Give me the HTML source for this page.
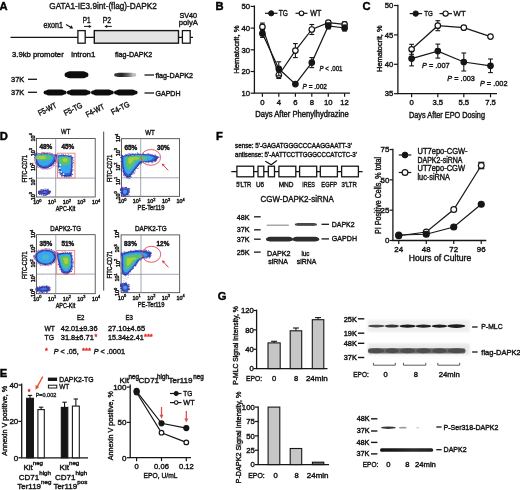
<!DOCTYPE html>
<html><head><meta charset="utf-8"><title>Figure</title>
<style>
html,body{margin:0;padding:0;background:#fff;}
body{width:520px;height:490px;overflow:hidden;}
svg{display:block;}
svg text{font-family:"Liberation Sans", Arial, sans-serif;}
</style></head><body>
<svg width="520" height="490" viewBox="0 0 520 490">
<defs>
<filter id="bl1" x="-20%" y="-50%" width="140%" height="200%"><feGaussianBlur stdDeviation="0.9"/></filter>
<filter id="bl05" x="-20%" y="-80%" width="140%" height="260%"><feGaussianBlur stdDeviation="0.5"/></filter>
<filter id="bl06" x="-30%" y="-30%" width="160%" height="160%"><feGaussianBlur stdDeviation="0.55"/></filter>
<filter id="bl03" x="-30%" y="-30%" width="160%" height="160%"><feGaussianBlur stdDeviation="0.3"/></filter>
<filter id="bl08" x="-30%" y="-30%" width="160%" height="160%"><feGaussianBlur stdDeviation="0.7"/></filter>
<linearGradient id="gA" x1="0" x2="1" y1="0" y2="0"><stop offset="0" stop-color="#383838"/><stop offset="0.3" stop-color="#262626"/><stop offset="0.65" stop-color="#686868"/><stop offset="1" stop-color="#d0d0d0"/></linearGradient>
<linearGradient id="gD" x1="0" x2="1" y1="0" y2="0"><stop offset="0" stop-color="#141414"/><stop offset="0.3" stop-color="#1c1c1c"/><stop offset="0.6" stop-color="#2c2c2c"/><stop offset="1" stop-color="#222"/></linearGradient>
</defs>
<rect width="520" height="490" fill="#fff"/>
<g fill="#161616">
<text x="-0.40" y="9.80" font-size="11.2" font-weight="bold" fill="#000" stroke="#000" stroke-width="0.42">A</text>
<text x="49.30" y="9.40" font-size="9.8" textLength="107.50" lengthAdjust="spacingAndGlyphs" stroke="#161616" stroke-width="0.42">GATA1-IE3.9int-(flag)-DAPK2</text>
<text x="43.50" y="27.60" font-size="8.2" textLength="19.40" lengthAdjust="spacingAndGlyphs" stroke="#161616" stroke-width="0.42">exon1</text>
<line x1="66.00" y1="24.40" x2="71.20" y2="27.40" stroke="#161616" stroke-width="1.2"/>
<path d="M73.2,28.6 L69.4,28.4 L71.4,25.2 Z" fill="#161616" stroke="none" stroke-width="1"/>
<text x="82.80" y="22.50" font-size="8.2" textLength="7.80" lengthAdjust="spacingAndGlyphs" stroke="#161616" stroke-width="0.42">P1</text>
<text x="102.70" y="22.50" font-size="8.2" textLength="8.30" lengthAdjust="spacingAndGlyphs" stroke="#161616" stroke-width="0.42">P2</text>
<line x1="84.00" y1="26.40" x2="89.50" y2="26.40" stroke="#161616" stroke-width="1"/>
<path d="M91.6,26.4 L88.8,24.8 L88.8,28.0 Z" fill="#161616" stroke="none" stroke-width="1"/>
<line x1="106.50" y1="26.40" x2="111.80" y2="26.40" stroke="#161616" stroke-width="1"/>
<path d="M104.4,26.4 L107.2,24.8 L107.2,28.0 Z" fill="#161616" stroke="none" stroke-width="1"/>
<line x1="10.50" y1="37.30" x2="193.00" y2="37.30" stroke="#161616" stroke-width="1.3"/>
<rect x="77.90" y="30.60" width="7.30" height="12.60" fill="#fff" stroke="#161616" stroke-width="1.3"/>
<rect x="94.30" y="30.60" width="84.20" height="12.60" fill="#e4e4e4" stroke="#161616" stroke-width="1.4"/>
<rect x="182.40" y="30.60" width="7.80" height="12.60" fill="#fff" stroke="#161616" stroke-width="1.3"/>
<text x="179.40" y="17.90" font-size="7.8" textLength="17.60" lengthAdjust="spacingAndGlyphs" stroke="#161616" stroke-width="0.42">SV40</text>
<text x="178.80" y="24.70" font-size="7.8" textLength="19.20" lengthAdjust="spacingAndGlyphs" stroke="#161616" stroke-width="0.42">polyA</text>
<text x="12.00" y="57.20" font-size="8.0" textLength="51.70" lengthAdjust="spacingAndGlyphs" stroke="#161616" stroke-width="0.42">3.9kb promoter</text>
<text x="71.20" y="57.20" font-size="8.0" textLength="24.20" lengthAdjust="spacingAndGlyphs" stroke="#161616" stroke-width="0.42">intron1</text>
<text x="115.00" y="57.30" font-size="7.8" textLength="37.30" lengthAdjust="spacingAndGlyphs" stroke="#161616" stroke-width="0.42">flag-DAPK2</text>
<text x="11.00" y="82.40" font-size="8" textLength="13.20" lengthAdjust="spacingAndGlyphs" stroke="#161616" stroke-width="0.42">37K</text>
<text x="11.00" y="95.40" font-size="8" textLength="13.20" lengthAdjust="spacingAndGlyphs" stroke="#161616" stroke-width="0.42">37K</text>
<line x1="28.00" y1="79.30" x2="37.00" y2="79.30" stroke="#161616" stroke-width="1.3"/>
<line x1="28.00" y1="92.30" x2="37.00" y2="92.30" stroke="#161616" stroke-width="1.3"/>
<line x1="144.50" y1="75.00" x2="154.00" y2="75.00" stroke="#161616" stroke-width="1.3"/>
<line x1="144.50" y1="93.00" x2="154.00" y2="93.00" stroke="#161616" stroke-width="1.3"/>
<text x="155.50" y="78.30" font-size="7.5" textLength="37.50" lengthAdjust="spacingAndGlyphs" stroke="#161616" stroke-width="0.42">flag-DAPK2</text>
<text x="155.50" y="96.30" font-size="7.5" textLength="25.00" lengthAdjust="spacingAndGlyphs" stroke="#161616" stroke-width="0.42">GAPDH</text>
<g filter="url(#bl08)" fill="#0e0e0e"><rect x="64.60" y="72.28" width="23.80" height="5.04" rx="2.52"/><rect x="66.38" y="71.30" width="20.23" height="7.00" rx="3.50"/></g>
<g filter="url(#bl06)" fill="url(#gA)"><rect x="114.20" y="73.32" width="22.20" height="3.17" rx="1.58"/><rect x="116.42" y="72.70" width="17.76" height="4.40" rx="2.20"/></g>
<g filter="url(#bl08)" fill="#111"><rect x="43.60" y="90.41" width="23.00" height="4.18" rx="2.09"/><rect x="45.90" y="89.60" width="18.40" height="5.80" rx="2.90"/></g>
<g filter="url(#bl08)" fill="#111"><rect x="66.80" y="90.41" width="23.80" height="4.18" rx="2.09"/><rect x="69.18" y="89.60" width="19.04" height="5.80" rx="2.90"/></g>
<g filter="url(#bl08)" fill="#111"><rect x="91.00" y="90.41" width="22.80" height="4.18" rx="2.09"/><rect x="93.28" y="89.60" width="18.24" height="5.80" rx="2.90"/></g>
<g filter="url(#bl08)" fill="#111"><rect x="114.00" y="90.41" width="23.60" height="4.18" rx="2.09"/><rect x="116.36" y="89.60" width="18.88" height="5.80" rx="2.90"/></g>
<text x="39.80" y="116.00" font-size="8" textLength="19.60" lengthAdjust="spacingAndGlyphs" stroke="#161616" stroke-width="0.42" transform="rotate(-27 39.80 116.00)">F5-WT</text>
<text x="65.60" y="115.90" font-size="8" textLength="19.60" lengthAdjust="spacingAndGlyphs" stroke="#161616" stroke-width="0.42" transform="rotate(-27 65.60 115.90)">F5-TG</text>
<text x="87.50" y="117.40" font-size="8" textLength="19.60" lengthAdjust="spacingAndGlyphs" stroke="#161616" stroke-width="0.42" transform="rotate(-27 87.50 117.40)">F4-WT</text>
<text x="112.80" y="114.90" font-size="8" textLength="19.60" lengthAdjust="spacingAndGlyphs" stroke="#161616" stroke-width="0.42" transform="rotate(-27 112.80 114.90)">F4-TG</text>
<text x="215.50" y="10.30" font-size="11.2" font-weight="bold" fill="#000" stroke="#000" stroke-width="0.42">B</text>
<line x1="254.40" y1="5.50" x2="254.40" y2="93.20" stroke="#161616" stroke-width="1.3"/>
<line x1="253.80" y1="93.20" x2="350.00" y2="93.20" stroke="#161616" stroke-width="1.3"/>
<line x1="250.60" y1="93.20" x2="254.40" y2="93.20" stroke="#161616" stroke-width="1.2"/>
<text x="250.00" y="95.90" font-size="7.7" text-anchor="end" stroke="#161616" stroke-width="0.42">10</text>
<line x1="250.60" y1="71.50" x2="254.40" y2="71.50" stroke="#161616" stroke-width="1.2"/>
<text x="250.00" y="74.20" font-size="7.7" text-anchor="end" stroke="#161616" stroke-width="0.42">20</text>
<line x1="250.60" y1="49.80" x2="254.40" y2="49.80" stroke="#161616" stroke-width="1.2"/>
<text x="250.00" y="52.50" font-size="7.7" text-anchor="end" stroke="#161616" stroke-width="0.42">30</text>
<line x1="250.60" y1="28.10" x2="254.40" y2="28.10" stroke="#161616" stroke-width="1.2"/>
<text x="250.00" y="30.80" font-size="7.7" text-anchor="end" stroke="#161616" stroke-width="0.42">40</text>
<line x1="250.60" y1="6.40" x2="254.40" y2="6.40" stroke="#161616" stroke-width="1.2"/>
<text x="250.00" y="9.10" font-size="7.7" text-anchor="end" stroke="#161616" stroke-width="0.42">50</text>
<line x1="262.40" y1="93.20" x2="262.40" y2="96.80" stroke="#161616" stroke-width="1.2"/>
<text x="262.40" y="105.00" font-size="7.7" text-anchor="middle" stroke="#161616" stroke-width="0.42">0</text>
<line x1="278.80" y1="93.20" x2="278.80" y2="96.80" stroke="#161616" stroke-width="1.2"/>
<text x="278.80" y="105.00" font-size="7.7" text-anchor="middle" stroke="#161616" stroke-width="0.42">4</text>
<line x1="295.40" y1="93.20" x2="295.40" y2="96.80" stroke="#161616" stroke-width="1.2"/>
<text x="295.40" y="105.00" font-size="7.7" text-anchor="middle" stroke="#161616" stroke-width="0.42">6</text>
<line x1="311.80" y1="93.20" x2="311.80" y2="96.80" stroke="#161616" stroke-width="1.2"/>
<text x="311.80" y="105.00" font-size="7.7" text-anchor="middle" stroke="#161616" stroke-width="0.42">8</text>
<line x1="328.30" y1="93.20" x2="328.30" y2="96.80" stroke="#161616" stroke-width="1.2"/>
<text x="328.30" y="105.00" font-size="7.7" text-anchor="middle" stroke="#161616" stroke-width="0.42">10</text>
<line x1="344.60" y1="93.20" x2="344.60" y2="96.80" stroke="#161616" stroke-width="1.2"/>
<text x="344.60" y="105.00" font-size="7.7" text-anchor="middle" stroke="#161616" stroke-width="0.42">12</text>
<text x="302.00" y="117.30" font-size="8.2" text-anchor="middle" textLength="93.50" lengthAdjust="spacingAndGlyphs" stroke="#161616" stroke-width="0.42">Days After Phenylhydrazine</text>
<text x="239.20" y="49.60" font-size="8.0" text-anchor="middle" textLength="48.50" lengthAdjust="spacingAndGlyphs" stroke="#161616" stroke-width="0.42" transform="rotate(-90 239.20 49.60)">Hematocrit, %</text>
<path d="M262.40,26.90 L278.80,75.00 L295.40,50.60 L311.80,29.50 L328.30,22.70 L344.60,24.40" fill="none" stroke="#161616" stroke-width="1.2"/>
<line x1="262.40" y1="23.10" x2="262.40" y2="30.70" stroke="#161616" stroke-width="1.1"/>
<line x1="260.00" y1="23.10" x2="264.80" y2="23.10" stroke="#161616" stroke-width="1.1"/>
<line x1="260.00" y1="30.70" x2="264.80" y2="30.70" stroke="#161616" stroke-width="1.1"/>
<line x1="278.80" y1="71.50" x2="278.80" y2="78.50" stroke="#161616" stroke-width="1.1"/>
<line x1="276.40" y1="71.50" x2="281.20" y2="71.50" stroke="#161616" stroke-width="1.1"/>
<line x1="276.40" y1="78.50" x2="281.20" y2="78.50" stroke="#161616" stroke-width="1.1"/>
<line x1="295.40" y1="43.60" x2="295.40" y2="57.60" stroke="#161616" stroke-width="1.1"/>
<line x1="293.00" y1="43.60" x2="297.80" y2="43.60" stroke="#161616" stroke-width="1.1"/>
<line x1="293.00" y1="57.60" x2="297.80" y2="57.60" stroke="#161616" stroke-width="1.1"/>
<line x1="311.80" y1="24.50" x2="311.80" y2="34.50" stroke="#161616" stroke-width="1.1"/>
<line x1="309.40" y1="24.50" x2="314.20" y2="24.50" stroke="#161616" stroke-width="1.1"/>
<line x1="309.40" y1="34.50" x2="314.20" y2="34.50" stroke="#161616" stroke-width="1.1"/>
<line x1="328.30" y1="20.70" x2="328.30" y2="24.70" stroke="#161616" stroke-width="1.1"/>
<line x1="325.90" y1="20.70" x2="330.70" y2="20.70" stroke="#161616" stroke-width="1.1"/>
<line x1="325.90" y1="24.70" x2="330.70" y2="24.70" stroke="#161616" stroke-width="1.1"/>
<line x1="344.60" y1="21.90" x2="344.60" y2="26.90" stroke="#161616" stroke-width="1.1"/>
<line x1="342.20" y1="21.90" x2="347.00" y2="21.90" stroke="#161616" stroke-width="1.1"/>
<line x1="342.20" y1="26.90" x2="347.00" y2="26.90" stroke="#161616" stroke-width="1.1"/>
<circle cx="262.40" cy="26.90" r="2.75" fill="#fff" stroke="#161616" stroke-width="1.2"/>
<circle cx="278.80" cy="75.00" r="2.75" fill="#fff" stroke="#161616" stroke-width="1.2"/>
<circle cx="295.40" cy="50.60" r="2.75" fill="#fff" stroke="#161616" stroke-width="1.2"/>
<circle cx="311.80" cy="29.50" r="2.75" fill="#fff" stroke="#161616" stroke-width="1.2"/>
<circle cx="328.30" cy="22.70" r="2.75" fill="#fff" stroke="#161616" stroke-width="1.2"/>
<circle cx="344.60" cy="24.40" r="2.75" fill="#fff" stroke="#161616" stroke-width="1.2"/>
<path d="M262.40,33.40 L278.80,68.80 L295.40,84.10 L311.80,62.60 L328.30,25.90 L344.60,28.00" fill="none" stroke="#161616" stroke-width="1.2"/>
<line x1="262.40" y1="29.40" x2="262.40" y2="37.40" stroke="#161616" stroke-width="1.1"/>
<line x1="260.00" y1="29.40" x2="264.80" y2="29.40" stroke="#161616" stroke-width="1.1"/>
<line x1="260.00" y1="37.40" x2="264.80" y2="37.40" stroke="#161616" stroke-width="1.1"/>
<line x1="278.80" y1="61.80" x2="278.80" y2="75.80" stroke="#161616" stroke-width="1.1"/>
<line x1="276.40" y1="61.80" x2="281.20" y2="61.80" stroke="#161616" stroke-width="1.1"/>
<line x1="276.40" y1="75.80" x2="281.20" y2="75.80" stroke="#161616" stroke-width="1.1"/>
<line x1="311.80" y1="57.60" x2="311.80" y2="67.60" stroke="#161616" stroke-width="1.1"/>
<line x1="309.40" y1="57.60" x2="314.20" y2="57.60" stroke="#161616" stroke-width="1.1"/>
<line x1="309.40" y1="67.60" x2="314.20" y2="67.60" stroke="#161616" stroke-width="1.1"/>
<line x1="328.30" y1="22.90" x2="328.30" y2="28.90" stroke="#161616" stroke-width="1.1"/>
<line x1="325.90" y1="22.90" x2="330.70" y2="22.90" stroke="#161616" stroke-width="1.1"/>
<line x1="325.90" y1="28.90" x2="330.70" y2="28.90" stroke="#161616" stroke-width="1.1"/>
<line x1="344.60" y1="25.00" x2="344.60" y2="31.00" stroke="#161616" stroke-width="1.1"/>
<line x1="342.20" y1="25.00" x2="347.00" y2="25.00" stroke="#161616" stroke-width="1.1"/>
<line x1="342.20" y1="31.00" x2="347.00" y2="31.00" stroke="#161616" stroke-width="1.1"/>
<circle cx="262.40" cy="33.40" r="2.75" fill="#161616" stroke="#161616" stroke-width="1.2"/>
<circle cx="278.80" cy="68.80" r="2.75" fill="#161616" stroke="#161616" stroke-width="1.2"/>
<circle cx="295.40" cy="84.10" r="2.75" fill="#161616" stroke="#161616" stroke-width="1.2"/>
<circle cx="311.80" cy="62.60" r="2.75" fill="#161616" stroke="#161616" stroke-width="1.2"/>
<circle cx="328.30" cy="25.90" r="2.75" fill="#161616" stroke="#161616" stroke-width="1.2"/>
<circle cx="344.60" cy="28.00" r="2.75" fill="#161616" stroke="#161616" stroke-width="1.2"/>
<text x="319.50" y="70.80" font-size="7.6" stroke="#161616" stroke-width="0.42" textLength="23" lengthAdjust="spacingAndGlyphs"><tspan font-style="italic">P</tspan> &lt; .001</text>
<text x="302.50" y="88.80" font-size="7.6" stroke="#161616" stroke-width="0.42" textLength="24.5" lengthAdjust="spacingAndGlyphs"><tspan font-style="italic">P</tspan> = .002</text>
<line x1="265.00" y1="13.30" x2="277.50" y2="13.30" stroke="#161616" stroke-width="1.2"/>
<circle cx="271.20" cy="13.30" r="2.6" fill="#161616" stroke="#161616" stroke-width="1"/>
<text x="278.80" y="16.10" font-size="8.2" textLength="9.20" lengthAdjust="spacingAndGlyphs" stroke="#161616" stroke-width="0.42">TG</text>
<line x1="295.50" y1="13.30" x2="307.50" y2="13.30" stroke="#161616" stroke-width="1.2"/>
<circle cx="301.50" cy="13.30" r="2.3" fill="#fff" stroke="#161616" stroke-width="1.2"/>
<text x="310.30" y="16.10" font-size="8.2" textLength="11.00" lengthAdjust="spacingAndGlyphs" stroke="#161616" stroke-width="0.42">WT</text>
<text x="362.50" y="10.30" font-size="11.2" font-weight="bold" fill="#000" stroke="#000" stroke-width="0.42">C</text>
<line x1="397.90" y1="4.80" x2="397.90" y2="93.70" stroke="#161616" stroke-width="1.3"/>
<line x1="397.30" y1="93.70" x2="497.00" y2="93.70" stroke="#161616" stroke-width="1.3"/>
<line x1="394.00" y1="93.70" x2="397.90" y2="93.70" stroke="#161616" stroke-width="1.2"/>
<text x="393.30" y="96.40" font-size="7.7" text-anchor="end" stroke="#161616" stroke-width="0.42">35</text>
<line x1="394.00" y1="64.30" x2="397.90" y2="64.30" stroke="#161616" stroke-width="1.2"/>
<text x="393.30" y="67.00" font-size="7.7" text-anchor="end" stroke="#161616" stroke-width="0.42">40</text>
<line x1="394.00" y1="34.90" x2="397.90" y2="34.90" stroke="#161616" stroke-width="1.2"/>
<text x="393.30" y="37.60" font-size="7.7" text-anchor="end" stroke="#161616" stroke-width="0.42">45</text>
<line x1="394.00" y1="5.50" x2="397.90" y2="5.50" stroke="#161616" stroke-width="1.2"/>
<text x="393.30" y="8.20" font-size="7.7" text-anchor="end" stroke="#161616" stroke-width="0.42">50</text>
<line x1="411.60" y1="93.70" x2="411.60" y2="97.30" stroke="#161616" stroke-width="1.2"/>
<text x="411.60" y="105.20" font-size="7.7" text-anchor="middle" stroke="#161616" stroke-width="0.42">0</text>
<line x1="437.80" y1="93.70" x2="437.80" y2="97.30" stroke="#161616" stroke-width="1.2"/>
<text x="437.80" y="105.20" font-size="7.7" text-anchor="middle" stroke="#161616" stroke-width="0.42">3.5</text>
<line x1="463.80" y1="93.70" x2="463.80" y2="97.30" stroke="#161616" stroke-width="1.2"/>
<text x="463.80" y="105.20" font-size="7.7" text-anchor="middle" stroke="#161616" stroke-width="0.42">5.5</text>
<line x1="490.50" y1="93.70" x2="490.50" y2="97.30" stroke="#161616" stroke-width="1.2"/>
<text x="490.50" y="105.20" font-size="7.7" text-anchor="middle" stroke="#161616" stroke-width="0.42">7.5</text>
<text x="447.00" y="118.20" font-size="8.6" text-anchor="middle" textLength="76.00" lengthAdjust="spacingAndGlyphs" stroke="#161616" stroke-width="0.42">Days After EPO Dosing</text>
<text x="382.00" y="48.70" font-size="8.0" text-anchor="middle" textLength="46.50" lengthAdjust="spacingAndGlyphs" stroke="#161616" stroke-width="0.42" transform="rotate(-90 382.00 48.70)">Hematocrit, %</text>
<path d="M411.60,49.30 L437.80,25.70 L463.80,27.70 L490.50,36.60" fill="none" stroke="#161616" stroke-width="1.2"/>
<line x1="411.60" y1="44.30" x2="411.60" y2="54.30" stroke="#161616" stroke-width="1.1"/>
<line x1="409.20" y1="44.30" x2="414.00" y2="44.30" stroke="#161616" stroke-width="1.1"/>
<line x1="409.20" y1="54.30" x2="414.00" y2="54.30" stroke="#161616" stroke-width="1.1"/>
<line x1="437.80" y1="20.70" x2="437.80" y2="30.70" stroke="#161616" stroke-width="1.1"/>
<line x1="435.40" y1="20.70" x2="440.20" y2="20.70" stroke="#161616" stroke-width="1.1"/>
<line x1="435.40" y1="30.70" x2="440.20" y2="30.70" stroke="#161616" stroke-width="1.1"/>
<line x1="463.80" y1="26.70" x2="463.80" y2="28.70" stroke="#161616" stroke-width="1.1"/>
<line x1="461.40" y1="26.70" x2="466.20" y2="26.70" stroke="#161616" stroke-width="1.1"/>
<line x1="461.40" y1="28.70" x2="466.20" y2="28.70" stroke="#161616" stroke-width="1.1"/>
<line x1="490.50" y1="35.60" x2="490.50" y2="37.60" stroke="#161616" stroke-width="1.1"/>
<line x1="488.10" y1="35.60" x2="492.90" y2="35.60" stroke="#161616" stroke-width="1.1"/>
<line x1="488.10" y1="37.60" x2="492.90" y2="37.60" stroke="#161616" stroke-width="1.1"/>
<circle cx="411.60" cy="49.30" r="2.75" fill="#fff" stroke="#161616" stroke-width="1.2"/>
<circle cx="437.80" cy="25.70" r="2.75" fill="#fff" stroke="#161616" stroke-width="1.2"/>
<circle cx="463.80" cy="27.70" r="2.75" fill="#fff" stroke="#161616" stroke-width="1.2"/>
<circle cx="490.50" cy="36.60" r="2.75" fill="#fff" stroke="#161616" stroke-width="1.2"/>
<path d="M411.60,58.60 L437.80,51.10 L463.80,62.00 L490.50,65.80" fill="none" stroke="#161616" stroke-width="1.2"/>
<line x1="411.60" y1="51.30" x2="411.60" y2="65.90" stroke="#161616" stroke-width="1.1"/>
<line x1="409.20" y1="51.30" x2="414.00" y2="51.30" stroke="#161616" stroke-width="1.1"/>
<line x1="409.20" y1="65.90" x2="414.00" y2="65.90" stroke="#161616" stroke-width="1.1"/>
<line x1="437.80" y1="44.10" x2="437.80" y2="58.10" stroke="#161616" stroke-width="1.1"/>
<line x1="435.40" y1="44.10" x2="440.20" y2="44.10" stroke="#161616" stroke-width="1.1"/>
<line x1="435.40" y1="58.10" x2="440.20" y2="58.10" stroke="#161616" stroke-width="1.1"/>
<line x1="463.80" y1="53.00" x2="463.80" y2="71.00" stroke="#161616" stroke-width="1.1"/>
<line x1="461.40" y1="53.00" x2="466.20" y2="53.00" stroke="#161616" stroke-width="1.1"/>
<line x1="461.40" y1="71.00" x2="466.20" y2="71.00" stroke="#161616" stroke-width="1.1"/>
<line x1="490.50" y1="59.00" x2="490.50" y2="72.60" stroke="#161616" stroke-width="1.1"/>
<line x1="488.10" y1="59.00" x2="492.90" y2="59.00" stroke="#161616" stroke-width="1.1"/>
<line x1="488.10" y1="72.60" x2="492.90" y2="72.60" stroke="#161616" stroke-width="1.1"/>
<circle cx="411.60" cy="58.60" r="2.75" fill="#161616" stroke="#161616" stroke-width="1.2"/>
<circle cx="437.80" cy="51.10" r="2.75" fill="#161616" stroke="#161616" stroke-width="1.2"/>
<circle cx="463.80" cy="62.00" r="2.75" fill="#161616" stroke="#161616" stroke-width="1.2"/>
<circle cx="490.50" cy="65.80" r="2.75" fill="#161616" stroke="#161616" stroke-width="1.2"/>
<text x="422.00" y="68.20" font-size="8.0" stroke="#161616" stroke-width="0.42" textLength="27.6" lengthAdjust="spacingAndGlyphs"><tspan font-style="italic">P</tspan> = .007</text>
<text x="447.30" y="81.30" font-size="8.0" stroke="#161616" stroke-width="0.42" textLength="27.6" lengthAdjust="spacingAndGlyphs"><tspan font-style="italic">P</tspan> = .003</text>
<text x="479.90" y="85.90" font-size="8.0" stroke="#161616" stroke-width="0.42" textLength="27.6" lengthAdjust="spacingAndGlyphs"><tspan font-style="italic">P</tspan> = .002</text>
<line x1="409.70" y1="13.60" x2="422.10" y2="13.60" stroke="#161616" stroke-width="1.2"/>
<circle cx="415.70" cy="13.60" r="2.7" fill="#161616" stroke="#161616" stroke-width="1"/>
<text x="424.30" y="16.30" font-size="8.0" textLength="8.60" lengthAdjust="spacingAndGlyphs" stroke="#161616" stroke-width="0.42">TG</text>
<line x1="439.50" y1="13.60" x2="452.00" y2="13.60" stroke="#161616" stroke-width="1.2"/>
<circle cx="445.60" cy="13.60" r="2.6" fill="#fff" stroke="#161616" stroke-width="1.2"/>
<text x="453.60" y="16.30" font-size="8.0" textLength="12.00" lengthAdjust="spacingAndGlyphs" stroke="#161616" stroke-width="0.42">WT</text>
<text x="-0.30" y="139.50" font-size="11.2" font-weight="bold" fill="#000" stroke="#000" stroke-width="0.42">D</text>
<line x1="103.70" y1="131.60" x2="103.70" y2="290.60" stroke="#333" stroke-width="0.9"/>
<rect x="36.50" y="138.40" width="58.70" height="58.60" fill="#fff" stroke="#3a3a3a" stroke-width="0.8"/>
<line x1="55.70" y1="138.40" x2="55.70" y2="197.00" stroke="#7c8294" stroke-width="0.7"/>
<line x1="36.50" y1="178.10" x2="95.20" y2="178.10" stroke="#7c8294" stroke-width="0.7"/>
<text x="65.70" y="134.40" font-size="7.4" text-anchor="middle" textLength="9.30" lengthAdjust="spacingAndGlyphs" stroke="#161616" stroke-width="0.42">WT</text>
<text x="39.40" y="149.20" font-size="6.6" textLength="12.90" lengthAdjust="spacingAndGlyphs" font-weight="bold" fill="#111" stroke="#111" stroke-width="0.42">48%</text>
<text x="61.50" y="149.20" font-size="6.6" textLength="12.70" lengthAdjust="spacingAndGlyphs" font-weight="bold" fill="#111" stroke="#111" stroke-width="0.42">45%</text>
<text stroke="#161616" stroke-width="0.42" x="33.30" y="203.90" font-size="5.4">10<tspan dy="-2.4" font-size="3.89">0</tspan></text>
<text stroke="#161616" stroke-width="0.42" x="47.97" y="203.90" font-size="5.4">10<tspan dy="-2.4" font-size="3.89">1</tspan></text>
<text stroke="#161616" stroke-width="0.42" x="62.65" y="203.90" font-size="5.4">10<tspan dy="-2.4" font-size="3.89">2</tspan></text>
<text stroke="#161616" stroke-width="0.42" x="77.33" y="203.90" font-size="5.4">10<tspan dy="-2.4" font-size="3.89">3</tspan></text>
<text stroke="#161616" stroke-width="0.42" x="92.00" y="203.90" font-size="5.4">10<tspan dy="-2.4" font-size="3.89">4</tspan></text>
<text stroke="#161616" stroke-width="0.42" x="34.90" y="200.20" font-size="5.4" transform="rotate(-90 34.90 200.20)">10<tspan dy="-2.4" font-size="3.89">0</tspan></text>
<text stroke="#161616" stroke-width="0.42" x="34.90" y="185.55" font-size="5.4" transform="rotate(-90 34.90 185.55)">10<tspan dy="-2.4" font-size="3.89">1</tspan></text>
<text stroke="#161616" stroke-width="0.42" x="34.90" y="170.90" font-size="5.4" transform="rotate(-90 34.90 170.90)">10<tspan dy="-2.4" font-size="3.89">2</tspan></text>
<text stroke="#161616" stroke-width="0.42" x="34.90" y="156.25" font-size="5.4" transform="rotate(-90 34.90 156.25)">10<tspan dy="-2.4" font-size="3.89">3</tspan></text>
<text stroke="#161616" stroke-width="0.42" x="34.90" y="141.60" font-size="5.4" transform="rotate(-90 34.90 141.60)">10<tspan dy="-2.4" font-size="3.89">4</tspan></text>
<text x="65.50" y="211.00" font-size="7.0" text-anchor="middle" textLength="19.60" lengthAdjust="spacingAndGlyphs" stroke="#161616" stroke-width="0.42">APC-Kit</text>
<text x="27.10" y="168.70" font-size="6.6" text-anchor="middle" textLength="27.50" lengthAdjust="spacingAndGlyphs" stroke="#161616" stroke-width="0.42" transform="rotate(-90 27.10 168.70)">FITC-CD71</text>
<g filter="url(#bl06)"><path d="M35.6,154.2 C40,152.8 50,152.8 55.4,155 C57,156 57,158.5 56,160 C53.5,165 49,168.6 44.5,168.4 C39.5,168 35.8,164.5 35.6,160 Z" fill="#2a2f8e"/><path d="M35.6,154.2 C40,152.8 50,152.8 55.4,155 C57,156 57,158.5 56,160 C53.5,165 49,168.6 44.5,168.4 C39.5,168 35.8,164.5 35.6,160 Z" fill="#2f63d6" transform="translate(42 156.0) scale(0.92) translate(-42 -156.0)"/><path d="M35.6,154.2 C40,152.8 50,152.8 55.4,155 C57,156 57,158.5 56,160 C53.5,165 49,168.6 44.5,168.4 C39.5,168 35.8,164.5 35.6,160 Z" fill="#39a6ec" transform="translate(42 156.0) scale(0.8) translate(-42 -156.0)"/></g>
<g><circle cx="35.18" cy="153.36" r="0.51" fill="#2a2a90"/><circle cx="36.37" cy="153.23" r="0.50" fill="#4a3aa8"/><circle cx="35.27" cy="153.82" r="0.37" fill="#2a2a90"/><circle cx="36.51" cy="152.92" r="0.49" fill="#4a3aa8"/><circle cx="37.57" cy="153.99" r="0.37" fill="#6a4ab0"/><circle cx="36.18" cy="153.12" r="0.49" fill="#4a3aa8"/><circle cx="37.71" cy="152.77" r="0.38" fill="#2f55c8"/><circle cx="38.36" cy="154.06" r="0.38" fill="#4a3aa8"/><circle cx="38.94" cy="153.60" r="0.37" fill="#2a2a90"/><circle cx="39.54" cy="153.47" r="0.48" fill="#2f55c8"/><circle cx="40.26" cy="154.39" r="0.44" fill="#4a3aa8"/><circle cx="41.05" cy="153.85" r="0.41" fill="#2f55c8"/><circle cx="41.55" cy="154.20" r="0.53" fill="#2f55c8"/><circle cx="41.75" cy="152.27" r="0.48" fill="#4a3aa8"/><circle cx="43.29" cy="152.41" r="0.47" fill="#2a2a90"/><circle cx="43.78" cy="152.24" r="0.49" fill="#2f55c8"/><circle cx="43.51" cy="152.87" r="0.47" fill="#6a4ab0"/><circle cx="42.85" cy="152.26" r="0.42" fill="#2a2a90"/><circle cx="44.07" cy="153.73" r="0.51" fill="#6a4ab0"/><circle cx="44.61" cy="152.98" r="0.52" fill="#2a2a90"/><circle cx="47.43" cy="152.95" r="0.50" fill="#6a4ab0"/><circle cx="45.31" cy="153.94" r="0.38" fill="#4a3aa8"/><circle cx="47.37" cy="154.38" r="0.47" fill="#4a3aa8"/><circle cx="47.49" cy="153.50" r="0.57" fill="#6a4ab0"/><circle cx="49.72" cy="152.97" r="0.45" fill="#2f55c8"/><circle cx="49.28" cy="153.22" r="0.41" fill="#2a2a90"/><circle cx="49.28" cy="153.02" r="0.41" fill="#6a4ab0"/><circle cx="50.85" cy="152.90" r="0.42" fill="#4a3aa8"/><circle cx="51.04" cy="153.54" r="0.49" fill="#4a3aa8"/><circle cx="51.69" cy="153.89" r="0.50" fill="#2a2a90"/><circle cx="52.26" cy="154.97" r="0.59" fill="#6a4ab0"/><circle cx="52.12" cy="153.83" r="0.47" fill="#6a4ab0"/><circle cx="52.39" cy="153.31" r="0.40" fill="#4a3aa8"/><circle cx="52.51" cy="154.59" r="0.38" fill="#4a3aa8"/><circle cx="54.55" cy="155.73" r="0.50" fill="#2a2a90"/><circle cx="55.36" cy="154.93" r="0.39" fill="#2f55c8"/><circle cx="56.49" cy="155.25" r="0.47" fill="#2a2a90"/><circle cx="56.24" cy="156.18" r="0.47" fill="#6a4ab0"/><circle cx="55.20" cy="154.33" r="0.54" fill="#2f55c8"/><circle cx="55.60" cy="155.64" r="0.48" fill="#4a3aa8"/><circle cx="56.96" cy="155.45" r="0.39" fill="#2a2a90"/><circle cx="56.49" cy="154.90" r="0.51" fill="#2a2a90"/><circle cx="56.54" cy="155.04" r="0.44" fill="#4a3aa8"/><circle cx="55.72" cy="154.95" r="0.49" fill="#2f55c8"/><circle cx="56.56" cy="156.13" r="0.55" fill="#4a3aa8"/><circle cx="56.97" cy="156.63" r="0.53" fill="#4a3aa8"/><circle cx="55.66" cy="156.11" r="0.53" fill="#2a2a90"/><circle cx="57.07" cy="156.06" r="0.40" fill="#2f55c8"/><circle cx="56.36" cy="157.46" r="0.60" fill="#2f55c8"/><circle cx="55.48" cy="155.45" r="0.47" fill="#2f55c8"/><circle cx="55.87" cy="157.00" r="0.58" fill="#2a2a90"/><circle cx="56.53" cy="157.07" r="0.55" fill="#2a2a90"/><circle cx="57.44" cy="156.09" r="0.45" fill="#4a3aa8"/><circle cx="56.59" cy="156.23" r="0.55" fill="#2f55c8"/><circle cx="55.68" cy="158.38" r="0.53" fill="#6a4ab0"/><circle cx="56.44" cy="158.38" r="0.53" fill="#4a3aa8"/><circle cx="57.87" cy="156.49" r="0.50" fill="#6a4ab0"/><circle cx="57.42" cy="156.78" r="0.56" fill="#6a4ab0"/><circle cx="57.06" cy="157.58" r="0.49" fill="#4a3aa8"/><circle cx="55.53" cy="158.66" r="0.53" fill="#2a2a90"/><circle cx="56.71" cy="159.30" r="0.46" fill="#4a3aa8"/><circle cx="57.43" cy="157.57" r="0.41" fill="#2f55c8"/><circle cx="56.59" cy="159.20" r="0.43" fill="#6a4ab0"/><circle cx="57.39" cy="157.52" r="0.53" fill="#6a4ab0"/><circle cx="56.90" cy="159.64" r="0.48" fill="#4a3aa8"/><circle cx="56.59" cy="158.94" r="0.35" fill="#6a4ab0"/><circle cx="57.08" cy="159.44" r="0.54" fill="#4a3aa8"/><circle cx="55.63" cy="159.11" r="0.53" fill="#2a2a90"/><circle cx="55.88" cy="159.51" r="0.49" fill="#2a2a90"/><circle cx="57.22" cy="158.40" r="0.40" fill="#2a2a90"/><circle cx="56.81" cy="159.76" r="0.49" fill="#2a2a90"/><circle cx="56.02" cy="160.01" r="0.48" fill="#4a3aa8"/><circle cx="56.46" cy="159.89" r="0.48" fill="#6a4ab0"/><circle cx="56.02" cy="159.39" r="0.48" fill="#2f55c8"/><circle cx="56.58" cy="161.76" r="0.40" fill="#6a4ab0"/><circle cx="54.69" cy="159.91" r="0.46" fill="#2a2a90"/><circle cx="55.51" cy="161.44" r="0.40" fill="#2f55c8"/><circle cx="55.78" cy="162.56" r="0.39" fill="#2f55c8"/><circle cx="53.74" cy="163.29" r="0.59" fill="#4a3aa8"/><circle cx="55.18" cy="161.40" r="0.57" fill="#4a3aa8"/><circle cx="55.23" cy="163.90" r="0.39" fill="#6a4ab0"/><circle cx="55.24" cy="162.87" r="0.46" fill="#2f55c8"/><circle cx="53.06" cy="164.32" r="0.35" fill="#6a4ab0"/><circle cx="53.35" cy="162.63" r="0.43" fill="#2f55c8"/><circle cx="52.94" cy="163.40" r="0.60" fill="#4a3aa8"/><circle cx="54.04" cy="163.50" r="0.42" fill="#2a2a90"/><circle cx="53.27" cy="164.29" r="0.54" fill="#6a4ab0"/><circle cx="53.13" cy="165.48" r="0.59" fill="#6a4ab0"/><circle cx="50.82" cy="166.63" r="0.49" fill="#2f55c8"/><circle cx="50.67" cy="164.56" r="0.52" fill="#6a4ab0"/><circle cx="51.95" cy="165.60" r="0.35" fill="#2a2a90"/><circle cx="51.72" cy="165.15" r="0.56" fill="#2a2a90"/><circle cx="49.76" cy="165.72" r="0.35" fill="#6a4ab0"/><circle cx="51.35" cy="166.07" r="0.38" fill="#4a3aa8"/><circle cx="50.68" cy="168.18" r="0.42" fill="#4a3aa8"/><circle cx="48.92" cy="166.60" r="0.43" fill="#4a3aa8"/><circle cx="48.42" cy="167.42" r="0.39" fill="#2f55c8"/><circle cx="49.65" cy="168.61" r="0.36" fill="#2a2a90"/><circle cx="48.77" cy="167.86" r="0.40" fill="#6a4ab0"/><circle cx="47.60" cy="167.61" r="0.51" fill="#6a4ab0"/><circle cx="47.85" cy="168.11" r="0.57" fill="#2f55c8"/><circle cx="47.93" cy="169.15" r="0.44" fill="#4a3aa8"/><circle cx="46.51" cy="167.83" r="0.36" fill="#4a3aa8"/><circle cx="45.57" cy="168.50" r="0.57" fill="#6a4ab0"/><circle cx="45.19" cy="167.33" r="0.56" fill="#2f55c8"/><circle cx="46.23" cy="168.79" r="0.36" fill="#4a3aa8"/><circle cx="44.43" cy="168.27" r="0.42" fill="#2f55c8"/><circle cx="46.38" cy="168.51" r="0.41" fill="#2f55c8"/><circle cx="43.82" cy="167.64" r="0.43" fill="#2a2a90"/><circle cx="44.44" cy="168.41" r="0.40" fill="#2a2a90"/><circle cx="42.70" cy="169.07" r="0.39" fill="#2a2a90"/><circle cx="43.42" cy="167.82" r="0.51" fill="#2a2a90"/><circle cx="43.09" cy="168.22" r="0.54" fill="#6a4ab0"/><circle cx="43.52" cy="168.68" r="0.47" fill="#2f55c8"/><circle cx="42.66" cy="168.30" r="0.36" fill="#6a4ab0"/><circle cx="42.68" cy="168.70" r="0.38" fill="#2a2a90"/><circle cx="42.17" cy="167.90" r="0.57" fill="#4a3aa8"/><circle cx="40.39" cy="166.60" r="0.51" fill="#2a2a90"/><circle cx="40.39" cy="167.28" r="0.36" fill="#2a2a90"/><circle cx="40.98" cy="167.83" r="0.47" fill="#2a2a90"/><circle cx="39.91" cy="166.01" r="0.58" fill="#2a2a90"/><circle cx="40.40" cy="166.00" r="0.53" fill="#2f55c8"/><circle cx="40.13" cy="167.48" r="0.41" fill="#4a3aa8"/><circle cx="38.74" cy="167.01" r="0.47" fill="#6a4ab0"/><circle cx="37.78" cy="167.20" r="0.42" fill="#2a2a90"/><circle cx="39.08" cy="166.56" r="0.37" fill="#4a3aa8"/><circle cx="37.85" cy="166.10" r="0.52" fill="#4a3aa8"/><circle cx="37.08" cy="164.68" r="0.42" fill="#2a2a90"/><circle cx="38.21" cy="165.64" r="0.42" fill="#2f55c8"/><circle cx="37.66" cy="165.14" r="0.38" fill="#4a3aa8"/><circle cx="36.84" cy="163.68" r="0.47" fill="#2f55c8"/><circle cx="37.19" cy="165.44" r="0.59" fill="#6a4ab0"/><circle cx="38.07" cy="163.82" r="0.58" fill="#4a3aa8"/><circle cx="35.86" cy="163.11" r="0.54" fill="#2f55c8"/><circle cx="37.62" cy="162.59" r="0.56" fill="#2f55c8"/><circle cx="37.46" cy="163.96" r="0.41" fill="#6a4ab0"/><circle cx="35.97" cy="162.01" r="0.59" fill="#6a4ab0"/><circle cx="36.00" cy="163.37" r="0.45" fill="#6a4ab0"/><circle cx="35.54" cy="162.97" r="0.35" fill="#2f55c8"/><circle cx="36.80" cy="161.25" r="0.58" fill="#2a2a90"/><circle cx="36.76" cy="160.96" r="0.44" fill="#6a4ab0"/><circle cx="35.53" cy="162.35" r="0.37" fill="#6a4ab0"/><circle cx="36.28" cy="161.59" r="0.42" fill="#2a2a90"/><circle cx="36.47" cy="160.23" r="0.58" fill="#4a3aa8"/><circle cx="36.73" cy="159.85" r="0.43" fill="#2f55c8"/><circle cx="36.28" cy="159.83" r="0.36" fill="#6a4ab0"/><circle cx="36.59" cy="160.74" r="0.49" fill="#2a2a90"/><circle cx="34.52" cy="160.24" r="0.46" fill="#4a3aa8"/><circle cx="35.95" cy="158.84" r="0.36" fill="#4a3aa8"/><circle cx="34.81" cy="159.15" r="0.42" fill="#2f55c8"/><circle cx="36.17" cy="160.18" r="0.42" fill="#4a3aa8"/><circle cx="35.12" cy="159.17" r="0.45" fill="#4a3aa8"/><circle cx="35.94" cy="157.69" r="0.48" fill="#6a4ab0"/><circle cx="35.72" cy="158.60" r="0.43" fill="#6a4ab0"/><circle cx="35.43" cy="158.50" r="0.41" fill="#4a3aa8"/><circle cx="35.22" cy="157.41" r="0.41" fill="#2f55c8"/><circle cx="36.34" cy="157.35" r="0.36" fill="#6a4ab0"/><circle cx="35.32" cy="158.66" r="0.40" fill="#2f55c8"/><circle cx="35.21" cy="156.69" r="0.42" fill="#2f55c8"/><circle cx="34.70" cy="157.75" r="0.51" fill="#4a3aa8"/><circle cx="34.62" cy="158.37" r="0.45" fill="#6a4ab0"/><circle cx="35.44" cy="156.97" r="0.55" fill="#2a2a90"/><circle cx="34.71" cy="156.92" r="0.54" fill="#6a4ab0"/><circle cx="36.72" cy="157.08" r="0.37" fill="#6a4ab0"/><circle cx="36.73" cy="156.17" r="0.38" fill="#4a3aa8"/><circle cx="34.76" cy="157.91" r="0.38" fill="#6a4ab0"/><circle cx="34.60" cy="157.12" r="0.35" fill="#4a3aa8"/><circle cx="34.96" cy="157.46" r="0.51" fill="#2f55c8"/><circle cx="36.71" cy="156.44" r="0.48" fill="#6a4ab0"/><circle cx="36.08" cy="155.20" r="0.37" fill="#4a3aa8"/><circle cx="35.33" cy="155.15" r="0.50" fill="#2a2a90"/><circle cx="35.69" cy="157.00" r="0.42" fill="#2f55c8"/><circle cx="35.95" cy="156.41" r="0.47" fill="#4a3aa8"/><circle cx="35.71" cy="154.36" r="0.45" fill="#2f55c8"/><circle cx="34.53" cy="154.43" r="0.57" fill="#6a4ab0"/><circle cx="34.59" cy="154.51" r="0.46" fill="#2f55c8"/><circle cx="34.94" cy="153.73" r="0.43" fill="#6a4ab0"/><circle cx="35.27" cy="154.60" r="0.35" fill="#2f55c8"/><circle cx="36.17" cy="154.53" r="0.40" fill="#4a3aa8"/><circle cx="35.15" cy="155.29" r="0.41" fill="#4a3aa8"/></g>
<g filter="url(#bl06)"><ellipse cx="43.5" cy="157.6" rx="8.6" ry="2.9" fill="#58c070"/><ellipse cx="41.5" cy="157.4" rx="4.6" ry="1.6" fill="#a8d03c"/></g>
<g filter="url(#bl06)"><ellipse cx="56.4" cy="157.8" rx="2.6" ry="2.6" fill="#2f63d6"/><ellipse cx="56.4" cy="157.6" rx="1.6" ry="1.6" fill="#39a6ec"/></g>
<g filter="url(#bl06)"><path d="M56,156 C60,154.8 67,155 72.3,156.6 C72.8,162 72.6,170 71.6,174.2 C70.6,176.6 67,176.8 64.5,176.2 C61.5,175.6 59.6,172 58.6,168.5 C57.6,165 57.3,160 56,156 Z" fill="#2a2f8e"/><path d="M56,156 C60,154.8 67,155 72.3,156.6 C72.8,162 72.6,170 71.6,174.2 C70.6,176.6 67,176.8 64.5,176.2 C61.5,175.6 59.6,172 58.6,168.5 C57.6,165 57.3,160 56,156 Z" fill="#2f63d6" transform="translate(65.0 159.0) scale(0.93) translate(-65.0 -159.0)"/><path d="M56,156 C60,154.8 67,155 72.3,156.6 C72.8,162 72.6,170 71.6,174.2 C70.6,176.6 67,176.8 64.5,176.2 C61.5,175.6 59.6,172 58.6,168.5 C57.6,165 57.3,160 56,156 Z" fill="#39a6ec" transform="translate(65.0 159.0) scale(0.82) translate(-65.0 -159.0)"/></g>
<g><circle cx="55.44" cy="156.93" r="0.38" fill="#6a4ab0"/><circle cx="56.26" cy="156.95" r="0.47" fill="#2a2a90"/><circle cx="57.92" cy="154.93" r="0.45" fill="#4a3aa8"/><circle cx="55.70" cy="156.01" r="0.45" fill="#2a2a90"/><circle cx="56.99" cy="155.47" r="0.53" fill="#2f55c8"/><circle cx="58.31" cy="156.79" r="0.58" fill="#2f55c8"/><circle cx="57.98" cy="155.81" r="0.48" fill="#6a4ab0"/><circle cx="57.60" cy="155.84" r="0.44" fill="#2f55c8"/><circle cx="60.91" cy="155.20" r="0.38" fill="#2a2a90"/><circle cx="59.22" cy="154.98" r="0.59" fill="#2a2a90"/><circle cx="60.97" cy="155.89" r="0.45" fill="#2f55c8"/><circle cx="61.60" cy="155.10" r="0.36" fill="#6a4ab0"/><circle cx="61.21" cy="155.33" r="0.46" fill="#2f55c8"/><circle cx="61.61" cy="156.18" r="0.36" fill="#6a4ab0"/><circle cx="62.48" cy="155.54" r="0.45" fill="#6a4ab0"/><circle cx="61.97" cy="154.18" r="0.58" fill="#2f55c8"/><circle cx="63.51" cy="154.23" r="0.50" fill="#2f55c8"/><circle cx="63.70" cy="156.37" r="0.50" fill="#2f55c8"/><circle cx="66.02" cy="155.81" r="0.58" fill="#2f55c8"/><circle cx="64.23" cy="155.97" r="0.58" fill="#2a2a90"/><circle cx="65.47" cy="154.83" r="0.47" fill="#6a4ab0"/><circle cx="67.70" cy="155.19" r="0.41" fill="#6a4ab0"/><circle cx="68.54" cy="154.74" r="0.47" fill="#2a2a90"/><circle cx="68.51" cy="156.19" r="0.56" fill="#4a3aa8"/><circle cx="69.21" cy="155.39" r="0.43" fill="#2f55c8"/><circle cx="69.63" cy="156.04" r="0.48" fill="#6a4ab0"/><circle cx="70.71" cy="155.43" r="0.37" fill="#2a2a90"/><circle cx="70.06" cy="156.14" r="0.39" fill="#6a4ab0"/><circle cx="72.14" cy="157.47" r="0.42" fill="#2a2a90"/><circle cx="70.52" cy="156.11" r="0.60" fill="#6a4ab0"/><circle cx="71.52" cy="155.72" r="0.47" fill="#4a3aa8"/><circle cx="72.90" cy="157.43" r="0.52" fill="#2a2a90"/><circle cx="73.06" cy="157.22" r="0.42" fill="#2f55c8"/><circle cx="72.09" cy="158.28" r="0.40" fill="#4a3aa8"/><circle cx="71.71" cy="158.25" r="0.42" fill="#4a3aa8"/><circle cx="72.05" cy="158.63" r="0.60" fill="#4a3aa8"/><circle cx="72.87" cy="159.14" r="0.47" fill="#2a2a90"/><circle cx="71.56" cy="160.04" r="0.55" fill="#6a4ab0"/><circle cx="73.54" cy="160.25" r="0.42" fill="#2a2a90"/><circle cx="71.47" cy="161.59" r="0.56" fill="#4a3aa8"/><circle cx="73.60" cy="162.32" r="0.57" fill="#6a4ab0"/><circle cx="72.81" cy="163.29" r="0.52" fill="#2a2a90"/><circle cx="71.61" cy="164.15" r="0.50" fill="#4a3aa8"/><circle cx="71.45" cy="163.53" r="0.36" fill="#2f55c8"/><circle cx="71.42" cy="165.77" r="0.58" fill="#2a2a90"/><circle cx="73.30" cy="164.99" r="0.44" fill="#2f55c8"/><circle cx="71.47" cy="165.36" r="0.47" fill="#6a4ab0"/><circle cx="71.44" cy="165.53" r="0.45" fill="#4a3aa8"/><circle cx="72.76" cy="166.76" r="0.39" fill="#2f55c8"/><circle cx="72.21" cy="167.23" r="0.43" fill="#2a2a90"/><circle cx="71.89" cy="169.13" r="0.44" fill="#6a4ab0"/><circle cx="71.18" cy="169.61" r="0.55" fill="#4a3aa8"/><circle cx="71.97" cy="169.92" r="0.59" fill="#6a4ab0"/><circle cx="73.20" cy="169.97" r="0.56" fill="#6a4ab0"/><circle cx="72.29" cy="170.95" r="0.54" fill="#4a3aa8"/><circle cx="70.94" cy="171.40" r="0.51" fill="#6a4ab0"/><circle cx="70.97" cy="172.63" r="0.44" fill="#4a3aa8"/><circle cx="71.11" cy="171.81" r="0.48" fill="#2a2a90"/><circle cx="70.85" cy="173.29" r="0.55" fill="#4a3aa8"/><circle cx="71.31" cy="174.12" r="0.36" fill="#6a4ab0"/><circle cx="71.15" cy="174.46" r="0.51" fill="#2a2a90"/><circle cx="72.57" cy="174.49" r="0.56" fill="#4a3aa8"/><circle cx="71.70" cy="175.51" r="0.51" fill="#4a3aa8"/><circle cx="72.16" cy="173.89" r="0.40" fill="#6a4ab0"/><circle cx="72.12" cy="174.22" r="0.44" fill="#4a3aa8"/><circle cx="70.46" cy="175.59" r="0.57" fill="#2a2a90"/><circle cx="71.64" cy="176.21" r="0.52" fill="#2f55c8"/><circle cx="69.80" cy="175.63" r="0.49" fill="#2f55c8"/><circle cx="70.67" cy="175.22" r="0.41" fill="#6a4ab0"/><circle cx="70.70" cy="175.55" r="0.46" fill="#2a2a90"/><circle cx="68.68" cy="177.09" r="0.47" fill="#6a4ab0"/><circle cx="70.50" cy="176.59" r="0.46" fill="#4a3aa8"/><circle cx="70.13" cy="175.87" r="0.37" fill="#2f55c8"/><circle cx="69.22" cy="175.13" r="0.46" fill="#2a2a90"/><circle cx="67.77" cy="175.38" r="0.58" fill="#2f55c8"/><circle cx="69.54" cy="176.29" r="0.36" fill="#6a4ab0"/><circle cx="68.71" cy="177.06" r="0.36" fill="#2a2a90"/><circle cx="69.53" cy="176.93" r="0.55" fill="#4a3aa8"/><circle cx="66.91" cy="177.37" r="0.42" fill="#4a3aa8"/><circle cx="68.24" cy="176.98" r="0.41" fill="#2f55c8"/><circle cx="67.49" cy="175.89" r="0.43" fill="#2f55c8"/><circle cx="68.20" cy="176.38" r="0.41" fill="#6a4ab0"/><circle cx="65.96" cy="175.91" r="0.48" fill="#2f55c8"/><circle cx="66.36" cy="175.76" r="0.45" fill="#2f55c8"/><circle cx="66.53" cy="177.40" r="0.39" fill="#2f55c8"/><circle cx="65.18" cy="176.53" r="0.51" fill="#2f55c8"/><circle cx="66.67" cy="176.28" r="0.48" fill="#2a2a90"/><circle cx="64.95" cy="176.48" r="0.56" fill="#2f55c8"/><circle cx="64.45" cy="177.49" r="0.49" fill="#2f55c8"/><circle cx="64.61" cy="175.30" r="0.41" fill="#2a2a90"/><circle cx="64.01" cy="176.24" r="0.43" fill="#2f55c8"/><circle cx="65.06" cy="176.79" r="0.41" fill="#2f55c8"/><circle cx="64.19" cy="175.88" r="0.48" fill="#2a2a90"/><circle cx="63.03" cy="175.39" r="0.51" fill="#2a2a90"/><circle cx="62.29" cy="175.97" r="0.43" fill="#2f55c8"/><circle cx="63.44" cy="175.60" r="0.43" fill="#4a3aa8"/><circle cx="62.12" cy="175.80" r="0.47" fill="#4a3aa8"/><circle cx="61.66" cy="176.23" r="0.53" fill="#6a4ab0"/><circle cx="61.36" cy="175.47" r="0.57" fill="#2f55c8"/><circle cx="62.10" cy="174.57" r="0.35" fill="#2f55c8"/><circle cx="62.09" cy="174.90" r="0.50" fill="#6a4ab0"/><circle cx="61.26" cy="175.68" r="0.36" fill="#2a2a90"/><circle cx="61.19" cy="173.61" r="0.36" fill="#2a2a90"/><circle cx="60.24" cy="174.36" r="0.59" fill="#4a3aa8"/><circle cx="60.79" cy="173.76" r="0.51" fill="#6a4ab0"/><circle cx="61.75" cy="172.93" r="0.43" fill="#2f55c8"/><circle cx="60.91" cy="174.34" r="0.53" fill="#6a4ab0"/><circle cx="61.13" cy="171.97" r="0.56" fill="#6a4ab0"/><circle cx="59.24" cy="172.92" r="0.39" fill="#2a2a90"/><circle cx="59.67" cy="172.90" r="0.38" fill="#2f55c8"/><circle cx="60.42" cy="171.36" r="0.49" fill="#6a4ab0"/><circle cx="60.35" cy="172.92" r="0.59" fill="#2f55c8"/><circle cx="59.94" cy="172.38" r="0.40" fill="#2a2a90"/><circle cx="58.80" cy="172.23" r="0.56" fill="#4a3aa8"/><circle cx="60.38" cy="171.18" r="0.43" fill="#6a4ab0"/><circle cx="58.90" cy="169.96" r="0.58" fill="#6a4ab0"/><circle cx="58.98" cy="169.97" r="0.35" fill="#2a2a90"/><circle cx="58.90" cy="170.44" r="0.49" fill="#2f55c8"/><circle cx="59.51" cy="168.94" r="0.50" fill="#4a3aa8"/><circle cx="57.96" cy="168.06" r="0.38" fill="#4a3aa8"/><circle cx="58.23" cy="167.64" r="0.36" fill="#2a2a90"/><circle cx="57.73" cy="168.84" r="0.36" fill="#2a2a90"/><circle cx="58.98" cy="166.74" r="0.50" fill="#2f55c8"/><circle cx="57.69" cy="168.87" r="0.48" fill="#2a2a90"/><circle cx="59.14" cy="167.64" r="0.53" fill="#6a4ab0"/><circle cx="57.29" cy="166.32" r="0.38" fill="#2a2a90"/><circle cx="59.15" cy="167.23" r="0.54" fill="#2a2a90"/><circle cx="58.85" cy="166.56" r="0.42" fill="#2a2a90"/><circle cx="57.04" cy="166.13" r="0.51" fill="#2f55c8"/><circle cx="57.48" cy="165.24" r="0.36" fill="#2f55c8"/><circle cx="58.80" cy="163.51" r="0.54" fill="#2f55c8"/><circle cx="58.42" cy="164.84" r="0.47" fill="#2f55c8"/><circle cx="57.91" cy="162.61" r="0.45" fill="#6a4ab0"/><circle cx="57.67" cy="162.78" r="0.47" fill="#2a2a90"/><circle cx="57.58" cy="162.19" r="0.57" fill="#2a2a90"/><circle cx="57.66" cy="162.36" r="0.46" fill="#4a3aa8"/><circle cx="56.83" cy="162.60" r="0.36" fill="#2f55c8"/><circle cx="57.32" cy="161.98" r="0.55" fill="#4a3aa8"/><circle cx="58.31" cy="161.34" r="0.59" fill="#2f55c8"/><circle cx="57.38" cy="160.30" r="0.55" fill="#4a3aa8"/><circle cx="57.03" cy="159.30" r="0.51" fill="#2a2a90"/><circle cx="57.01" cy="161.42" r="0.49" fill="#2a2a90"/><circle cx="57.17" cy="159.02" r="0.45" fill="#6a4ab0"/><circle cx="57.80" cy="159.95" r="0.46" fill="#2a2a90"/><circle cx="56.37" cy="158.03" r="0.46" fill="#4a3aa8"/><circle cx="56.38" cy="159.42" r="0.41" fill="#6a4ab0"/><circle cx="55.58" cy="157.87" r="0.52" fill="#2a2a90"/><circle cx="56.11" cy="157.23" r="0.39" fill="#6a4ab0"/><circle cx="56.64" cy="157.39" r="0.39" fill="#6a4ab0"/><circle cx="56.70" cy="156.23" r="0.41" fill="#2f55c8"/><circle cx="55.91" cy="156.92" r="0.41" fill="#4a3aa8"/><circle cx="55.44" cy="156.61" r="0.56" fill="#4a3aa8"/><circle cx="56.54" cy="157.14" r="0.53" fill="#2f55c8"/><circle cx="55.19" cy="155.59" r="0.40" fill="#2a2a90"/><circle cx="55.20" cy="156.38" r="0.40" fill="#4a3aa8"/><circle cx="57.16" cy="156.71" r="0.53" fill="#6a4ab0"/><circle cx="55.46" cy="155.06" r="0.58" fill="#2f55c8"/><circle cx="55.30" cy="155.73" r="0.36" fill="#6a4ab0"/><circle cx="56.85" cy="155.85" r="0.41" fill="#2f55c8"/><circle cx="55.91" cy="155.14" r="0.50" fill="#6a4ab0"/><circle cx="54.81" cy="155.38" r="0.56" fill="#6a4ab0"/><circle cx="56.83" cy="156.40" r="0.51" fill="#4a3aa8"/><circle cx="56.43" cy="156.34" r="0.46" fill="#2f55c8"/><circle cx="55.42" cy="156.48" r="0.57" fill="#4a3aa8"/><circle cx="56.68" cy="156.51" r="0.51" fill="#2f55c8"/><circle cx="56.84" cy="155.96" r="0.35" fill="#6a4ab0"/><circle cx="56.04" cy="156.39" r="0.57" fill="#2f55c8"/><circle cx="56.67" cy="155.73" r="0.47" fill="#2a2a90"/><circle cx="54.89" cy="156.10" r="0.39" fill="#4a3aa8"/><circle cx="56.05" cy="155.04" r="0.49" fill="#4a3aa8"/><circle cx="56.52" cy="156.03" r="0.51" fill="#2f55c8"/><circle cx="56.05" cy="155.78" r="0.59" fill="#4a3aa8"/><circle cx="57.18" cy="155.24" r="0.48" fill="#2a2a90"/><circle cx="56.55" cy="156.27" r="0.51" fill="#2f55c8"/><circle cx="55.46" cy="155.76" r="0.35" fill="#6a4ab0"/><circle cx="57.00" cy="156.31" r="0.52" fill="#2f55c8"/><circle cx="55.06" cy="155.53" r="0.45" fill="#4a3aa8"/><circle cx="57.19" cy="157.11" r="0.47" fill="#4a3aa8"/><circle cx="55.11" cy="156.66" r="0.55" fill="#4a3aa8"/><circle cx="55.93" cy="156.15" r="0.41" fill="#4a3aa8"/></g>
<g filter="url(#bl06)"><ellipse cx="64.5" cy="161.0" rx="6.0" ry="4.6" fill="#58c070"/><ellipse cx="65.0" cy="160.0" rx="2.6" ry="2.0" fill="#a8d03c"/></g>
<circle cx="59.6" cy="168.2" r="0.9" fill="#fff" filter="url(#bl05)"/>
<circle cx="61.2" cy="171.8" r="0.9" fill="#fff" filter="url(#bl05)"/>
<circle cx="63.6" cy="174.2" r="0.9" fill="#fff" filter="url(#bl05)"/>
<circle cx="60.2" cy="164.8" r="0.9" fill="#fff" filter="url(#bl05)"/>
<g filter="url(#bl05)"><path d="M39.8,192.2 C41,189.5 48,189.3 49.8,191.5 C50,193.5 47,194.4 44.5,194.3 C41.5,194.3 39.6,193.6 39.8,192.2 Z" fill="#2f45b8"/><path d="M39.8,192.2 C41,189.5 48,189.3 49.8,191.5 C50,193.5 47,194.4 44.5,194.3 C41.5,194.3 39.6,193.6 39.8,192.2 Z" fill="#3a7ad8" transform="translate(44.8 192) scale(0.55) translate(-44.8 -192)"/></g>
<g><circle cx="39.45" cy="192.53" r="0.55" fill="#6a4ab0"/><circle cx="39.72" cy="191.71" r="0.49" fill="#4a3aa8"/><circle cx="40.67" cy="191.77" r="0.55" fill="#4a3aa8"/><circle cx="39.44" cy="191.55" r="0.41" fill="#6a4ab0"/><circle cx="40.69" cy="191.48" r="0.55" fill="#2f55c8"/><circle cx="39.92" cy="191.90" r="0.43" fill="#6a4ab0"/><circle cx="40.41" cy="191.56" r="0.51" fill="#2f55c8"/><circle cx="39.75" cy="190.76" r="0.45" fill="#2a2a90"/><circle cx="41.75" cy="191.95" r="0.55" fill="#4a3aa8"/><circle cx="41.04" cy="190.60" r="0.50" fill="#2a2a90"/><circle cx="40.69" cy="189.72" r="0.42" fill="#2a2a90"/><circle cx="41.58" cy="191.60" r="0.40" fill="#6a4ab0"/><circle cx="41.48" cy="189.71" r="0.58" fill="#4a3aa8"/><circle cx="42.12" cy="191.00" r="0.59" fill="#2a2a90"/><circle cx="42.76" cy="191.32" r="0.55" fill="#2f55c8"/><circle cx="41.63" cy="190.84" r="0.48" fill="#6a4ab0"/><circle cx="43.29" cy="189.32" r="0.38" fill="#6a4ab0"/><circle cx="42.24" cy="189.38" r="0.47" fill="#2a2a90"/><circle cx="43.39" cy="191.11" r="0.53" fill="#4a3aa8"/><circle cx="43.43" cy="190.23" r="0.57" fill="#2a2a90"/><circle cx="43.18" cy="189.63" r="0.52" fill="#6a4ab0"/><circle cx="44.40" cy="190.88" r="0.44" fill="#6a4ab0"/><circle cx="45.77" cy="190.43" r="0.40" fill="#2f55c8"/><circle cx="44.90" cy="188.88" r="0.50" fill="#2f55c8"/><circle cx="45.90" cy="189.02" r="0.47" fill="#4a3aa8"/><circle cx="44.04" cy="190.52" r="0.51" fill="#2f55c8"/><circle cx="44.76" cy="190.39" r="0.44" fill="#4a3aa8"/><circle cx="45.22" cy="189.63" r="0.41" fill="#2a2a90"/><circle cx="47.09" cy="189.56" r="0.56" fill="#6a4ab0"/><circle cx="45.90" cy="191.22" r="0.57" fill="#2f55c8"/><circle cx="48.00" cy="190.50" r="0.55" fill="#2f55c8"/><circle cx="46.12" cy="190.64" r="0.38" fill="#2a2a90"/><circle cx="48.07" cy="189.13" r="0.53" fill="#6a4ab0"/><circle cx="47.50" cy="189.16" r="0.43" fill="#2a2a90"/><circle cx="46.81" cy="191.15" r="0.47" fill="#2a2a90"/><circle cx="48.59" cy="191.36" r="0.50" fill="#4a3aa8"/><circle cx="48.67" cy="191.01" r="0.50" fill="#2a2a90"/><circle cx="47.68" cy="190.94" r="0.46" fill="#4a3aa8"/><circle cx="47.84" cy="189.97" r="0.36" fill="#2a2a90"/><circle cx="49.80" cy="191.11" r="0.44" fill="#4a3aa8"/><circle cx="49.88" cy="191.11" r="0.41" fill="#2f55c8"/><circle cx="48.43" cy="189.84" r="0.36" fill="#2a2a90"/><circle cx="49.52" cy="191.27" r="0.56" fill="#6a4ab0"/><circle cx="49.70" cy="192.22" r="0.46" fill="#2a2a90"/><circle cx="50.23" cy="191.73" r="0.60" fill="#4a3aa8"/><circle cx="49.74" cy="191.29" r="0.38" fill="#6a4ab0"/><circle cx="49.12" cy="190.93" r="0.35" fill="#2a2a90"/><circle cx="48.63" cy="192.17" r="0.60" fill="#2a2a90"/><circle cx="49.10" cy="191.11" r="0.47" fill="#2f55c8"/><circle cx="50.30" cy="191.40" r="0.53" fill="#4a3aa8"/><circle cx="50.73" cy="191.94" r="0.54" fill="#4a3aa8"/><circle cx="50.26" cy="191.26" r="0.51" fill="#6a4ab0"/><circle cx="49.52" cy="193.52" r="0.41" fill="#2a2a90"/><circle cx="50.14" cy="191.31" r="0.35" fill="#2a2a90"/><circle cx="49.22" cy="192.24" r="0.50" fill="#6a4ab0"/><circle cx="49.75" cy="192.25" r="0.59" fill="#6a4ab0"/><circle cx="49.25" cy="192.09" r="0.59" fill="#2a2a90"/><circle cx="49.00" cy="193.24" r="0.51" fill="#6a4ab0"/><circle cx="49.08" cy="193.75" r="0.46" fill="#2f55c8"/><circle cx="49.82" cy="193.24" r="0.42" fill="#2a2a90"/><circle cx="49.22" cy="193.61" r="0.55" fill="#2f55c8"/><circle cx="49.81" cy="193.79" r="0.35" fill="#4a3aa8"/><circle cx="48.93" cy="192.95" r="0.46" fill="#4a3aa8"/><circle cx="48.40" cy="193.85" r="0.50" fill="#4a3aa8"/><circle cx="49.17" cy="193.03" r="0.35" fill="#2f55c8"/><circle cx="47.88" cy="192.73" r="0.58" fill="#2a2a90"/><circle cx="47.65" cy="192.83" r="0.57" fill="#4a3aa8"/><circle cx="47.62" cy="194.53" r="0.55" fill="#6a4ab0"/><circle cx="47.50" cy="192.81" r="0.49" fill="#6a4ab0"/><circle cx="47.15" cy="194.41" r="0.58" fill="#4a3aa8"/><circle cx="47.11" cy="192.85" r="0.45" fill="#4a3aa8"/><circle cx="48.59" cy="194.12" r="0.35" fill="#6a4ab0"/><circle cx="47.15" cy="193.02" r="0.55" fill="#2a2a90"/><circle cx="46.61" cy="194.20" r="0.57" fill="#2f55c8"/><circle cx="46.86" cy="194.30" r="0.40" fill="#4a3aa8"/><circle cx="45.94" cy="194.82" r="0.42" fill="#2f55c8"/><circle cx="46.35" cy="194.20" r="0.39" fill="#2a2a90"/><circle cx="47.60" cy="194.14" r="0.57" fill="#2f55c8"/><circle cx="46.56" cy="194.90" r="0.39" fill="#2a2a90"/><circle cx="45.87" cy="194.26" r="0.36" fill="#2a2a90"/><circle cx="45.18" cy="195.14" r="0.49" fill="#4a3aa8"/><circle cx="45.32" cy="194.92" r="0.46" fill="#6a4ab0"/><circle cx="46.18" cy="195.05" r="0.59" fill="#2f55c8"/><circle cx="46.37" cy="193.90" r="0.60" fill="#6a4ab0"/><circle cx="44.19" cy="193.22" r="0.49" fill="#6a4ab0"/><circle cx="45.16" cy="195.13" r="0.57" fill="#6a4ab0"/><circle cx="45.86" cy="194.80" r="0.37" fill="#2f55c8"/><circle cx="45.00" cy="194.64" r="0.59" fill="#6a4ab0"/><circle cx="43.74" cy="195.14" r="0.44" fill="#4a3aa8"/><circle cx="45.68" cy="193.63" r="0.36" fill="#2f55c8"/><circle cx="45.16" cy="193.24" r="0.49" fill="#2a2a90"/><circle cx="44.91" cy="193.21" r="0.55" fill="#6a4ab0"/><circle cx="42.64" cy="193.43" r="0.54" fill="#4a3aa8"/><circle cx="44.13" cy="193.80" r="0.50" fill="#2a2a90"/><circle cx="43.27" cy="193.95" r="0.45" fill="#2f55c8"/><circle cx="43.29" cy="193.47" r="0.41" fill="#4a3aa8"/><circle cx="43.97" cy="195.17" r="0.47" fill="#4a3aa8"/><circle cx="43.70" cy="193.41" r="0.56" fill="#2a2a90"/><circle cx="43.68" cy="195.07" r="0.57" fill="#4a3aa8"/><circle cx="43.30" cy="195.29" r="0.58" fill="#6a4ab0"/><circle cx="43.13" cy="194.45" r="0.46" fill="#2f55c8"/><circle cx="41.89" cy="193.51" r="0.38" fill="#2f55c8"/><circle cx="41.15" cy="193.42" r="0.36" fill="#6a4ab0"/><circle cx="42.13" cy="193.23" r="0.57" fill="#2f55c8"/><circle cx="41.52" cy="193.41" r="0.36" fill="#2f55c8"/><circle cx="41.31" cy="193.23" r="0.47" fill="#2f55c8"/><circle cx="41.33" cy="193.91" r="0.39" fill="#2a2a90"/><circle cx="41.75" cy="194.64" r="0.58" fill="#6a4ab0"/><circle cx="41.99" cy="192.95" r="0.54" fill="#2f55c8"/><circle cx="41.02" cy="193.29" r="0.41" fill="#4a3aa8"/><circle cx="39.98" cy="193.27" r="0.57" fill="#2a2a90"/><circle cx="41.75" cy="194.92" r="0.39" fill="#2a2a90"/><circle cx="40.60" cy="193.69" r="0.48" fill="#6a4ab0"/><circle cx="39.54" cy="194.47" r="0.48" fill="#4a3aa8"/><circle cx="40.20" cy="192.46" r="0.45" fill="#2f55c8"/><circle cx="40.71" cy="192.70" r="0.40" fill="#4a3aa8"/><circle cx="40.87" cy="192.72" r="0.37" fill="#2a2a90"/><circle cx="41.30" cy="194.00" r="0.54" fill="#4a3aa8"/><circle cx="39.51" cy="193.59" r="0.53" fill="#4a3aa8"/><circle cx="40.41" cy="192.61" r="0.37" fill="#6a4ab0"/><circle cx="40.90" cy="194.19" r="0.48" fill="#2f55c8"/><circle cx="39.69" cy="194.01" r="0.57" fill="#6a4ab0"/><circle cx="38.99" cy="192.83" r="0.54" fill="#4a3aa8"/><circle cx="40.87" cy="192.49" r="0.40" fill="#2f55c8"/><circle cx="38.78" cy="193.38" r="0.49" fill="#2a2a90"/><circle cx="39.55" cy="193.93" r="0.59" fill="#2a2a90"/><circle cx="38.92" cy="193.25" r="0.55" fill="#2f55c8"/><circle cx="40.50" cy="193.62" r="0.49" fill="#2a2a90"/><circle cx="39.30" cy="191.62" r="0.53" fill="#6a4ab0"/><circle cx="39.83" cy="192.64" r="0.48" fill="#2a2a90"/><circle cx="39.17" cy="191.40" r="0.50" fill="#4a3aa8"/><circle cx="38.83" cy="191.79" r="0.55" fill="#2a2a90"/><circle cx="38.65" cy="193.22" r="0.53" fill="#2f55c8"/><circle cx="38.64" cy="192.44" r="0.49" fill="#4a3aa8"/><circle cx="40.29" cy="191.25" r="0.57" fill="#4a3aa8"/><circle cx="38.71" cy="191.30" r="0.47" fill="#2f55c8"/><circle cx="38.86" cy="191.29" r="0.57" fill="#4a3aa8"/><circle cx="40.67" cy="191.35" r="0.49" fill="#6a4ab0"/><circle cx="38.99" cy="192.98" r="0.58" fill="#6a4ab0"/><circle cx="40.27" cy="192.43" r="0.50" fill="#2a2a90"/><circle cx="39.55" cy="193.26" r="0.54" fill="#2f55c8"/><circle cx="39.56" cy="193.01" r="0.53" fill="#2f55c8"/><circle cx="40.56" cy="193.03" r="0.36" fill="#4a3aa8"/><circle cx="40.90" cy="193.24" r="0.41" fill="#6a4ab0"/><circle cx="40.19" cy="191.03" r="0.38" fill="#4a3aa8"/><circle cx="38.77" cy="192.04" r="0.48" fill="#2a2a90"/><circle cx="39.14" cy="192.01" r="0.45" fill="#6a4ab0"/><circle cx="40.12" cy="192.94" r="0.57" fill="#2a2a90"/><circle cx="38.68" cy="192.54" r="0.42" fill="#2f55c8"/><circle cx="40.11" cy="192.94" r="0.36" fill="#2a2a90"/><circle cx="39.20" cy="192.25" r="0.46" fill="#2a2a90"/><circle cx="39.29" cy="191.73" r="0.51" fill="#2a2a90"/><circle cx="38.74" cy="193.30" r="0.58" fill="#2f55c8"/><circle cx="38.80" cy="192.42" r="0.58" fill="#6a4ab0"/><circle cx="38.90" cy="191.32" r="0.42" fill="#6a4ab0"/><circle cx="39.99" cy="191.66" r="0.53" fill="#2f55c8"/><circle cx="40.62" cy="192.46" r="0.49" fill="#6a4ab0"/><circle cx="39.08" cy="192.70" r="0.47" fill="#2f55c8"/><circle cx="40.07" cy="192.13" r="0.43" fill="#4a3aa8"/><circle cx="39.40" cy="191.45" r="0.49" fill="#6a4ab0"/><circle cx="38.63" cy="191.85" r="0.57" fill="#4a3aa8"/><circle cx="39.38" cy="191.78" r="0.42" fill="#4a3aa8"/><circle cx="39.31" cy="192.85" r="0.39" fill="#2a2a90"/><circle cx="40.05" cy="191.84" r="0.51" fill="#6a4ab0"/><circle cx="40.60" cy="191.85" r="0.54" fill="#4a3aa8"/><circle cx="40.97" cy="192.63" r="0.58" fill="#6a4ab0"/><circle cx="39.41" cy="191.85" r="0.52" fill="#2f55c8"/><circle cx="40.57" cy="192.24" r="0.53" fill="#6a4ab0"/><circle cx="39.24" cy="192.51" r="0.51" fill="#4a3aa8"/><circle cx="39.59" cy="191.25" r="0.45" fill="#2a2a90"/><circle cx="39.79" cy="193.31" r="0.49" fill="#6a4ab0"/><circle cx="40.64" cy="191.67" r="0.51" fill="#2a2a90"/><circle cx="39.51" cy="192.09" r="0.46" fill="#2f55c8"/><circle cx="39.30" cy="191.94" r="0.49" fill="#6a4ab0"/><circle cx="40.16" cy="191.02" r="0.54" fill="#6a4ab0"/><circle cx="39.51" cy="191.72" r="0.48" fill="#4a3aa8"/></g>
<circle cx="40" cy="172" r="0.35" fill="#98a0d8"/>
<circle cx="44" cy="171" r="0.35" fill="#98a0d8"/>
<circle cx="48" cy="173.5" r="0.35" fill="#98a0d8"/>
<circle cx="42" cy="176" r="0.35" fill="#98a0d8"/>
<circle cx="46" cy="182" r="0.35" fill="#98a0d8"/>
<circle cx="43" cy="186" r="0.35" fill="#98a0d8"/>
<circle cx="50" cy="183" r="0.35" fill="#98a0d8"/>
<circle cx="60" cy="180" r="0.35" fill="#98a0d8"/>
<circle cx="64" cy="181" r="0.35" fill="#98a0d8"/>
<ellipse cx="45.6" cy="160.8" rx="11.0" ry="8.4" fill="none" stroke="#e88aa0" stroke-width="0.8" filter="url(#bl03)"/>
<rect x="57.40" y="153.20" width="17.60" height="24.80" fill="none" stroke="#ec8080" stroke-width="0.9"/>
<rect x="121.50" y="138.70" width="58.10" height="57.60" fill="#fff" stroke="#3a3a3a" stroke-width="0.8"/>
<line x1="140.70" y1="138.70" x2="140.70" y2="196.30" stroke="#7c8294" stroke-width="0.7"/>
<line x1="121.50" y1="177.80" x2="179.60" y2="177.80" stroke="#7c8294" stroke-width="0.7"/>
<text x="150.00" y="134.70" font-size="7.4" text-anchor="middle" textLength="9.60" lengthAdjust="spacingAndGlyphs" stroke="#161616" stroke-width="0.42">WT</text>
<text x="124.40" y="149.50" font-size="6.6" textLength="12.90" lengthAdjust="spacingAndGlyphs" font-weight="bold" fill="#111" stroke="#111" stroke-width="0.42">65%</text>
<text x="157.00" y="149.50" font-size="6.6" textLength="12.70" lengthAdjust="spacingAndGlyphs" font-weight="bold" fill="#111" stroke="#111" stroke-width="0.42">30%</text>
<text stroke="#161616" stroke-width="0.42" x="118.30" y="203.20" font-size="5.4">10<tspan dy="-2.4" font-size="3.89">0</tspan></text>
<text stroke="#161616" stroke-width="0.42" x="132.83" y="203.20" font-size="5.4">10<tspan dy="-2.4" font-size="3.89">1</tspan></text>
<text stroke="#161616" stroke-width="0.42" x="147.35" y="203.20" font-size="5.4">10<tspan dy="-2.4" font-size="3.89">2</tspan></text>
<text stroke="#161616" stroke-width="0.42" x="161.88" y="203.20" font-size="5.4">10<tspan dy="-2.4" font-size="3.89">3</tspan></text>
<text stroke="#161616" stroke-width="0.42" x="176.40" y="203.20" font-size="5.4">10<tspan dy="-2.4" font-size="3.89">4</tspan></text>
<text stroke="#161616" stroke-width="0.42" x="119.90" y="199.50" font-size="5.4" transform="rotate(-90 119.90 199.50)">10<tspan dy="-2.4" font-size="3.89">0</tspan></text>
<text stroke="#161616" stroke-width="0.42" x="119.90" y="185.10" font-size="5.4" transform="rotate(-90 119.90 185.10)">10<tspan dy="-2.4" font-size="3.89">1</tspan></text>
<text stroke="#161616" stroke-width="0.42" x="119.90" y="170.70" font-size="5.4" transform="rotate(-90 119.90 170.70)">10<tspan dy="-2.4" font-size="3.89">2</tspan></text>
<text stroke="#161616" stroke-width="0.42" x="119.90" y="156.30" font-size="5.4" transform="rotate(-90 119.90 156.30)">10<tspan dy="-2.4" font-size="3.89">3</tspan></text>
<text stroke="#161616" stroke-width="0.42" x="119.90" y="141.90" font-size="5.4" transform="rotate(-90 119.90 141.90)">10<tspan dy="-2.4" font-size="3.89">4</tspan></text>
<text x="151.00" y="210.30" font-size="7.0" text-anchor="middle" textLength="26.80" lengthAdjust="spacingAndGlyphs" stroke="#161616" stroke-width="0.42">PE-Ter119</text>
<text x="112.10" y="168.50" font-size="6.6" text-anchor="middle" textLength="27.50" lengthAdjust="spacingAndGlyphs" stroke="#161616" stroke-width="0.42" transform="rotate(-90 112.10 168.50)">FITC-CD71</text>
<g filter="url(#bl06)"><path d="M121.9,156.6 C126,155 129,154.4 132,154.3 C136,154 141,153.8 146,154.2 C151,154.6 156,155.2 158.6,157.4 C157,159.8 154,161.4 151.5,162 C148,162.4 144,162 141.5,162 C139,164.5 136.5,168.5 133.5,172 C131.5,174.6 130,177.2 128.6,177.8 C126,177.5 124.2,175 123,172 C122,168 121.8,162 121.9,156.6 Z" fill="#2a2f8e"/><path d="M121.9,156.6 C126,155 129,154.4 132,154.3 C136,154 141,153.8 146,154.2 C151,154.6 156,155.2 158.6,157.4 C157,159.8 154,161.4 151.5,162 C148,162.4 144,162 141.5,162 C139,164.5 136.5,168.5 133.5,172 C131.5,174.6 130,177.2 128.6,177.8 C126,177.5 124.2,175 123,172 C122,168 121.8,162 121.9,156.6 Z" fill="#2f63d6" transform="translate(131 158.5) scale(0.93) translate(-131 -158.5)"/><path d="M121.9,156.6 C126,155 129,154.4 132,154.3 C136,154 141,153.8 146,154.2 C151,154.6 156,155.2 158.6,157.4 C157,159.8 154,161.4 151.5,162 C148,162.4 144,162 141.5,162 C139,164.5 136.5,168.5 133.5,172 C131.5,174.6 130,177.2 128.6,177.8 C126,177.5 124.2,175 123,172 C122,168 121.8,162 121.9,156.6 Z" fill="#39a6ec" transform="translate(131 158.5) scale(0.82) translate(-131 -158.5)"/><path d="M121.9,156.6 C126,155 129,154.4 132,154.3 C136,154 141,153.8 146,154.2 C151,154.6 156,155.2 158.6,157.4 C157,159.8 154,161.4 151.5,162 C148,162.4 144,162 141.5,162 C139,164.5 136.5,168.5 133.5,172 C131.5,174.6 130,177.2 128.6,177.8 C126,177.5 124.2,175 123,172 C122,168 121.8,162 121.9,156.6 Z" fill="#58c070" transform="translate(131 158.5) scale(0.6) translate(-131 -158.5)"/><path d="M121.9,156.6 C126,155 129,154.4 132,154.3 C136,154 141,153.8 146,154.2 C151,154.6 156,155.2 158.6,157.4 C157,159.8 154,161.4 151.5,162 C148,162.4 144,162 141.5,162 C139,164.5 136.5,168.5 133.5,172 C131.5,174.6 130,177.2 128.6,177.8 C126,177.5 124.2,175 123,172 C122,168 121.8,162 121.9,156.6 Z" fill="#a8d03c" transform="translate(131 158.5) scale(0.3) translate(-131 -158.5)"/></g>
<g><circle cx="121.75" cy="156.30" r="0.41" fill="#2f55c8"/><circle cx="121.48" cy="157.42" r="0.56" fill="#2f55c8"/><circle cx="122.52" cy="155.93" r="0.58" fill="#2a2a90"/><circle cx="122.09" cy="155.52" r="0.57" fill="#2f55c8"/><circle cx="125.49" cy="156.33" r="0.48" fill="#6a4ab0"/><circle cx="124.52" cy="155.72" r="0.52" fill="#6a4ab0"/><circle cx="125.59" cy="154.21" r="0.52" fill="#6a4ab0"/><circle cx="126.75" cy="155.74" r="0.48" fill="#2a2a90"/><circle cx="126.59" cy="155.02" r="0.51" fill="#4a3aa8"/><circle cx="127.72" cy="156.13" r="0.47" fill="#6a4ab0"/><circle cx="128.55" cy="155.73" r="0.50" fill="#2a2a90"/><circle cx="127.11" cy="154.34" r="0.59" fill="#2f55c8"/><circle cx="128.99" cy="153.65" r="0.57" fill="#2f55c8"/><circle cx="129.73" cy="155.76" r="0.57" fill="#6a4ab0"/><circle cx="130.30" cy="154.50" r="0.55" fill="#4a3aa8"/><circle cx="130.00" cy="153.70" r="0.40" fill="#2a2a90"/><circle cx="130.65" cy="155.54" r="0.51" fill="#2a2a90"/><circle cx="131.46" cy="153.18" r="0.35" fill="#2a2a90"/><circle cx="133.00" cy="154.05" r="0.37" fill="#2a2a90"/><circle cx="132.40" cy="153.57" r="0.47" fill="#2f55c8"/><circle cx="134.26" cy="155.15" r="0.48" fill="#4a3aa8"/><circle cx="133.55" cy="153.99" r="0.38" fill="#4a3aa8"/><circle cx="134.85" cy="154.14" r="0.36" fill="#2a2a90"/><circle cx="134.01" cy="154.17" r="0.56" fill="#6a4ab0"/><circle cx="137.03" cy="153.00" r="0.35" fill="#2f55c8"/><circle cx="135.44" cy="153.42" r="0.42" fill="#2a2a90"/><circle cx="137.28" cy="153.04" r="0.58" fill="#2a2a90"/><circle cx="137.48" cy="153.88" r="0.45" fill="#2a2a90"/><circle cx="138.75" cy="153.73" r="0.54" fill="#2a2a90"/><circle cx="139.28" cy="154.27" r="0.41" fill="#2a2a90"/><circle cx="140.22" cy="154.19" r="0.39" fill="#2a2a90"/><circle cx="141.99" cy="154.74" r="0.43" fill="#2f55c8"/><circle cx="143.78" cy="154.01" r="0.59" fill="#4a3aa8"/><circle cx="143.10" cy="154.44" r="0.50" fill="#6a4ab0"/><circle cx="143.88" cy="154.99" r="0.47" fill="#4a3aa8"/><circle cx="143.34" cy="153.30" r="0.44" fill="#2a2a90"/><circle cx="147.13" cy="153.70" r="0.49" fill="#2a2a90"/><circle cx="145.60" cy="155.09" r="0.43" fill="#2a2a90"/><circle cx="148.77" cy="154.16" r="0.58" fill="#4a3aa8"/><circle cx="147.39" cy="154.26" r="0.44" fill="#6a4ab0"/><circle cx="148.19" cy="154.91" r="0.44" fill="#4a3aa8"/><circle cx="148.69" cy="153.62" r="0.40" fill="#4a3aa8"/><circle cx="151.04" cy="154.64" r="0.55" fill="#4a3aa8"/><circle cx="150.09" cy="154.37" r="0.53" fill="#6a4ab0"/><circle cx="152.77" cy="155.17" r="0.42" fill="#6a4ab0"/><circle cx="152.47" cy="154.32" r="0.46" fill="#4a3aa8"/><circle cx="154.98" cy="156.49" r="0.50" fill="#6a4ab0"/><circle cx="154.13" cy="154.98" r="0.41" fill="#4a3aa8"/><circle cx="154.39" cy="156.28" r="0.52" fill="#2a2a90"/><circle cx="155.39" cy="155.13" r="0.54" fill="#6a4ab0"/><circle cx="155.41" cy="156.68" r="0.39" fill="#2a2a90"/><circle cx="156.27" cy="155.16" r="0.39" fill="#4a3aa8"/><circle cx="157.22" cy="157.11" r="0.38" fill="#2f55c8"/><circle cx="158.38" cy="157.34" r="0.40" fill="#2f55c8"/><circle cx="157.61" cy="156.89" r="0.55" fill="#6a4ab0"/><circle cx="158.08" cy="157.17" r="0.58" fill="#4a3aa8"/><circle cx="159.07" cy="157.39" r="0.44" fill="#2f55c8"/><circle cx="158.97" cy="157.03" r="0.53" fill="#6a4ab0"/><circle cx="156.74" cy="159.71" r="0.44" fill="#2a2a90"/><circle cx="156.58" cy="157.96" r="0.58" fill="#4a3aa8"/><circle cx="157.11" cy="158.42" r="0.36" fill="#4a3aa8"/><circle cx="156.44" cy="160.14" r="0.39" fill="#2a2a90"/><circle cx="155.93" cy="160.42" r="0.59" fill="#4a3aa8"/><circle cx="155.97" cy="160.63" r="0.41" fill="#6a4ab0"/><circle cx="155.37" cy="160.81" r="0.58" fill="#2a2a90"/><circle cx="155.77" cy="161.29" r="0.42" fill="#2a2a90"/><circle cx="155.00" cy="161.28" r="0.52" fill="#4a3aa8"/><circle cx="154.53" cy="159.96" r="0.43" fill="#2f55c8"/><circle cx="153.82" cy="160.46" r="0.52" fill="#6a4ab0"/><circle cx="154.42" cy="161.73" r="0.41" fill="#2a2a90"/><circle cx="151.99" cy="162.84" r="0.46" fill="#2f55c8"/><circle cx="152.81" cy="162.34" r="0.56" fill="#6a4ab0"/><circle cx="151.52" cy="162.42" r="0.40" fill="#4a3aa8"/><circle cx="151.47" cy="161.25" r="0.59" fill="#2f55c8"/><circle cx="149.54" cy="161.30" r="0.55" fill="#4a3aa8"/><circle cx="150.42" cy="161.50" r="0.36" fill="#2f55c8"/><circle cx="148.75" cy="161.18" r="0.51" fill="#4a3aa8"/><circle cx="148.24" cy="162.66" r="0.52" fill="#4a3aa8"/><circle cx="148.40" cy="160.99" r="0.52" fill="#4a3aa8"/><circle cx="148.95" cy="161.82" r="0.42" fill="#4a3aa8"/><circle cx="146.92" cy="161.54" r="0.51" fill="#2a2a90"/><circle cx="146.83" cy="162.79" r="0.39" fill="#4a3aa8"/><circle cx="145.78" cy="162.04" r="0.54" fill="#4a3aa8"/><circle cx="144.62" cy="161.63" r="0.44" fill="#4a3aa8"/><circle cx="143.33" cy="163.04" r="0.43" fill="#2a2a90"/><circle cx="144.91" cy="161.96" r="0.38" fill="#2f55c8"/><circle cx="143.24" cy="162.21" r="0.42" fill="#2a2a90"/><circle cx="142.28" cy="161.97" r="0.59" fill="#6a4ab0"/><circle cx="141.39" cy="162.53" r="0.60" fill="#2f55c8"/><circle cx="141.45" cy="161.99" r="0.46" fill="#4a3aa8"/><circle cx="142.18" cy="161.57" r="0.44" fill="#2a2a90"/><circle cx="141.85" cy="162.31" r="0.58" fill="#2f55c8"/><circle cx="141.03" cy="161.87" r="0.54" fill="#2a2a90"/><circle cx="141.32" cy="163.70" r="0.42" fill="#4a3aa8"/><circle cx="140.94" cy="163.93" r="0.57" fill="#4a3aa8"/><circle cx="138.87" cy="164.39" r="0.43" fill="#2f55c8"/><circle cx="138.69" cy="165.28" r="0.44" fill="#4a3aa8"/><circle cx="138.67" cy="165.05" r="0.44" fill="#2f55c8"/><circle cx="137.50" cy="164.95" r="0.49" fill="#6a4ab0"/><circle cx="139.10" cy="167.11" r="0.47" fill="#6a4ab0"/><circle cx="137.80" cy="168.40" r="0.50" fill="#2a2a90"/><circle cx="136.39" cy="166.56" r="0.38" fill="#6a4ab0"/><circle cx="135.37" cy="167.30" r="0.46" fill="#4a3aa8"/><circle cx="135.68" cy="168.10" r="0.36" fill="#6a4ab0"/><circle cx="134.58" cy="168.59" r="0.36" fill="#6a4ab0"/><circle cx="136.37" cy="168.57" r="0.35" fill="#4a3aa8"/><circle cx="135.45" cy="170.01" r="0.42" fill="#6a4ab0"/><circle cx="135.21" cy="171.24" r="0.49" fill="#6a4ab0"/><circle cx="132.50" cy="171.58" r="0.47" fill="#4a3aa8"/><circle cx="134.64" cy="173.11" r="0.50" fill="#2a2a90"/><circle cx="133.39" cy="172.46" r="0.51" fill="#6a4ab0"/><circle cx="133.94" cy="172.82" r="0.51" fill="#2f55c8"/><circle cx="133.11" cy="173.78" r="0.51" fill="#4a3aa8"/><circle cx="131.57" cy="174.29" r="0.52" fill="#4a3aa8"/><circle cx="132.04" cy="174.22" r="0.50" fill="#6a4ab0"/><circle cx="131.32" cy="173.90" r="0.46" fill="#2f55c8"/><circle cx="130.17" cy="174.52" r="0.57" fill="#2a2a90"/><circle cx="130.43" cy="176.10" r="0.51" fill="#4a3aa8"/><circle cx="130.63" cy="175.39" r="0.47" fill="#6a4ab0"/><circle cx="129.90" cy="176.16" r="0.38" fill="#2a2a90"/><circle cx="130.89" cy="177.04" r="0.55" fill="#4a3aa8"/><circle cx="130.92" cy="176.73" r="0.53" fill="#2a2a90"/><circle cx="129.86" cy="178.23" r="0.48" fill="#6a4ab0"/><circle cx="130.35" cy="176.87" r="0.39" fill="#4a3aa8"/><circle cx="129.22" cy="178.19" r="0.38" fill="#2a2a90"/><circle cx="128.84" cy="176.44" r="0.36" fill="#4a3aa8"/><circle cx="128.50" cy="176.89" r="0.38" fill="#2a2a90"/><circle cx="128.89" cy="178.69" r="0.49" fill="#2f55c8"/><circle cx="126.97" cy="178.21" r="0.44" fill="#2a2a90"/><circle cx="128.54" cy="176.72" r="0.44" fill="#2f55c8"/><circle cx="127.52" cy="176.20" r="0.50" fill="#2a2a90"/><circle cx="126.64" cy="176.88" r="0.50" fill="#2a2a90"/><circle cx="127.28" cy="177.25" r="0.41" fill="#4a3aa8"/><circle cx="126.72" cy="175.68" r="0.60" fill="#6a4ab0"/><circle cx="124.66" cy="175.10" r="0.38" fill="#2f55c8"/><circle cx="124.83" cy="176.38" r="0.42" fill="#6a4ab0"/><circle cx="125.78" cy="175.77" r="0.41" fill="#2f55c8"/><circle cx="126.05" cy="174.39" r="0.44" fill="#4a3aa8"/><circle cx="124.38" cy="174.73" r="0.36" fill="#2a2a90"/><circle cx="123.39" cy="175.06" r="0.51" fill="#6a4ab0"/><circle cx="124.71" cy="175.03" r="0.52" fill="#6a4ab0"/><circle cx="123.64" cy="174.80" r="0.50" fill="#2a2a90"/><circle cx="123.09" cy="173.05" r="0.43" fill="#4a3aa8"/><circle cx="123.64" cy="171.88" r="0.39" fill="#2f55c8"/><circle cx="123.55" cy="171.60" r="0.47" fill="#2f55c8"/><circle cx="122.55" cy="171.61" r="0.47" fill="#4a3aa8"/><circle cx="121.54" cy="170.50" r="0.60" fill="#2a2a90"/><circle cx="123.01" cy="171.14" r="0.39" fill="#6a4ab0"/><circle cx="121.90" cy="169.07" r="0.42" fill="#4a3aa8"/><circle cx="123.63" cy="167.95" r="0.49" fill="#2a2a90"/><circle cx="123.14" cy="168.09" r="0.51" fill="#2a2a90"/><circle cx="121.92" cy="166.91" r="0.55" fill="#4a3aa8"/><circle cx="122.53" cy="165.24" r="0.54" fill="#2f55c8"/><circle cx="122.12" cy="166.03" r="0.44" fill="#6a4ab0"/><circle cx="121.59" cy="164.42" r="0.52" fill="#6a4ab0"/><circle cx="122.00" cy="164.87" r="0.55" fill="#2f55c8"/><circle cx="121.08" cy="161.40" r="0.57" fill="#6a4ab0"/><circle cx="121.69" cy="161.85" r="0.54" fill="#4a3aa8"/><circle cx="122.09" cy="159.41" r="0.53" fill="#2f55c8"/><circle cx="122.43" cy="160.38" r="0.58" fill="#2f55c8"/><circle cx="120.85" cy="157.68" r="0.58" fill="#4a3aa8"/><circle cx="121.41" cy="158.07" r="0.47" fill="#6a4ab0"/><circle cx="122.43" cy="157.61" r="0.56" fill="#2f55c8"/><circle cx="122.86" cy="156.06" r="0.41" fill="#2a2a90"/><circle cx="122.52" cy="156.90" r="0.41" fill="#2a2a90"/><circle cx="121.22" cy="156.36" r="0.40" fill="#2f55c8"/><circle cx="122.77" cy="156.96" r="0.40" fill="#2a2a90"/><circle cx="123.01" cy="156.84" r="0.37" fill="#2f55c8"/><circle cx="122.43" cy="155.41" r="0.42" fill="#2a2a90"/><circle cx="122.24" cy="157.61" r="0.40" fill="#2f55c8"/><circle cx="122.78" cy="155.47" r="0.47" fill="#2f55c8"/><circle cx="121.12" cy="157.47" r="0.55" fill="#2a2a90"/><circle cx="122.20" cy="156.20" r="0.47" fill="#6a4ab0"/><circle cx="121.32" cy="156.51" r="0.35" fill="#2f55c8"/><circle cx="122.05" cy="157.77" r="0.36" fill="#2f55c8"/><circle cx="121.08" cy="155.44" r="0.40" fill="#2a2a90"/><circle cx="121.56" cy="156.27" r="0.44" fill="#4a3aa8"/><circle cx="122.28" cy="156.84" r="0.43" fill="#2f55c8"/><circle cx="122.65" cy="156.55" r="0.36" fill="#2f55c8"/><circle cx="122.26" cy="156.72" r="0.53" fill="#2f55c8"/></g>
<g filter="url(#bl05)"><path d="M121.6,189.6 C123,187.8 127.5,187.8 128.6,190 C129,193 127.6,195.4 125,195.5 C122.4,195.5 121.2,193.4 121.6,189.6 Z" fill="#3058cc"/><path d="M121.6,189.6 C123,187.8 127.5,187.8 128.6,190 C129,193 127.6,195.4 125,195.5 C122.4,195.5 121.2,193.4 121.6,189.6 Z" fill="#3aa0e8" transform="translate(124.5 192) scale(0.6) translate(-124.5 -192)"/></g>
<g><circle cx="121.27" cy="189.67" r="0.42" fill="#2f55c8"/><circle cx="120.42" cy="189.54" r="0.51" fill="#2f55c8"/><circle cx="120.97" cy="189.68" r="0.45" fill="#2a2a90"/><circle cx="122.86" cy="189.66" r="0.38" fill="#4a3aa8"/><circle cx="122.19" cy="188.39" r="0.58" fill="#2f55c8"/><circle cx="122.62" cy="190.12" r="0.57" fill="#4a3aa8"/><circle cx="122.40" cy="188.61" r="0.53" fill="#6a4ab0"/><circle cx="123.49" cy="188.96" r="0.51" fill="#2f55c8"/><circle cx="123.59" cy="188.53" r="0.40" fill="#2a2a90"/><circle cx="121.69" cy="189.36" r="0.37" fill="#6a4ab0"/><circle cx="123.38" cy="188.30" r="0.41" fill="#6a4ab0"/><circle cx="122.74" cy="189.66" r="0.59" fill="#4a3aa8"/><circle cx="122.18" cy="187.39" r="0.53" fill="#4a3aa8"/><circle cx="122.66" cy="187.82" r="0.54" fill="#2f55c8"/><circle cx="123.18" cy="189.63" r="0.40" fill="#4a3aa8"/><circle cx="123.61" cy="189.48" r="0.54" fill="#4a3aa8"/><circle cx="124.82" cy="187.85" r="0.43" fill="#6a4ab0"/><circle cx="124.94" cy="187.77" r="0.43" fill="#6a4ab0"/><circle cx="123.74" cy="187.25" r="0.55" fill="#2f55c8"/><circle cx="123.34" cy="188.98" r="0.46" fill="#6a4ab0"/><circle cx="125.69" cy="189.49" r="0.42" fill="#2a2a90"/><circle cx="125.55" cy="187.46" r="0.58" fill="#4a3aa8"/><circle cx="126.20" cy="187.46" r="0.53" fill="#2a2a90"/><circle cx="125.82" cy="188.21" r="0.45" fill="#6a4ab0"/><circle cx="125.22" cy="189.33" r="0.53" fill="#2f55c8"/><circle cx="126.75" cy="187.21" r="0.41" fill="#2a2a90"/><circle cx="124.88" cy="188.39" r="0.41" fill="#6a4ab0"/><circle cx="126.46" cy="188.93" r="0.36" fill="#2f55c8"/><circle cx="125.32" cy="187.52" r="0.59" fill="#4a3aa8"/><circle cx="126.42" cy="187.26" r="0.41" fill="#4a3aa8"/><circle cx="127.05" cy="188.66" r="0.60" fill="#2f55c8"/><circle cx="127.54" cy="189.65" r="0.37" fill="#4a3aa8"/><circle cx="127.92" cy="189.82" r="0.41" fill="#2a2a90"/><circle cx="126.53" cy="187.91" r="0.42" fill="#2a2a90"/><circle cx="128.52" cy="188.11" r="0.36" fill="#2f55c8"/><circle cx="126.84" cy="188.42" r="0.36" fill="#6a4ab0"/><circle cx="127.81" cy="189.13" r="0.52" fill="#2f55c8"/><circle cx="127.46" cy="188.58" r="0.45" fill="#4a3aa8"/><circle cx="127.71" cy="188.95" r="0.45" fill="#4a3aa8"/><circle cx="128.93" cy="189.55" r="0.41" fill="#2f55c8"/><circle cx="128.69" cy="190.01" r="0.60" fill="#4a3aa8"/><circle cx="128.61" cy="188.46" r="0.51" fill="#2a2a90"/><circle cx="129.41" cy="188.63" r="0.52" fill="#2f55c8"/><circle cx="128.87" cy="189.58" r="0.52" fill="#6a4ab0"/><circle cx="129.73" cy="188.80" r="0.54" fill="#6a4ab0"/><circle cx="128.62" cy="190.22" r="0.60" fill="#4a3aa8"/><circle cx="129.42" cy="191.10" r="0.57" fill="#2f55c8"/><circle cx="129.15" cy="190.15" r="0.48" fill="#2f55c8"/><circle cx="127.64" cy="191.52" r="0.52" fill="#2f55c8"/><circle cx="128.09" cy="191.62" r="0.56" fill="#2f55c8"/><circle cx="128.72" cy="191.13" r="0.41" fill="#4a3aa8"/><circle cx="127.62" cy="191.81" r="0.44" fill="#4a3aa8"/><circle cx="128.71" cy="192.32" r="0.41" fill="#4a3aa8"/><circle cx="127.81" cy="191.95" r="0.39" fill="#2a2a90"/><circle cx="128.17" cy="191.60" r="0.57" fill="#6a4ab0"/><circle cx="127.70" cy="191.10" r="0.41" fill="#2a2a90"/><circle cx="128.21" cy="192.68" r="0.48" fill="#2f55c8"/><circle cx="128.42" cy="191.30" r="0.45" fill="#6a4ab0"/><circle cx="128.92" cy="192.50" r="0.47" fill="#4a3aa8"/><circle cx="129.08" cy="191.79" r="0.52" fill="#2f55c8"/><circle cx="128.32" cy="193.34" r="0.51" fill="#2f55c8"/><circle cx="129.07" cy="192.36" r="0.49" fill="#2a2a90"/><circle cx="128.40" cy="192.20" r="0.39" fill="#2f55c8"/><circle cx="129.23" cy="192.68" r="0.42" fill="#6a4ab0"/><circle cx="127.11" cy="193.89" r="0.56" fill="#4a3aa8"/><circle cx="127.19" cy="194.66" r="0.42" fill="#2f55c8"/><circle cx="128.93" cy="194.36" r="0.44" fill="#2a2a90"/><circle cx="128.44" cy="193.35" r="0.45" fill="#2f55c8"/><circle cx="127.39" cy="193.82" r="0.49" fill="#4a3aa8"/><circle cx="128.89" cy="194.94" r="0.50" fill="#2a2a90"/><circle cx="127.94" cy="193.93" r="0.37" fill="#6a4ab0"/><circle cx="127.26" cy="194.40" r="0.47" fill="#2a2a90"/><circle cx="126.39" cy="194.71" r="0.58" fill="#6a4ab0"/><circle cx="127.13" cy="194.50" r="0.57" fill="#6a4ab0"/><circle cx="126.85" cy="193.89" r="0.54" fill="#2a2a90"/><circle cx="127.51" cy="195.34" r="0.45" fill="#2a2a90"/><circle cx="127.87" cy="194.44" r="0.43" fill="#6a4ab0"/><circle cx="127.50" cy="194.02" r="0.41" fill="#2a2a90"/><circle cx="126.75" cy="193.93" r="0.47" fill="#4a3aa8"/><circle cx="126.73" cy="194.03" r="0.52" fill="#2f55c8"/><circle cx="126.25" cy="194.16" r="0.52" fill="#6a4ab0"/><circle cx="127.12" cy="194.36" r="0.45" fill="#2a2a90"/><circle cx="126.89" cy="194.48" r="0.43" fill="#2a2a90"/><circle cx="125.24" cy="195.43" r="0.48" fill="#2a2a90"/><circle cx="125.23" cy="194.83" r="0.56" fill="#6a4ab0"/><circle cx="125.71" cy="195.23" r="0.36" fill="#2f55c8"/><circle cx="124.74" cy="195.18" r="0.46" fill="#2f55c8"/><circle cx="124.88" cy="194.59" r="0.40" fill="#2f55c8"/><circle cx="126.04" cy="195.88" r="0.53" fill="#4a3aa8"/><circle cx="124.68" cy="196.22" r="0.40" fill="#2a2a90"/><circle cx="125.20" cy="194.31" r="0.37" fill="#2f55c8"/><circle cx="123.54" cy="194.81" r="0.46" fill="#4a3aa8"/><circle cx="124.83" cy="196.17" r="0.50" fill="#6a4ab0"/><circle cx="124.10" cy="195.99" r="0.40" fill="#4a3aa8"/><circle cx="122.95" cy="195.22" r="0.51" fill="#2a2a90"/><circle cx="123.14" cy="196.30" r="0.55" fill="#6a4ab0"/><circle cx="122.95" cy="196.31" r="0.49" fill="#4a3aa8"/><circle cx="123.72" cy="195.71" r="0.52" fill="#2f55c8"/><circle cx="124.17" cy="195.26" r="0.39" fill="#4a3aa8"/><circle cx="123.49" cy="195.10" r="0.40" fill="#2a2a90"/><circle cx="124.27" cy="194.83" r="0.51" fill="#2f55c8"/><circle cx="123.68" cy="194.90" r="0.46" fill="#2a2a90"/><circle cx="123.97" cy="194.00" r="0.39" fill="#6a4ab0"/><circle cx="122.45" cy="194.23" r="0.50" fill="#2f55c8"/><circle cx="123.23" cy="195.21" r="0.43" fill="#2f55c8"/><circle cx="122.31" cy="195.51" r="0.39" fill="#4a3aa8"/><circle cx="122.27" cy="193.35" r="0.44" fill="#2f55c8"/><circle cx="121.86" cy="194.58" r="0.37" fill="#6a4ab0"/><circle cx="121.50" cy="193.48" r="0.43" fill="#6a4ab0"/><circle cx="121.42" cy="195.02" r="0.38" fill="#4a3aa8"/><circle cx="123.37" cy="195.03" r="0.48" fill="#2f55c8"/><circle cx="122.15" cy="192.82" r="0.55" fill="#2a2a90"/><circle cx="121.31" cy="193.16" r="0.43" fill="#2a2a90"/><circle cx="121.31" cy="193.62" r="0.54" fill="#4a3aa8"/><circle cx="122.09" cy="192.90" r="0.50" fill="#2a2a90"/><circle cx="123.02" cy="193.01" r="0.59" fill="#2f55c8"/><circle cx="120.71" cy="192.65" r="0.46" fill="#4a3aa8"/><circle cx="121.38" cy="192.73" r="0.38" fill="#2f55c8"/><circle cx="122.44" cy="193.23" r="0.46" fill="#2a2a90"/><circle cx="122.39" cy="192.93" r="0.47" fill="#2a2a90"/><circle cx="120.52" cy="192.51" r="0.45" fill="#4a3aa8"/><circle cx="121.42" cy="193.13" r="0.37" fill="#4a3aa8"/><circle cx="121.24" cy="192.31" r="0.37" fill="#2a2a90"/><circle cx="122.39" cy="192.82" r="0.47" fill="#4a3aa8"/><circle cx="120.97" cy="190.56" r="0.41" fill="#4a3aa8"/><circle cx="121.53" cy="191.59" r="0.38" fill="#6a4ab0"/><circle cx="120.92" cy="191.22" r="0.36" fill="#2f55c8"/><circle cx="121.21" cy="190.33" r="0.45" fill="#4a3aa8"/><circle cx="122.70" cy="191.57" r="0.53" fill="#4a3aa8"/><circle cx="122.47" cy="189.43" r="0.59" fill="#6a4ab0"/><circle cx="122.26" cy="190.59" r="0.40" fill="#4a3aa8"/><circle cx="120.56" cy="189.32" r="0.56" fill="#2a2a90"/><circle cx="121.42" cy="189.90" r="0.38" fill="#2a2a90"/><circle cx="120.60" cy="189.79" r="0.41" fill="#2a2a90"/><circle cx="122.37" cy="188.58" r="0.43" fill="#2a2a90"/><circle cx="120.50" cy="189.88" r="0.52" fill="#2f55c8"/><circle cx="121.22" cy="190.35" r="0.47" fill="#4a3aa8"/><circle cx="120.43" cy="190.66" r="0.45" fill="#6a4ab0"/><circle cx="120.48" cy="190.29" r="0.39" fill="#4a3aa8"/><circle cx="120.76" cy="189.23" r="0.39" fill="#4a3aa8"/><circle cx="122.62" cy="190.05" r="0.53" fill="#2a2a90"/><circle cx="122.79" cy="190.30" r="0.47" fill="#6a4ab0"/><circle cx="121.66" cy="189.19" r="0.37" fill="#2a2a90"/><circle cx="120.88" cy="189.90" r="0.56" fill="#6a4ab0"/><circle cx="120.62" cy="190.12" r="0.44" fill="#4a3aa8"/><circle cx="122.33" cy="189.58" r="0.54" fill="#6a4ab0"/><circle cx="120.72" cy="190.39" r="0.58" fill="#2a2a90"/><circle cx="122.19" cy="190.40" r="0.55" fill="#4a3aa8"/><circle cx="121.44" cy="190.38" r="0.55" fill="#2f55c8"/><circle cx="122.20" cy="189.82" r="0.51" fill="#2a2a90"/><circle cx="120.56" cy="190.28" r="0.55" fill="#4a3aa8"/><circle cx="120.98" cy="189.81" r="0.49" fill="#6a4ab0"/><circle cx="121.78" cy="190.64" r="0.57" fill="#2a2a90"/><circle cx="121.34" cy="190.28" r="0.55" fill="#2f55c8"/><circle cx="122.38" cy="189.37" r="0.37" fill="#2f55c8"/><circle cx="121.99" cy="190.57" r="0.46" fill="#2f55c8"/><circle cx="120.41" cy="189.57" r="0.35" fill="#2a2a90"/><circle cx="122.51" cy="189.54" r="0.45" fill="#2f55c8"/><circle cx="121.50" cy="189.21" r="0.40" fill="#2f55c8"/><circle cx="121.35" cy="189.52" r="0.36" fill="#2f55c8"/><circle cx="120.61" cy="189.05" r="0.53" fill="#6a4ab0"/><circle cx="121.38" cy="189.69" r="0.41" fill="#4a3aa8"/><circle cx="122.04" cy="188.50" r="0.56" fill="#4a3aa8"/><circle cx="121.34" cy="189.20" r="0.39" fill="#4a3aa8"/><circle cx="120.94" cy="190.54" r="0.50" fill="#6a4ab0"/><circle cx="121.14" cy="189.16" r="0.57" fill="#4a3aa8"/><circle cx="122.46" cy="190.72" r="0.45" fill="#2a2a90"/><circle cx="120.40" cy="188.82" r="0.59" fill="#6a4ab0"/><circle cx="121.76" cy="189.98" r="0.53" fill="#2a2a90"/><circle cx="122.76" cy="190.16" r="0.54" fill="#6a4ab0"/><circle cx="120.72" cy="190.21" r="0.41" fill="#6a4ab0"/><circle cx="120.58" cy="189.90" r="0.46" fill="#2f55c8"/><circle cx="121.27" cy="189.99" r="0.51" fill="#6a4ab0"/><circle cx="122.65" cy="190.34" r="0.36" fill="#6a4ab0"/><circle cx="121.58" cy="190.06" r="0.35" fill="#2a2a90"/><circle cx="121.74" cy="189.47" r="0.54" fill="#4a3aa8"/></g>
<circle cx="125" cy="180" r="0.35" fill="#8890d8"/>
<circle cx="127" cy="182.5" r="0.35" fill="#8890d8"/>
<circle cx="124" cy="184" r="0.35" fill="#8890d8"/>
<circle cx="129" cy="181" r="0.35" fill="#8890d8"/>
<circle cx="131" cy="179.5" r="0.35" fill="#8890d8"/>
<circle cx="146" cy="165" r="0.35" fill="#8890d8"/>
<circle cx="150" cy="164" r="0.35" fill="#8890d8"/>
<circle cx="153" cy="163.5" r="0.35" fill="#8890d8"/>
<circle cx="143" cy="166.5" r="0.35" fill="#8890d8"/>
<circle cx="148" cy="167" r="0.35" fill="#8890d8"/>
<circle cx="136" cy="177" r="0.35" fill="#8890d8"/>
<ellipse cx="150.8" cy="157.4" rx="9.8" ry="7.9" fill="none" stroke="#e04a5a" stroke-width="0.9" filter="url(#bl03)"/>
<line x1="168.20" y1="170.40" x2="163.00" y2="164.80" stroke="#e03a4a" stroke-width="1.0"/>
<path d="M161.6,163.4 L164.8,164.4 L162.8,166.6 Z" fill="#e03a4a" stroke="none" stroke-width="1"/>
<rect x="36.50" y="234.70" width="58.70" height="59.00" fill="#fff" stroke="#3a3a3a" stroke-width="0.8"/>
<line x1="55.80" y1="234.70" x2="55.80" y2="293.70" stroke="#7c8294" stroke-width="0.7"/>
<line x1="36.50" y1="274.10" x2="95.20" y2="274.10" stroke="#7c8294" stroke-width="0.7"/>
<text x="65.60" y="230.70" font-size="7.4" text-anchor="middle" textLength="30.60" lengthAdjust="spacingAndGlyphs" stroke="#161616" stroke-width="0.42">DAPK2-TG</text>
<text x="39.40" y="245.50" font-size="6.6" textLength="12.90" lengthAdjust="spacingAndGlyphs" font-weight="bold" fill="#111" stroke="#111" stroke-width="0.42">35%</text>
<text x="61.50" y="245.50" font-size="6.6" textLength="12.70" lengthAdjust="spacingAndGlyphs" font-weight="bold" fill="#111" stroke="#111" stroke-width="0.42">51%</text>
<text stroke="#161616" stroke-width="0.42" x="33.30" y="300.60" font-size="5.4">10<tspan dy="-2.4" font-size="3.89">0</tspan></text>
<text stroke="#161616" stroke-width="0.42" x="47.97" y="300.60" font-size="5.4">10<tspan dy="-2.4" font-size="3.89">1</tspan></text>
<text stroke="#161616" stroke-width="0.42" x="62.65" y="300.60" font-size="5.4">10<tspan dy="-2.4" font-size="3.89">2</tspan></text>
<text stroke="#161616" stroke-width="0.42" x="77.33" y="300.60" font-size="5.4">10<tspan dy="-2.4" font-size="3.89">3</tspan></text>
<text stroke="#161616" stroke-width="0.42" x="92.00" y="300.60" font-size="5.4">10<tspan dy="-2.4" font-size="3.89">4</tspan></text>
<text stroke="#161616" stroke-width="0.42" x="34.90" y="296.90" font-size="5.4" transform="rotate(-90 34.90 296.90)">10<tspan dy="-2.4" font-size="3.89">0</tspan></text>
<text stroke="#161616" stroke-width="0.42" x="34.90" y="282.15" font-size="5.4" transform="rotate(-90 34.90 282.15)">10<tspan dy="-2.4" font-size="3.89">1</tspan></text>
<text stroke="#161616" stroke-width="0.42" x="34.90" y="267.40" font-size="5.4" transform="rotate(-90 34.90 267.40)">10<tspan dy="-2.4" font-size="3.89">2</tspan></text>
<text stroke="#161616" stroke-width="0.42" x="34.90" y="252.65" font-size="5.4" transform="rotate(-90 34.90 252.65)">10<tspan dy="-2.4" font-size="3.89">3</tspan></text>
<text stroke="#161616" stroke-width="0.42" x="34.90" y="237.90" font-size="5.4" transform="rotate(-90 34.90 237.90)">10<tspan dy="-2.4" font-size="3.89">4</tspan></text>
<text x="65.50" y="307.70" font-size="7.0" text-anchor="middle" textLength="19.60" lengthAdjust="spacingAndGlyphs" stroke="#161616" stroke-width="0.42">APC-Kit</text>
<text x="27.10" y="265.20" font-size="6.6" text-anchor="middle" textLength="27.50" lengthAdjust="spacingAndGlyphs" stroke="#161616" stroke-width="0.42" transform="rotate(-90 27.10 265.20)">FITC-CD71</text>
<g filter="url(#bl06)"><path d="M35.2,256.5 C35.5,251.5 41,249.6 46,249.7 C51.5,249.8 55.6,252 56,256.5 C56.3,261.5 51.5,264.9 45.5,264.9 C39.5,264.9 35,261.5 35.2,256.5 Z" fill="#2a2f8e"/><path d="M35.2,256.5 C35.5,251.5 41,249.6 46,249.7 C51.5,249.8 55.6,252 56,256.5 C56.3,261.5 51.5,264.9 45.5,264.9 C39.5,264.9 35,261.5 35.2,256.5 Z" fill="#2f63d6" transform="translate(45.5 257) scale(0.92) translate(-45.5 -257)"/><path d="M35.2,256.5 C35.5,251.5 41,249.6 46,249.7 C51.5,249.8 55.6,252 56,256.5 C56.3,261.5 51.5,264.9 45.5,264.9 C39.5,264.9 35,261.5 35.2,256.5 Z" fill="#39a6ec" transform="translate(45.5 257) scale(0.8) translate(-45.5 -257)"/><path d="M35.2,256.5 C35.5,251.5 41,249.6 46,249.7 C51.5,249.8 55.6,252 56,256.5 C56.3,261.5 51.5,264.9 45.5,264.9 C39.5,264.9 35,261.5 35.2,256.5 Z" fill="#4ab4d0" transform="translate(45.5 257) scale(0.35) translate(-45.5 -257)"/></g>
<g><circle cx="35.75" cy="257.10" r="0.36" fill="#2f55c8"/><circle cx="35.16" cy="255.32" r="0.58" fill="#2f55c8"/><circle cx="34.44" cy="255.91" r="0.49" fill="#2a2a90"/><circle cx="36.49" cy="254.91" r="0.50" fill="#2f55c8"/><circle cx="35.79" cy="254.33" r="0.54" fill="#2a2a90"/><circle cx="35.29" cy="256.09" r="0.51" fill="#6a4ab0"/><circle cx="35.74" cy="255.39" r="0.44" fill="#2f55c8"/><circle cx="35.34" cy="255.05" r="0.47" fill="#2a2a90"/><circle cx="36.81" cy="253.25" r="0.38" fill="#2a2a90"/><circle cx="35.30" cy="254.19" r="0.39" fill="#2f55c8"/><circle cx="37.51" cy="253.24" r="0.59" fill="#2f55c8"/><circle cx="37.64" cy="252.28" r="0.43" fill="#6a4ab0"/><circle cx="36.30" cy="252.06" r="0.46" fill="#2a2a90"/><circle cx="37.46" cy="252.16" r="0.43" fill="#6a4ab0"/><circle cx="37.01" cy="251.30" r="0.58" fill="#6a4ab0"/><circle cx="37.58" cy="251.79" r="0.39" fill="#2f55c8"/><circle cx="37.09" cy="251.04" r="0.48" fill="#6a4ab0"/><circle cx="38.79" cy="251.03" r="0.44" fill="#6a4ab0"/><circle cx="38.91" cy="250.68" r="0.51" fill="#2f55c8"/><circle cx="38.72" cy="250.02" r="0.48" fill="#2f55c8"/><circle cx="39.19" cy="251.90" r="0.42" fill="#4a3aa8"/><circle cx="40.46" cy="251.75" r="0.37" fill="#6a4ab0"/><circle cx="41.08" cy="251.06" r="0.58" fill="#4a3aa8"/><circle cx="40.62" cy="251.68" r="0.51" fill="#2a2a90"/><circle cx="41.70" cy="250.05" r="0.59" fill="#2f55c8"/><circle cx="40.80" cy="250.31" r="0.43" fill="#4a3aa8"/><circle cx="42.35" cy="249.25" r="0.53" fill="#6a4ab0"/><circle cx="42.25" cy="251.07" r="0.38" fill="#2f55c8"/><circle cx="43.09" cy="250.96" r="0.37" fill="#2a2a90"/><circle cx="43.50" cy="250.34" r="0.49" fill="#6a4ab0"/><circle cx="42.80" cy="250.37" r="0.55" fill="#4a3aa8"/><circle cx="42.65" cy="250.23" r="0.54" fill="#2a2a90"/><circle cx="45.28" cy="250.70" r="0.54" fill="#6a4ab0"/><circle cx="45.23" cy="248.86" r="0.53" fill="#6a4ab0"/><circle cx="45.43" cy="249.16" r="0.37" fill="#2f55c8"/><circle cx="45.42" cy="250.67" r="0.43" fill="#2f55c8"/><circle cx="46.42" cy="250.84" r="0.55" fill="#2f55c8"/><circle cx="44.86" cy="249.74" r="0.38" fill="#2f55c8"/><circle cx="46.23" cy="249.63" r="0.54" fill="#6a4ab0"/><circle cx="46.36" cy="248.68" r="0.46" fill="#2a2a90"/><circle cx="46.67" cy="250.60" r="0.38" fill="#4a3aa8"/><circle cx="47.28" cy="250.86" r="0.59" fill="#4a3aa8"/><circle cx="47.95" cy="250.63" r="0.40" fill="#2a2a90"/><circle cx="47.96" cy="249.14" r="0.55" fill="#2f55c8"/><circle cx="49.25" cy="249.03" r="0.51" fill="#2a2a90"/><circle cx="49.64" cy="249.84" r="0.48" fill="#6a4ab0"/><circle cx="49.55" cy="251.16" r="0.60" fill="#2f55c8"/><circle cx="51.32" cy="249.86" r="0.60" fill="#2a2a90"/><circle cx="51.29" cy="250.69" r="0.46" fill="#6a4ab0"/><circle cx="50.21" cy="250.79" r="0.38" fill="#4a3aa8"/><circle cx="51.12" cy="250.05" r="0.53" fill="#2a2a90"/><circle cx="51.50" cy="250.06" r="0.53" fill="#4a3aa8"/><circle cx="52.96" cy="250.38" r="0.54" fill="#2f55c8"/><circle cx="52.90" cy="252.17" r="0.58" fill="#2a2a90"/><circle cx="51.86" cy="250.74" r="0.35" fill="#2f55c8"/><circle cx="53.05" cy="251.76" r="0.49" fill="#2f55c8"/><circle cx="54.66" cy="251.38" r="0.36" fill="#4a3aa8"/><circle cx="53.94" cy="251.66" r="0.36" fill="#6a4ab0"/><circle cx="54.64" cy="251.90" r="0.56" fill="#2f55c8"/><circle cx="54.66" cy="252.21" r="0.60" fill="#2f55c8"/><circle cx="55.16" cy="252.70" r="0.56" fill="#4a3aa8"/><circle cx="55.29" cy="252.83" r="0.41" fill="#6a4ab0"/><circle cx="54.16" cy="252.68" r="0.36" fill="#4a3aa8"/><circle cx="55.36" cy="254.35" r="0.60" fill="#6a4ab0"/><circle cx="55.87" cy="254.38" r="0.39" fill="#6a4ab0"/><circle cx="54.33" cy="252.67" r="0.40" fill="#6a4ab0"/><circle cx="54.37" cy="255.19" r="0.59" fill="#2a2a90"/><circle cx="55.42" cy="253.34" r="0.57" fill="#2a2a90"/><circle cx="56.59" cy="254.70" r="0.49" fill="#6a4ab0"/><circle cx="55.70" cy="255.42" r="0.40" fill="#4a3aa8"/><circle cx="55.19" cy="255.42" r="0.57" fill="#2a2a90"/><circle cx="56.12" cy="254.87" r="0.40" fill="#6a4ab0"/><circle cx="56.17" cy="257.51" r="0.52" fill="#6a4ab0"/><circle cx="56.63" cy="256.67" r="0.53" fill="#6a4ab0"/><circle cx="55.21" cy="257.68" r="0.57" fill="#4a3aa8"/><circle cx="56.52" cy="257.25" r="0.57" fill="#4a3aa8"/><circle cx="55.00" cy="258.10" r="0.45" fill="#4a3aa8"/><circle cx="56.64" cy="259.04" r="0.35" fill="#4a3aa8"/><circle cx="56.06" cy="259.44" r="0.36" fill="#2a2a90"/><circle cx="56.72" cy="258.14" r="0.35" fill="#6a4ab0"/><circle cx="54.40" cy="258.95" r="0.58" fill="#4a3aa8"/><circle cx="56.15" cy="258.48" r="0.49" fill="#6a4ab0"/><circle cx="54.58" cy="259.43" r="0.35" fill="#2a2a90"/><circle cx="55.78" cy="261.18" r="0.37" fill="#4a3aa8"/><circle cx="55.48" cy="260.09" r="0.48" fill="#2a2a90"/><circle cx="54.77" cy="262.00" r="0.45" fill="#2a2a90"/><circle cx="53.24" cy="260.37" r="0.51" fill="#2a2a90"/><circle cx="54.27" cy="261.79" r="0.50" fill="#2a2a90"/><circle cx="54.21" cy="262.45" r="0.50" fill="#6a4ab0"/><circle cx="53.47" cy="260.88" r="0.54" fill="#2a2a90"/><circle cx="52.36" cy="262.59" r="0.56" fill="#4a3aa8"/><circle cx="52.21" cy="262.94" r="0.40" fill="#6a4ab0"/><circle cx="53.61" cy="263.31" r="0.37" fill="#2f55c8"/><circle cx="52.87" cy="262.05" r="0.41" fill="#2a2a90"/><circle cx="50.74" cy="262.92" r="0.43" fill="#2f55c8"/><circle cx="50.88" cy="263.72" r="0.59" fill="#4a3aa8"/><circle cx="49.77" cy="262.81" r="0.38" fill="#4a3aa8"/><circle cx="51.00" cy="263.73" r="0.45" fill="#4a3aa8"/><circle cx="51.14" cy="264.71" r="0.55" fill="#2a2a90"/><circle cx="50.95" cy="264.67" r="0.36" fill="#4a3aa8"/><circle cx="50.12" cy="264.25" r="0.57" fill="#4a3aa8"/><circle cx="49.56" cy="263.92" r="0.41" fill="#4a3aa8"/><circle cx="47.79" cy="264.15" r="0.44" fill="#2f55c8"/><circle cx="48.10" cy="263.81" r="0.39" fill="#6a4ab0"/><circle cx="48.08" cy="265.58" r="0.60" fill="#2f55c8"/><circle cx="46.91" cy="264.18" r="0.45" fill="#2a2a90"/><circle cx="46.11" cy="264.97" r="0.44" fill="#2f55c8"/><circle cx="45.29" cy="265.52" r="0.41" fill="#2f55c8"/><circle cx="46.21" cy="264.98" r="0.38" fill="#2f55c8"/><circle cx="45.32" cy="264.51" r="0.37" fill="#2a2a90"/><circle cx="45.63" cy="264.06" r="0.48" fill="#4a3aa8"/><circle cx="45.57" cy="264.65" r="0.58" fill="#2a2a90"/><circle cx="43.91" cy="264.10" r="0.54" fill="#2a2a90"/><circle cx="44.07" cy="264.61" r="0.38" fill="#4a3aa8"/><circle cx="42.91" cy="264.90" r="0.39" fill="#2f55c8"/><circle cx="43.25" cy="264.02" r="0.41" fill="#2a2a90"/><circle cx="40.78" cy="265.30" r="0.51" fill="#4a3aa8"/><circle cx="42.13" cy="264.65" r="0.52" fill="#2f55c8"/><circle cx="39.90" cy="264.70" r="0.48" fill="#2a2a90"/><circle cx="40.58" cy="263.29" r="0.38" fill="#6a4ab0"/><circle cx="40.47" cy="263.86" r="0.57" fill="#6a4ab0"/><circle cx="39.35" cy="262.87" r="0.43" fill="#6a4ab0"/><circle cx="39.84" cy="262.68" r="0.60" fill="#2a2a90"/><circle cx="40.24" cy="263.37" r="0.43" fill="#4a3aa8"/><circle cx="37.54" cy="263.83" r="0.41" fill="#4a3aa8"/><circle cx="39.40" cy="263.45" r="0.42" fill="#2a2a90"/><circle cx="38.85" cy="261.55" r="0.37" fill="#2f55c8"/><circle cx="38.41" cy="261.81" r="0.39" fill="#2a2a90"/><circle cx="38.25" cy="261.00" r="0.41" fill="#2a2a90"/><circle cx="37.60" cy="261.40" r="0.37" fill="#2a2a90"/><circle cx="36.35" cy="262.54" r="0.58" fill="#2f55c8"/><circle cx="36.58" cy="262.04" r="0.38" fill="#2f55c8"/><circle cx="36.14" cy="260.10" r="0.52" fill="#4a3aa8"/><circle cx="37.43" cy="260.10" r="0.54" fill="#2a2a90"/><circle cx="35.39" cy="259.52" r="0.40" fill="#6a4ab0"/><circle cx="36.90" cy="259.64" r="0.57" fill="#2f55c8"/><circle cx="36.62" cy="258.50" r="0.52" fill="#2f55c8"/><circle cx="35.09" cy="258.45" r="0.46" fill="#2a2a90"/><circle cx="34.54" cy="258.99" r="0.47" fill="#6a4ab0"/><circle cx="34.56" cy="258.81" r="0.39" fill="#4a3aa8"/><circle cx="35.13" cy="257.05" r="0.40" fill="#2f55c8"/><circle cx="34.97" cy="258.03" r="0.58" fill="#2a2a90"/><circle cx="34.18" cy="256.65" r="0.54" fill="#6a4ab0"/><circle cx="34.27" cy="258.38" r="0.48" fill="#4a3aa8"/><circle cx="35.25" cy="256.53" r="0.43" fill="#2a2a90"/><circle cx="34.20" cy="255.94" r="0.58" fill="#6a4ab0"/><circle cx="35.88" cy="255.62" r="0.55" fill="#2f55c8"/><circle cx="34.24" cy="255.97" r="0.55" fill="#2a2a90"/><circle cx="34.29" cy="257.66" r="0.47" fill="#4a3aa8"/><circle cx="35.22" cy="256.81" r="0.55" fill="#2a2a90"/><circle cx="35.54" cy="256.95" r="0.36" fill="#4a3aa8"/><circle cx="35.85" cy="256.89" r="0.38" fill="#2f55c8"/><circle cx="34.35" cy="257.23" r="0.59" fill="#2a2a90"/><circle cx="36.06" cy="256.18" r="0.58" fill="#4a3aa8"/><circle cx="35.68" cy="255.34" r="0.46" fill="#2a2a90"/><circle cx="35.08" cy="257.34" r="0.42" fill="#4a3aa8"/><circle cx="36.01" cy="256.03" r="0.43" fill="#4a3aa8"/><circle cx="36.25" cy="256.26" r="0.52" fill="#2a2a90"/><circle cx="34.86" cy="256.46" r="0.37" fill="#2f55c8"/><circle cx="35.23" cy="257.58" r="0.47" fill="#4a3aa8"/><circle cx="35.49" cy="255.82" r="0.56" fill="#4a3aa8"/><circle cx="34.74" cy="257.18" r="0.42" fill="#2f55c8"/><circle cx="34.08" cy="255.73" r="0.45" fill="#2a2a90"/><circle cx="35.36" cy="257.15" r="0.41" fill="#2a2a90"/><circle cx="34.37" cy="257.25" r="0.50" fill="#6a4ab0"/><circle cx="35.35" cy="257.01" r="0.38" fill="#4a3aa8"/><circle cx="35.35" cy="255.96" r="0.45" fill="#4a3aa8"/><circle cx="36.40" cy="255.62" r="0.43" fill="#2a2a90"/><circle cx="34.40" cy="256.31" r="0.37" fill="#6a4ab0"/><circle cx="35.90" cy="255.91" r="0.49" fill="#4a3aa8"/><circle cx="36.06" cy="257.60" r="0.42" fill="#6a4ab0"/><circle cx="34.23" cy="256.35" r="0.55" fill="#2a2a90"/><circle cx="36.17" cy="255.47" r="0.54" fill="#4a3aa8"/><circle cx="36.09" cy="256.31" r="0.48" fill="#2f55c8"/><circle cx="35.94" cy="256.87" r="0.48" fill="#2a2a90"/><circle cx="35.07" cy="256.50" r="0.48" fill="#2f55c8"/><circle cx="36.16" cy="257.61" r="0.40" fill="#2a2a90"/><circle cx="35.42" cy="255.91" r="0.45" fill="#2f55c8"/><circle cx="35.54" cy="256.29" r="0.59" fill="#2f55c8"/><circle cx="35.63" cy="255.48" r="0.54" fill="#6a4ab0"/></g>
<g filter="url(#bl06)"><path d="M56.8,254 C60,252.6 66,252.4 71,253.2 C72.6,256 72.6,262 72.2,266 C71.5,270.5 69.5,273.4 66.5,273.6 C63.5,273.7 61.8,271.5 60.5,268.5 C58.8,264.5 57.2,259 56.8,254 Z" fill="#2a2f8e"/><path d="M56.8,254 C60,252.6 66,252.4 71,253.2 C72.6,256 72.6,262 72.2,266 C71.5,270.5 69.5,273.4 66.5,273.6 C63.5,273.7 61.8,271.5 60.5,268.5 C58.8,264.5 57.2,259 56.8,254 Z" fill="#2f63d6" transform="translate(66.2 260) scale(0.93) translate(-66.2 -260)"/><path d="M56.8,254 C60,252.6 66,252.4 71,253.2 C72.6,256 72.6,262 72.2,266 C71.5,270.5 69.5,273.4 66.5,273.6 C63.5,273.7 61.8,271.5 60.5,268.5 C58.8,264.5 57.2,259 56.8,254 Z" fill="#39a6ec" transform="translate(66.2 260) scale(0.82) translate(-66.2 -260)"/><path d="M56.8,254 C60,252.6 66,252.4 71,253.2 C72.6,256 72.6,262 72.2,266 C71.5,270.5 69.5,273.4 66.5,273.6 C63.5,273.7 61.8,271.5 60.5,268.5 C58.8,264.5 57.2,259 56.8,254 Z" fill="#58c070" transform="translate(66.2 260) scale(0.62) translate(-66.2 -260)"/><path d="M56.8,254 C60,252.6 66,252.4 71,253.2 C72.6,256 72.6,262 72.2,266 C71.5,270.5 69.5,273.4 66.5,273.6 C63.5,273.7 61.8,271.5 60.5,268.5 C58.8,264.5 57.2,259 56.8,254 Z" fill="#a8d03c" transform="translate(66.2 260) scale(0.32) translate(-66.2 -260)"/></g>
<g><circle cx="56.11" cy="253.59" r="0.58" fill="#6a4ab0"/><circle cx="56.74" cy="254.43" r="0.53" fill="#4a3aa8"/><circle cx="57.39" cy="253.31" r="0.59" fill="#6a4ab0"/><circle cx="56.49" cy="254.87" r="0.49" fill="#6a4ab0"/><circle cx="59.33" cy="254.46" r="0.41" fill="#2f55c8"/><circle cx="57.93" cy="253.49" r="0.44" fill="#4a3aa8"/><circle cx="59.36" cy="254.21" r="0.38" fill="#4a3aa8"/><circle cx="59.95" cy="253.58" r="0.51" fill="#6a4ab0"/><circle cx="60.08" cy="254.19" r="0.49" fill="#2f55c8"/><circle cx="59.51" cy="253.75" r="0.43" fill="#6a4ab0"/><circle cx="61.26" cy="253.42" r="0.55" fill="#6a4ab0"/><circle cx="60.48" cy="254.10" r="0.54" fill="#4a3aa8"/><circle cx="62.06" cy="253.37" r="0.59" fill="#4a3aa8"/><circle cx="61.43" cy="253.72" r="0.51" fill="#4a3aa8"/><circle cx="63.49" cy="253.05" r="0.56" fill="#2a2a90"/><circle cx="62.00" cy="251.64" r="0.48" fill="#2f55c8"/><circle cx="62.60" cy="253.47" r="0.56" fill="#2a2a90"/><circle cx="64.20" cy="251.56" r="0.41" fill="#2f55c8"/><circle cx="65.72" cy="253.42" r="0.41" fill="#2a2a90"/><circle cx="63.84" cy="253.78" r="0.59" fill="#4a3aa8"/><circle cx="65.74" cy="251.72" r="0.44" fill="#2f55c8"/><circle cx="65.61" cy="252.69" r="0.41" fill="#2a2a90"/><circle cx="67.88" cy="252.21" r="0.42" fill="#2a2a90"/><circle cx="67.16" cy="253.25" r="0.42" fill="#2f55c8"/><circle cx="67.53" cy="252.82" r="0.40" fill="#2a2a90"/><circle cx="68.51" cy="253.66" r="0.46" fill="#2f55c8"/><circle cx="69.48" cy="252.28" r="0.55" fill="#6a4ab0"/><circle cx="67.98" cy="253.14" r="0.40" fill="#6a4ab0"/><circle cx="70.72" cy="253.75" r="0.41" fill="#2a2a90"/><circle cx="70.77" cy="252.99" r="0.46" fill="#2a2a90"/><circle cx="70.26" cy="253.40" r="0.38" fill="#6a4ab0"/><circle cx="70.38" cy="252.62" r="0.46" fill="#2f55c8"/><circle cx="71.84" cy="252.68" r="0.53" fill="#4a3aa8"/><circle cx="71.33" cy="253.11" r="0.53" fill="#6a4ab0"/><circle cx="71.83" cy="255.44" r="0.40" fill="#2f55c8"/><circle cx="72.75" cy="255.43" r="0.38" fill="#2a2a90"/><circle cx="71.12" cy="255.87" r="0.56" fill="#2f55c8"/><circle cx="71.53" cy="255.28" r="0.43" fill="#2f55c8"/><circle cx="70.98" cy="254.94" r="0.48" fill="#4a3aa8"/><circle cx="71.18" cy="256.33" r="0.41" fill="#2a2a90"/><circle cx="71.39" cy="255.96" r="0.48" fill="#2f55c8"/><circle cx="72.56" cy="256.82" r="0.43" fill="#2a2a90"/><circle cx="71.28" cy="256.73" r="0.45" fill="#6a4ab0"/><circle cx="71.19" cy="258.49" r="0.48" fill="#6a4ab0"/><circle cx="71.88" cy="258.63" r="0.53" fill="#2f55c8"/><circle cx="72.40" cy="259.35" r="0.53" fill="#2f55c8"/><circle cx="72.66" cy="258.67" r="0.46" fill="#2f55c8"/><circle cx="71.50" cy="260.48" r="0.59" fill="#4a3aa8"/><circle cx="71.36" cy="261.01" r="0.36" fill="#2a2a90"/><circle cx="73.26" cy="260.96" r="0.44" fill="#2a2a90"/><circle cx="71.57" cy="262.00" r="0.53" fill="#2a2a90"/><circle cx="71.30" cy="262.51" r="0.52" fill="#2a2a90"/><circle cx="72.89" cy="262.03" r="0.55" fill="#6a4ab0"/><circle cx="71.62" cy="261.69" r="0.54" fill="#6a4ab0"/><circle cx="72.88" cy="263.07" r="0.57" fill="#6a4ab0"/><circle cx="73.51" cy="262.48" r="0.41" fill="#6a4ab0"/><circle cx="72.27" cy="265.40" r="0.50" fill="#2f55c8"/><circle cx="72.96" cy="264.05" r="0.40" fill="#4a3aa8"/><circle cx="72.87" cy="266.17" r="0.47" fill="#2f55c8"/><circle cx="73.00" cy="264.04" r="0.48" fill="#4a3aa8"/><circle cx="73.34" cy="266.28" r="0.43" fill="#2f55c8"/><circle cx="72.64" cy="266.38" r="0.36" fill="#2a2a90"/><circle cx="72.91" cy="267.06" r="0.35" fill="#2f55c8"/><circle cx="72.30" cy="267.84" r="0.59" fill="#2f55c8"/><circle cx="71.20" cy="267.27" r="0.57" fill="#2f55c8"/><circle cx="71.38" cy="267.99" r="0.45" fill="#2f55c8"/><circle cx="70.69" cy="267.84" r="0.58" fill="#6a4ab0"/><circle cx="72.24" cy="269.15" r="0.49" fill="#4a3aa8"/><circle cx="72.13" cy="269.58" r="0.36" fill="#4a3aa8"/><circle cx="71.98" cy="269.99" r="0.41" fill="#2f55c8"/><circle cx="70.79" cy="270.74" r="0.38" fill="#2f55c8"/><circle cx="71.49" cy="268.86" r="0.57" fill="#4a3aa8"/><circle cx="71.59" cy="271.47" r="0.38" fill="#2a2a90"/><circle cx="71.46" cy="271.38" r="0.59" fill="#2f55c8"/><circle cx="70.33" cy="271.05" r="0.54" fill="#4a3aa8"/><circle cx="70.95" cy="270.81" r="0.37" fill="#2a2a90"/><circle cx="69.60" cy="270.53" r="0.55" fill="#4a3aa8"/><circle cx="69.70" cy="271.94" r="0.47" fill="#2a2a90"/><circle cx="68.88" cy="272.04" r="0.45" fill="#6a4ab0"/><circle cx="70.69" cy="271.68" r="0.51" fill="#6a4ab0"/><circle cx="68.72" cy="272.17" r="0.56" fill="#2f55c8"/><circle cx="69.33" cy="271.59" r="0.50" fill="#2a2a90"/><circle cx="68.64" cy="272.68" r="0.57" fill="#4a3aa8"/><circle cx="67.98" cy="272.55" r="0.44" fill="#2a2a90"/><circle cx="68.55" cy="273.33" r="0.47" fill="#6a4ab0"/><circle cx="67.03" cy="272.28" r="0.60" fill="#4a3aa8"/><circle cx="67.70" cy="274.15" r="0.55" fill="#2f55c8"/><circle cx="66.69" cy="274.08" r="0.50" fill="#2a2a90"/><circle cx="66.41" cy="274.44" r="0.60" fill="#6a4ab0"/><circle cx="66.27" cy="273.85" r="0.37" fill="#6a4ab0"/><circle cx="65.78" cy="273.12" r="0.43" fill="#4a3aa8"/><circle cx="66.48" cy="274.21" r="0.35" fill="#4a3aa8"/><circle cx="66.17" cy="273.30" r="0.56" fill="#4a3aa8"/><circle cx="65.16" cy="274.57" r="0.49" fill="#2a2a90"/><circle cx="66.25" cy="273.19" r="0.58" fill="#4a3aa8"/><circle cx="65.38" cy="274.48" r="0.56" fill="#4a3aa8"/><circle cx="64.87" cy="274.43" r="0.49" fill="#4a3aa8"/><circle cx="64.02" cy="273.25" r="0.36" fill="#4a3aa8"/><circle cx="64.61" cy="272.64" r="0.42" fill="#6a4ab0"/><circle cx="63.68" cy="273.53" r="0.36" fill="#2a2a90"/><circle cx="64.63" cy="273.96" r="0.39" fill="#4a3aa8"/><circle cx="63.99" cy="272.35" r="0.56" fill="#4a3aa8"/><circle cx="63.71" cy="273.68" r="0.40" fill="#2a2a90"/><circle cx="64.06" cy="273.22" r="0.53" fill="#2f55c8"/><circle cx="63.86" cy="272.21" r="0.48" fill="#6a4ab0"/><circle cx="64.12" cy="272.25" r="0.37" fill="#2a2a90"/><circle cx="63.63" cy="272.17" r="0.45" fill="#2f55c8"/><circle cx="62.58" cy="272.36" r="0.60" fill="#2f55c8"/><circle cx="62.09" cy="272.15" r="0.60" fill="#4a3aa8"/><circle cx="61.50" cy="271.40" r="0.50" fill="#2f55c8"/><circle cx="61.51" cy="271.50" r="0.46" fill="#4a3aa8"/><circle cx="61.23" cy="270.74" r="0.48" fill="#4a3aa8"/><circle cx="61.44" cy="271.52" r="0.54" fill="#6a4ab0"/><circle cx="61.58" cy="270.17" r="0.48" fill="#6a4ab0"/><circle cx="61.56" cy="269.34" r="0.39" fill="#2a2a90"/><circle cx="60.98" cy="269.91" r="0.37" fill="#2a2a90"/><circle cx="60.69" cy="269.47" r="0.44" fill="#6a4ab0"/><circle cx="61.39" cy="269.57" r="0.56" fill="#2a2a90"/><circle cx="59.67" cy="269.77" r="0.47" fill="#6a4ab0"/><circle cx="61.85" cy="269.38" r="0.39" fill="#2a2a90"/><circle cx="61.58" cy="267.65" r="0.44" fill="#6a4ab0"/><circle cx="61.20" cy="268.72" r="0.52" fill="#2f55c8"/><circle cx="60.88" cy="266.86" r="0.49" fill="#4a3aa8"/><circle cx="59.65" cy="266.81" r="0.58" fill="#2a2a90"/><circle cx="60.11" cy="267.56" r="0.46" fill="#2f55c8"/><circle cx="59.50" cy="267.77" r="0.44" fill="#2f55c8"/><circle cx="59.83" cy="265.88" r="0.43" fill="#6a4ab0"/><circle cx="59.76" cy="266.09" r="0.56" fill="#2a2a90"/><circle cx="58.87" cy="264.75" r="0.44" fill="#2a2a90"/><circle cx="58.64" cy="264.62" r="0.56" fill="#4a3aa8"/><circle cx="59.93" cy="263.78" r="0.37" fill="#4a3aa8"/><circle cx="57.82" cy="264.81" r="0.39" fill="#4a3aa8"/><circle cx="57.90" cy="262.96" r="0.38" fill="#2a2a90"/><circle cx="59.65" cy="263.23" r="0.58" fill="#2a2a90"/><circle cx="58.95" cy="261.28" r="0.56" fill="#2a2a90"/><circle cx="58.89" cy="262.98" r="0.45" fill="#2a2a90"/><circle cx="58.34" cy="261.62" r="0.39" fill="#4a3aa8"/><circle cx="59.18" cy="260.01" r="0.36" fill="#2a2a90"/><circle cx="56.68" cy="259.70" r="0.52" fill="#4a3aa8"/><circle cx="56.86" cy="259.30" r="0.40" fill="#2f55c8"/><circle cx="57.97" cy="260.22" r="0.44" fill="#6a4ab0"/><circle cx="57.14" cy="258.87" r="0.46" fill="#6a4ab0"/><circle cx="58.49" cy="259.26" r="0.53" fill="#4a3aa8"/><circle cx="56.55" cy="259.01" r="0.55" fill="#2a2a90"/><circle cx="57.04" cy="257.34" r="0.58" fill="#6a4ab0"/><circle cx="57.29" cy="257.97" r="0.35" fill="#6a4ab0"/><circle cx="57.94" cy="256.26" r="0.43" fill="#6a4ab0"/><circle cx="57.05" cy="255.18" r="0.36" fill="#4a3aa8"/><circle cx="56.89" cy="255.46" r="0.39" fill="#2a2a90"/><circle cx="56.90" cy="256.02" r="0.53" fill="#2a2a90"/><circle cx="57.63" cy="253.67" r="0.53" fill="#4a3aa8"/><circle cx="56.97" cy="254.55" r="0.45" fill="#6a4ab0"/><circle cx="57.89" cy="255.03" r="0.50" fill="#2f55c8"/><circle cx="57.75" cy="253.26" r="0.60" fill="#4a3aa8"/><circle cx="57.50" cy="254.69" r="0.56" fill="#2f55c8"/><circle cx="56.36" cy="254.62" r="0.42" fill="#2f55c8"/><circle cx="55.98" cy="254.86" r="0.47" fill="#2f55c8"/><circle cx="57.66" cy="255.17" r="0.47" fill="#2a2a90"/><circle cx="55.96" cy="254.63" r="0.49" fill="#2f55c8"/><circle cx="57.01" cy="253.83" r="0.58" fill="#2a2a90"/><circle cx="57.01" cy="253.12" r="0.44" fill="#2a2a90"/><circle cx="57.05" cy="253.84" r="0.57" fill="#2f55c8"/><circle cx="55.80" cy="253.88" r="0.44" fill="#2a2a90"/><circle cx="56.79" cy="254.53" r="0.40" fill="#2f55c8"/><circle cx="56.27" cy="253.69" r="0.58" fill="#6a4ab0"/><circle cx="57.45" cy="254.46" r="0.51" fill="#2f55c8"/><circle cx="56.69" cy="254.87" r="0.45" fill="#6a4ab0"/><circle cx="57.90" cy="252.91" r="0.56" fill="#2f55c8"/><circle cx="55.73" cy="255.17" r="0.49" fill="#4a3aa8"/><circle cx="56.44" cy="254.84" r="0.56" fill="#2f55c8"/><circle cx="57.56" cy="252.88" r="0.47" fill="#2a2a90"/><circle cx="55.80" cy="254.70" r="0.57" fill="#4a3aa8"/><circle cx="56.71" cy="253.93" r="0.53" fill="#2f55c8"/><circle cx="56.42" cy="255.04" r="0.40" fill="#4a3aa8"/><circle cx="57.15" cy="254.62" r="0.51" fill="#2f55c8"/><circle cx="56.41" cy="253.19" r="0.58" fill="#6a4ab0"/><circle cx="57.66" cy="253.34" r="0.41" fill="#2a2a90"/><circle cx="56.13" cy="254.98" r="0.50" fill="#2a2a90"/><circle cx="57.11" cy="254.08" r="0.56" fill="#6a4ab0"/><circle cx="56.11" cy="253.80" r="0.47" fill="#2f55c8"/></g>
<g filter="url(#bl05)"><path d="M37,289 C38,286.3 46,285.6 49.6,287.8 C50.2,290 47.5,291.5 43.5,291.5 C39.5,291.5 36.8,290.6 37,289 Z" fill="#2f45b8"/><path d="M37,289 C38,286.3 46,285.6 49.6,287.8 C50.2,290 47.5,291.5 43.5,291.5 C39.5,291.5 36.8,290.6 37,289 Z" fill="#3a7ad8" transform="translate(43.5 288.8) scale(0.55) translate(-43.5 -288.8)"/></g>
<g><circle cx="37.44" cy="289.59" r="0.41" fill="#6a4ab0"/><circle cx="36.95" cy="289.07" r="0.40" fill="#2f55c8"/><circle cx="36.36" cy="289.09" r="0.49" fill="#6a4ab0"/><circle cx="38.11" cy="289.64" r="0.57" fill="#6a4ab0"/><circle cx="37.42" cy="287.76" r="0.44" fill="#6a4ab0"/><circle cx="38.07" cy="288.53" r="0.39" fill="#2a2a90"/><circle cx="37.45" cy="289.11" r="0.60" fill="#4a3aa8"/><circle cx="37.77" cy="287.49" r="0.43" fill="#4a3aa8"/><circle cx="37.72" cy="286.60" r="0.40" fill="#2a2a90"/><circle cx="39.27" cy="287.62" r="0.44" fill="#2f55c8"/><circle cx="38.59" cy="288.51" r="0.40" fill="#4a3aa8"/><circle cx="38.30" cy="287.73" r="0.43" fill="#4a3aa8"/><circle cx="39.65" cy="287.46" r="0.46" fill="#4a3aa8"/><circle cx="39.28" cy="286.55" r="0.48" fill="#2a2a90"/><circle cx="40.32" cy="286.43" r="0.38" fill="#2f55c8"/><circle cx="40.74" cy="288.24" r="0.52" fill="#2a2a90"/><circle cx="39.76" cy="288.03" r="0.37" fill="#2f55c8"/><circle cx="39.87" cy="287.06" r="0.35" fill="#6a4ab0"/><circle cx="40.60" cy="287.26" r="0.48" fill="#4a3aa8"/><circle cx="39.79" cy="286.04" r="0.39" fill="#4a3aa8"/><circle cx="40.68" cy="287.68" r="0.42" fill="#2f55c8"/><circle cx="42.05" cy="286.36" r="0.60" fill="#2a2a90"/><circle cx="41.29" cy="287.36" r="0.60" fill="#2a2a90"/><circle cx="43.12" cy="287.50" r="0.48" fill="#6a4ab0"/><circle cx="42.71" cy="286.90" r="0.59" fill="#2a2a90"/><circle cx="44.22" cy="286.81" r="0.51" fill="#4a3aa8"/><circle cx="43.45" cy="286.17" r="0.38" fill="#2f55c8"/><circle cx="43.17" cy="285.63" r="0.39" fill="#4a3aa8"/><circle cx="43.54" cy="287.22" r="0.38" fill="#2f55c8"/><circle cx="44.48" cy="286.69" r="0.49" fill="#6a4ab0"/><circle cx="45.11" cy="287.15" r="0.53" fill="#4a3aa8"/><circle cx="45.01" cy="285.92" r="0.54" fill="#4a3aa8"/><circle cx="46.85" cy="286.29" r="0.54" fill="#6a4ab0"/><circle cx="46.12" cy="286.46" r="0.47" fill="#2a2a90"/><circle cx="45.93" cy="287.15" r="0.56" fill="#6a4ab0"/><circle cx="47.77" cy="286.11" r="0.36" fill="#4a3aa8"/><circle cx="46.54" cy="286.31" r="0.54" fill="#2a2a90"/><circle cx="46.88" cy="285.87" r="0.54" fill="#2a2a90"/><circle cx="47.94" cy="288.11" r="0.41" fill="#4a3aa8"/><circle cx="47.12" cy="286.90" r="0.58" fill="#2a2a90"/><circle cx="49.01" cy="287.10" r="0.39" fill="#2a2a90"/><circle cx="48.51" cy="288.45" r="0.53" fill="#4a3aa8"/><circle cx="49.85" cy="288.21" r="0.42" fill="#2a2a90"/><circle cx="48.69" cy="286.56" r="0.54" fill="#4a3aa8"/><circle cx="49.63" cy="287.00" r="0.52" fill="#6a4ab0"/><circle cx="49.02" cy="287.69" r="0.41" fill="#6a4ab0"/><circle cx="48.47" cy="287.43" r="0.45" fill="#4a3aa8"/><circle cx="49.44" cy="288.18" r="0.42" fill="#2f55c8"/><circle cx="49.29" cy="287.82" r="0.52" fill="#4a3aa8"/><circle cx="48.57" cy="288.18" r="0.56" fill="#2a2a90"/><circle cx="48.84" cy="287.63" r="0.49" fill="#2f55c8"/><circle cx="50.67" cy="287.70" r="0.48" fill="#6a4ab0"/><circle cx="49.02" cy="287.96" r="0.58" fill="#6a4ab0"/><circle cx="49.11" cy="289.97" r="0.55" fill="#6a4ab0"/><circle cx="48.63" cy="288.14" r="0.46" fill="#2a2a90"/><circle cx="50.00" cy="289.37" r="0.59" fill="#2a2a90"/><circle cx="50.09" cy="290.12" r="0.37" fill="#2f55c8"/><circle cx="48.77" cy="288.76" r="0.59" fill="#2f55c8"/><circle cx="48.87" cy="290.13" r="0.44" fill="#2f55c8"/><circle cx="48.42" cy="289.51" r="0.39" fill="#4a3aa8"/><circle cx="48.06" cy="290.43" r="0.57" fill="#4a3aa8"/><circle cx="49.42" cy="289.31" r="0.38" fill="#6a4ab0"/><circle cx="47.84" cy="289.42" r="0.39" fill="#2f55c8"/><circle cx="47.82" cy="289.63" r="0.50" fill="#6a4ab0"/><circle cx="49.69" cy="290.64" r="0.59" fill="#4a3aa8"/><circle cx="48.11" cy="289.58" r="0.53" fill="#4a3aa8"/><circle cx="47.97" cy="290.50" r="0.50" fill="#4a3aa8"/><circle cx="48.56" cy="290.86" r="0.38" fill="#2a2a90"/><circle cx="47.77" cy="291.04" r="0.40" fill="#2f55c8"/><circle cx="47.42" cy="291.29" r="0.53" fill="#2f55c8"/><circle cx="47.66" cy="290.20" r="0.58" fill="#6a4ab0"/><circle cx="47.73" cy="290.31" r="0.56" fill="#2a2a90"/><circle cx="48.02" cy="290.90" r="0.53" fill="#4a3aa8"/><circle cx="47.80" cy="291.81" r="0.53" fill="#6a4ab0"/><circle cx="46.52" cy="291.68" r="0.53" fill="#4a3aa8"/><circle cx="47.64" cy="292.23" r="0.46" fill="#2f55c8"/><circle cx="46.77" cy="291.65" r="0.42" fill="#2a2a90"/><circle cx="46.06" cy="290.96" r="0.46" fill="#2f55c8"/><circle cx="46.73" cy="290.63" r="0.43" fill="#2a2a90"/><circle cx="46.53" cy="291.85" r="0.40" fill="#2a2a90"/><circle cx="45.23" cy="290.80" r="0.47" fill="#4a3aa8"/><circle cx="46.49" cy="292.19" r="0.57" fill="#6a4ab0"/><circle cx="44.55" cy="290.59" r="0.39" fill="#4a3aa8"/><circle cx="45.57" cy="291.06" r="0.37" fill="#4a3aa8"/><circle cx="44.15" cy="292.31" r="0.57" fill="#6a4ab0"/><circle cx="44.37" cy="290.63" r="0.55" fill="#2a2a90"/><circle cx="43.10" cy="290.94" r="0.48" fill="#2f55c8"/><circle cx="45.21" cy="291.23" r="0.40" fill="#2a2a90"/><circle cx="44.07" cy="290.57" r="0.43" fill="#4a3aa8"/><circle cx="43.93" cy="291.80" r="0.40" fill="#2a2a90"/><circle cx="43.15" cy="291.67" r="0.41" fill="#2a2a90"/><circle cx="42.24" cy="292.35" r="0.58" fill="#4a3aa8"/><circle cx="42.37" cy="292.13" r="0.57" fill="#2a2a90"/><circle cx="41.33" cy="291.06" r="0.51" fill="#2a2a90"/><circle cx="41.96" cy="290.54" r="0.40" fill="#2f55c8"/><circle cx="43.12" cy="292.45" r="0.35" fill="#4a3aa8"/><circle cx="40.54" cy="292.58" r="0.41" fill="#6a4ab0"/><circle cx="40.84" cy="291.62" r="0.44" fill="#2a2a90"/><circle cx="41.04" cy="291.48" r="0.43" fill="#6a4ab0"/><circle cx="41.66" cy="291.31" r="0.60" fill="#2a2a90"/><circle cx="40.94" cy="291.21" r="0.50" fill="#4a3aa8"/><circle cx="41.22" cy="292.12" r="0.49" fill="#6a4ab0"/><circle cx="39.31" cy="292.33" r="0.59" fill="#6a4ab0"/><circle cx="41.18" cy="292.14" r="0.43" fill="#4a3aa8"/><circle cx="40.19" cy="290.11" r="0.58" fill="#4a3aa8"/><circle cx="39.41" cy="290.99" r="0.48" fill="#2f55c8"/><circle cx="40.36" cy="290.70" r="0.44" fill="#4a3aa8"/><circle cx="38.39" cy="291.13" r="0.38" fill="#2f55c8"/><circle cx="39.87" cy="290.26" r="0.57" fill="#2f55c8"/><circle cx="39.84" cy="291.21" r="0.49" fill="#2f55c8"/><circle cx="38.16" cy="289.85" r="0.59" fill="#2f55c8"/><circle cx="39.50" cy="290.53" r="0.60" fill="#2f55c8"/><circle cx="37.50" cy="291.15" r="0.38" fill="#4a3aa8"/><circle cx="38.18" cy="291.83" r="0.44" fill="#6a4ab0"/><circle cx="36.91" cy="291.79" r="0.40" fill="#6a4ab0"/><circle cx="37.77" cy="290.02" r="0.39" fill="#6a4ab0"/><circle cx="37.05" cy="291.46" r="0.55" fill="#2a2a90"/><circle cx="36.72" cy="289.79" r="0.59" fill="#6a4ab0"/><circle cx="38.06" cy="290.30" r="0.47" fill="#4a3aa8"/><circle cx="37.74" cy="289.27" r="0.39" fill="#4a3aa8"/><circle cx="36.87" cy="290.50" r="0.38" fill="#4a3aa8"/><circle cx="37.83" cy="291.04" r="0.42" fill="#4a3aa8"/><circle cx="37.81" cy="290.54" r="0.38" fill="#2f55c8"/><circle cx="36.84" cy="290.41" r="0.49" fill="#4a3aa8"/><circle cx="37.58" cy="290.39" r="0.43" fill="#4a3aa8"/><circle cx="37.78" cy="289.48" r="0.46" fill="#4a3aa8"/><circle cx="37.85" cy="289.98" r="0.38" fill="#2a2a90"/><circle cx="37.30" cy="290.07" r="0.48" fill="#4a3aa8"/><circle cx="36.46" cy="290.25" r="0.39" fill="#2a2a90"/><circle cx="35.85" cy="290.36" r="0.46" fill="#6a4ab0"/><circle cx="37.07" cy="290.08" r="0.40" fill="#2f55c8"/><circle cx="37.24" cy="288.33" r="0.44" fill="#2a2a90"/><circle cx="35.85" cy="289.53" r="0.36" fill="#2f55c8"/><circle cx="37.41" cy="288.52" r="0.53" fill="#2a2a90"/><circle cx="37.89" cy="290.18" r="0.46" fill="#2f55c8"/><circle cx="37.13" cy="287.81" r="0.36" fill="#2f55c8"/><circle cx="36.35" cy="288.02" r="0.58" fill="#6a4ab0"/><circle cx="37.27" cy="289.87" r="0.39" fill="#6a4ab0"/><circle cx="36.70" cy="289.74" r="0.56" fill="#4a3aa8"/><circle cx="36.47" cy="289.59" r="0.56" fill="#4a3aa8"/><circle cx="36.12" cy="288.53" r="0.36" fill="#2a2a90"/><circle cx="36.32" cy="290.09" r="0.44" fill="#2f55c8"/><circle cx="37.00" cy="287.86" r="0.54" fill="#2f55c8"/><circle cx="36.76" cy="288.18" r="0.47" fill="#6a4ab0"/><circle cx="36.18" cy="289.63" r="0.46" fill="#4a3aa8"/><circle cx="36.93" cy="289.02" r="0.55" fill="#4a3aa8"/><circle cx="37.37" cy="288.40" r="0.49" fill="#2a2a90"/><circle cx="36.43" cy="288.64" r="0.38" fill="#2f55c8"/><circle cx="36.70" cy="289.19" r="0.40" fill="#6a4ab0"/><circle cx="37.74" cy="289.89" r="0.43" fill="#4a3aa8"/><circle cx="37.13" cy="289.24" r="0.51" fill="#4a3aa8"/><circle cx="37.48" cy="288.21" r="0.52" fill="#2a2a90"/><circle cx="37.69" cy="289.43" r="0.55" fill="#6a4ab0"/><circle cx="37.80" cy="289.51" r="0.46" fill="#2a2a90"/><circle cx="36.17" cy="288.21" r="0.57" fill="#2f55c8"/><circle cx="36.33" cy="289.88" r="0.45" fill="#4a3aa8"/><circle cx="36.04" cy="289.53" r="0.56" fill="#4a3aa8"/><circle cx="36.94" cy="289.09" r="0.46" fill="#6a4ab0"/><circle cx="37.81" cy="287.84" r="0.58" fill="#4a3aa8"/><circle cx="36.87" cy="289.93" r="0.51" fill="#2a2a90"/><circle cx="37.09" cy="288.32" r="0.55" fill="#2f55c8"/><circle cx="37.31" cy="289.23" r="0.58" fill="#4a3aa8"/><circle cx="37.36" cy="288.69" r="0.47" fill="#2a2a90"/><circle cx="38.15" cy="288.18" r="0.43" fill="#2f55c8"/><circle cx="37.12" cy="289.56" r="0.38" fill="#2a2a90"/><circle cx="36.27" cy="288.29" r="0.41" fill="#2a2a90"/><circle cx="36.43" cy="288.24" r="0.35" fill="#6a4ab0"/><circle cx="36.34" cy="288.38" r="0.57" fill="#6a4ab0"/><circle cx="36.07" cy="288.34" r="0.35" fill="#2f55c8"/><circle cx="37.60" cy="288.89" r="0.47" fill="#2a2a90"/><circle cx="38.19" cy="288.30" r="0.36" fill="#6a4ab0"/><circle cx="36.79" cy="290.03" r="0.45" fill="#2f55c8"/><circle cx="36.80" cy="289.28" r="0.55" fill="#6a4ab0"/><circle cx="37.42" cy="289.20" r="0.48" fill="#6a4ab0"/><circle cx="36.46" cy="289.79" r="0.58" fill="#6a4ab0"/><circle cx="36.31" cy="287.92" r="0.40" fill="#4a3aa8"/></g>
<circle cx="40" cy="268" r="0.35" fill="#98a0d8"/>
<circle cx="44" cy="270" r="0.35" fill="#98a0d8"/>
<circle cx="48" cy="269.5" r="0.35" fill="#98a0d8"/>
<circle cx="42" cy="276" r="0.35" fill="#98a0d8"/>
<circle cx="47" cy="279" r="0.35" fill="#98a0d8"/>
<circle cx="45" cy="283" r="0.35" fill="#98a0d8"/>
<circle cx="52" cy="278" r="0.35" fill="#98a0d8"/>
<circle cx="60" cy="276" r="0.35" fill="#98a0d8"/>
<circle cx="62" cy="277.5" r="0.35" fill="#98a0d8"/>
<ellipse cx="45.6" cy="257.3" rx="11.0" ry="8.3" fill="none" stroke="#e88aa0" stroke-width="0.8" filter="url(#bl03)"/>
<rect x="56.70" y="250.40" width="18.00" height="23.80" fill="none" stroke="#ec8080" stroke-width="0.9"/>
<rect x="121.10" y="234.90" width="58.60" height="57.80" fill="#fff" stroke="#3a3a3a" stroke-width="0.8"/>
<line x1="141.00" y1="234.90" x2="141.00" y2="292.70" stroke="#7c8294" stroke-width="0.7"/>
<line x1="121.10" y1="274.30" x2="179.70" y2="274.30" stroke="#7c8294" stroke-width="0.7"/>
<text x="150.80" y="230.90" font-size="7.4" text-anchor="middle" textLength="31.60" lengthAdjust="spacingAndGlyphs" stroke="#161616" stroke-width="0.42">DAPK2-TG</text>
<text x="124.00" y="245.70" font-size="6.6" textLength="12.90" lengthAdjust="spacingAndGlyphs" font-weight="bold" fill="#111" stroke="#111" stroke-width="0.42">83%</text>
<text x="156.60" y="245.70" font-size="6.6" textLength="12.70" lengthAdjust="spacingAndGlyphs" font-weight="bold" fill="#111" stroke="#111" stroke-width="0.42">12%</text>
<text stroke="#161616" stroke-width="0.42" x="117.90" y="299.60" font-size="5.4">10<tspan dy="-2.4" font-size="3.89">0</tspan></text>
<text stroke="#161616" stroke-width="0.42" x="132.55" y="299.60" font-size="5.4">10<tspan dy="-2.4" font-size="3.89">1</tspan></text>
<text stroke="#161616" stroke-width="0.42" x="147.20" y="299.60" font-size="5.4">10<tspan dy="-2.4" font-size="3.89">2</tspan></text>
<text stroke="#161616" stroke-width="0.42" x="161.85" y="299.60" font-size="5.4">10<tspan dy="-2.4" font-size="3.89">3</tspan></text>
<text stroke="#161616" stroke-width="0.42" x="176.50" y="299.60" font-size="5.4">10<tspan dy="-2.4" font-size="3.89">4</tspan></text>
<text stroke="#161616" stroke-width="0.42" x="119.50" y="295.90" font-size="5.4" transform="rotate(-90 119.50 295.90)">10<tspan dy="-2.4" font-size="3.89">0</tspan></text>
<text stroke="#161616" stroke-width="0.42" x="119.50" y="281.45" font-size="5.4" transform="rotate(-90 119.50 281.45)">10<tspan dy="-2.4" font-size="3.89">1</tspan></text>
<text stroke="#161616" stroke-width="0.42" x="119.50" y="267.00" font-size="5.4" transform="rotate(-90 119.50 267.00)">10<tspan dy="-2.4" font-size="3.89">2</tspan></text>
<text stroke="#161616" stroke-width="0.42" x="119.50" y="252.55" font-size="5.4" transform="rotate(-90 119.50 252.55)">10<tspan dy="-2.4" font-size="3.89">3</tspan></text>
<text stroke="#161616" stroke-width="0.42" x="119.50" y="238.10" font-size="5.4" transform="rotate(-90 119.50 238.10)">10<tspan dy="-2.4" font-size="3.89">4</tspan></text>
<text x="151.10" y="306.70" font-size="7.0" text-anchor="middle" textLength="26.80" lengthAdjust="spacingAndGlyphs" stroke="#161616" stroke-width="0.42">PE-Ter119</text>
<text x="111.70" y="264.80" font-size="6.6" text-anchor="middle" textLength="27.50" lengthAdjust="spacingAndGlyphs" stroke="#161616" stroke-width="0.42" transform="rotate(-90 111.70 264.80)">FITC-CD71</text>
<g filter="url(#bl06)"><path d="M121.9,254 C125,252.5 129,251.4 133,251.1 C137,250.8 140,250.6 143,250.7 C146,250.9 149.5,251.6 151,253.5 C151.2,255.2 149.5,256.8 147.5,256.9 C145.5,257 143.5,257 142,257.4 C139.5,260 137.5,262.5 135.5,265 C133,268.5 130,272 127.5,274.5 C125,275.6 122.5,275 122,272 C121.7,266 121.7,260 121.9,254 Z" fill="#2a2f8e"/><path d="M121.9,254 C125,252.5 129,251.4 133,251.1 C137,250.8 140,250.6 143,250.7 C146,250.9 149.5,251.6 151,253.5 C151.2,255.2 149.5,256.8 147.5,256.9 C145.5,257 143.5,257 142,257.4 C139.5,260 137.5,262.5 135.5,265 C133,268.5 130,272 127.5,274.5 C125,275.6 122.5,275 122,272 C121.7,266 121.7,260 121.9,254 Z" fill="#2f63d6" transform="translate(129.2 261) scale(0.93) translate(-129.2 -261)"/><path d="M121.9,254 C125,252.5 129,251.4 133,251.1 C137,250.8 140,250.6 143,250.7 C146,250.9 149.5,251.6 151,253.5 C151.2,255.2 149.5,256.8 147.5,256.9 C145.5,257 143.5,257 142,257.4 C139.5,260 137.5,262.5 135.5,265 C133,268.5 130,272 127.5,274.5 C125,275.6 122.5,275 122,272 C121.7,266 121.7,260 121.9,254 Z" fill="#39a6ec" transform="translate(129.2 261) scale(0.82) translate(-129.2 -261)"/><path d="M121.9,254 C125,252.5 129,251.4 133,251.1 C137,250.8 140,250.6 143,250.7 C146,250.9 149.5,251.6 151,253.5 C151.2,255.2 149.5,256.8 147.5,256.9 C145.5,257 143.5,257 142,257.4 C139.5,260 137.5,262.5 135.5,265 C133,268.5 130,272 127.5,274.5 C125,275.6 122.5,275 122,272 C121.7,266 121.7,260 121.9,254 Z" fill="#58c070" transform="translate(129.2 261) scale(0.62) translate(-129.2 -261)"/><path d="M121.9,254 C125,252.5 129,251.4 133,251.1 C137,250.8 140,250.6 143,250.7 C146,250.9 149.5,251.6 151,253.5 C151.2,255.2 149.5,256.8 147.5,256.9 C145.5,257 143.5,257 142,257.4 C139.5,260 137.5,262.5 135.5,265 C133,268.5 130,272 127.5,274.5 C125,275.6 122.5,275 122,272 C121.7,266 121.7,260 121.9,254 Z" fill="#a8d03c" transform="translate(129.2 261) scale(0.34) translate(-129.2 -261)"/></g>
<g><circle cx="123.09" cy="254.02" r="0.38" fill="#2f55c8"/><circle cx="122.86" cy="253.83" r="0.35" fill="#2f55c8"/><circle cx="123.27" cy="253.83" r="0.56" fill="#6a4ab0"/><circle cx="123.73" cy="254.41" r="0.46" fill="#4a3aa8"/><circle cx="123.23" cy="252.81" r="0.35" fill="#2f55c8"/><circle cx="122.94" cy="252.92" r="0.43" fill="#4a3aa8"/><circle cx="124.87" cy="251.76" r="0.52" fill="#2f55c8"/><circle cx="124.17" cy="252.16" r="0.55" fill="#4a3aa8"/><circle cx="125.57" cy="252.83" r="0.37" fill="#2f55c8"/><circle cx="125.35" cy="252.81" r="0.44" fill="#4a3aa8"/><circle cx="128.02" cy="252.27" r="0.53" fill="#2a2a90"/><circle cx="126.83" cy="251.85" r="0.47" fill="#6a4ab0"/><circle cx="128.75" cy="251.50" r="0.41" fill="#4a3aa8"/><circle cx="128.61" cy="252.00" r="0.56" fill="#6a4ab0"/><circle cx="130.39" cy="251.55" r="0.56" fill="#2a2a90"/><circle cx="130.71" cy="250.84" r="0.58" fill="#4a3aa8"/><circle cx="131.53" cy="251.86" r="0.42" fill="#4a3aa8"/><circle cx="131.92" cy="250.44" r="0.39" fill="#2f55c8"/><circle cx="133.95" cy="250.47" r="0.49" fill="#6a4ab0"/><circle cx="132.00" cy="251.37" r="0.52" fill="#2f55c8"/><circle cx="135.28" cy="250.86" r="0.54" fill="#2a2a90"/><circle cx="135.32" cy="250.07" r="0.43" fill="#2a2a90"/><circle cx="136.27" cy="250.59" r="0.55" fill="#2a2a90"/><circle cx="134.37" cy="250.08" r="0.41" fill="#2a2a90"/><circle cx="137.46" cy="250.97" r="0.50" fill="#2a2a90"/><circle cx="135.83" cy="251.61" r="0.45" fill="#2f55c8"/><circle cx="138.03" cy="250.33" r="0.59" fill="#2a2a90"/><circle cx="137.93" cy="251.15" r="0.43" fill="#2a2a90"/><circle cx="139.78" cy="249.77" r="0.37" fill="#4a3aa8"/><circle cx="139.12" cy="251.26" r="0.42" fill="#6a4ab0"/><circle cx="139.46" cy="250.87" r="0.36" fill="#6a4ab0"/><circle cx="140.17" cy="250.21" r="0.42" fill="#2a2a90"/><circle cx="140.01" cy="250.71" r="0.44" fill="#2f55c8"/><circle cx="140.06" cy="250.70" r="0.48" fill="#2f55c8"/><circle cx="141.70" cy="250.47" r="0.57" fill="#2f55c8"/><circle cx="142.23" cy="250.91" r="0.41" fill="#6a4ab0"/><circle cx="144.06" cy="250.12" r="0.55" fill="#4a3aa8"/><circle cx="142.12" cy="250.81" r="0.38" fill="#2a2a90"/><circle cx="143.01" cy="251.66" r="0.39" fill="#2f55c8"/><circle cx="144.47" cy="251.82" r="0.45" fill="#4a3aa8"/><circle cx="145.56" cy="249.95" r="0.52" fill="#2a2a90"/><circle cx="144.29" cy="251.26" r="0.48" fill="#6a4ab0"/><circle cx="144.98" cy="250.35" r="0.59" fill="#6a4ab0"/><circle cx="146.52" cy="250.36" r="0.52" fill="#2f55c8"/><circle cx="146.84" cy="251.49" r="0.48" fill="#4a3aa8"/><circle cx="146.81" cy="250.46" r="0.48" fill="#2f55c8"/><circle cx="149.22" cy="251.53" r="0.56" fill="#4a3aa8"/><circle cx="148.47" cy="250.60" r="0.49" fill="#4a3aa8"/><circle cx="149.73" cy="252.88" r="0.42" fill="#6a4ab0"/><circle cx="148.87" cy="251.52" r="0.44" fill="#4a3aa8"/><circle cx="150.56" cy="252.81" r="0.39" fill="#4a3aa8"/><circle cx="150.67" cy="252.48" r="0.47" fill="#2a2a90"/><circle cx="150.49" cy="252.05" r="0.49" fill="#2f55c8"/><circle cx="151.56" cy="252.40" r="0.37" fill="#4a3aa8"/><circle cx="150.75" cy="252.33" r="0.46" fill="#6a4ab0"/><circle cx="150.92" cy="253.36" r="0.51" fill="#2a2a90"/><circle cx="150.02" cy="255.13" r="0.45" fill="#4a3aa8"/><circle cx="149.86" cy="253.10" r="0.53" fill="#2a2a90"/><circle cx="150.26" cy="254.09" r="0.59" fill="#2f55c8"/><circle cx="151.05" cy="253.48" r="0.56" fill="#2a2a90"/><circle cx="150.93" cy="255.32" r="0.57" fill="#6a4ab0"/><circle cx="150.75" cy="255.87" r="0.39" fill="#6a4ab0"/><circle cx="149.72" cy="255.34" r="0.40" fill="#2f55c8"/><circle cx="150.52" cy="256.60" r="0.55" fill="#2f55c8"/><circle cx="148.76" cy="256.00" r="0.48" fill="#2a2a90"/><circle cx="149.45" cy="256.50" r="0.58" fill="#2f55c8"/><circle cx="149.73" cy="257.40" r="0.54" fill="#6a4ab0"/><circle cx="149.22" cy="256.27" r="0.49" fill="#2a2a90"/><circle cx="149.22" cy="255.85" r="0.38" fill="#4a3aa8"/><circle cx="148.07" cy="255.93" r="0.52" fill="#4a3aa8"/><circle cx="149.23" cy="258.01" r="0.46" fill="#2a2a90"/><circle cx="148.47" cy="256.03" r="0.59" fill="#4a3aa8"/><circle cx="147.37" cy="255.86" r="0.36" fill="#6a4ab0"/><circle cx="148.08" cy="256.91" r="0.37" fill="#4a3aa8"/><circle cx="147.67" cy="257.60" r="0.50" fill="#4a3aa8"/><circle cx="146.45" cy="257.24" r="0.45" fill="#2a2a90"/><circle cx="146.52" cy="256.97" r="0.43" fill="#6a4ab0"/><circle cx="145.46" cy="256.56" r="0.35" fill="#2a2a90"/><circle cx="146.34" cy="257.83" r="0.56" fill="#6a4ab0"/><circle cx="145.99" cy="258.10" r="0.56" fill="#6a4ab0"/><circle cx="145.07" cy="255.85" r="0.45" fill="#2f55c8"/><circle cx="144.66" cy="258.12" r="0.47" fill="#6a4ab0"/><circle cx="143.30" cy="256.09" r="0.51" fill="#6a4ab0"/><circle cx="144.81" cy="257.78" r="0.50" fill="#2a2a90"/><circle cx="144.20" cy="257.04" r="0.54" fill="#2f55c8"/><circle cx="142.56" cy="258.02" r="0.52" fill="#2f55c8"/><circle cx="143.47" cy="255.99" r="0.47" fill="#4a3aa8"/><circle cx="142.71" cy="257.11" r="0.38" fill="#2a2a90"/><circle cx="142.11" cy="257.38" r="0.58" fill="#6a4ab0"/><circle cx="143.51" cy="257.44" r="0.60" fill="#2a2a90"/><circle cx="141.83" cy="258.32" r="0.51" fill="#4a3aa8"/><circle cx="142.30" cy="257.35" r="0.51" fill="#2a2a90"/><circle cx="141.68" cy="259.34" r="0.35" fill="#2f55c8"/><circle cx="141.69" cy="258.75" r="0.54" fill="#4a3aa8"/><circle cx="139.28" cy="259.48" r="0.55" fill="#4a3aa8"/><circle cx="140.96" cy="259.93" r="0.54" fill="#2f55c8"/><circle cx="139.92" cy="259.11" r="0.55" fill="#2a2a90"/><circle cx="139.04" cy="260.01" r="0.45" fill="#2f55c8"/><circle cx="138.09" cy="260.69" r="0.56" fill="#2f55c8"/><circle cx="139.96" cy="259.66" r="0.42" fill="#6a4ab0"/><circle cx="137.14" cy="260.75" r="0.56" fill="#2a2a90"/><circle cx="137.96" cy="261.77" r="0.58" fill="#2a2a90"/><circle cx="137.10" cy="261.47" r="0.44" fill="#2f55c8"/><circle cx="137.62" cy="261.39" r="0.57" fill="#6a4ab0"/><circle cx="136.86" cy="262.48" r="0.56" fill="#2a2a90"/><circle cx="136.16" cy="264.39" r="0.55" fill="#4a3aa8"/><circle cx="137.13" cy="263.10" r="0.58" fill="#2f55c8"/><circle cx="135.20" cy="264.81" r="0.54" fill="#2f55c8"/><circle cx="136.65" cy="264.11" r="0.40" fill="#6a4ab0"/><circle cx="135.94" cy="265.84" r="0.49" fill="#2f55c8"/><circle cx="135.38" cy="266.42" r="0.40" fill="#2f55c8"/><circle cx="135.58" cy="265.55" r="0.52" fill="#2a2a90"/><circle cx="133.05" cy="266.86" r="0.35" fill="#2f55c8"/><circle cx="132.81" cy="266.80" r="0.54" fill="#6a4ab0"/><circle cx="133.61" cy="268.56" r="0.46" fill="#2a2a90"/><circle cx="132.51" cy="269.37" r="0.39" fill="#2a2a90"/><circle cx="133.00" cy="268.39" r="0.58" fill="#6a4ab0"/><circle cx="130.96" cy="268.97" r="0.52" fill="#6a4ab0"/><circle cx="131.34" cy="269.74" r="0.45" fill="#4a3aa8"/><circle cx="130.42" cy="271.35" r="0.53" fill="#6a4ab0"/><circle cx="130.21" cy="272.18" r="0.38" fill="#6a4ab0"/><circle cx="129.09" cy="271.51" r="0.42" fill="#2a2a90"/><circle cx="128.54" cy="272.28" r="0.42" fill="#6a4ab0"/><circle cx="128.76" cy="272.99" r="0.37" fill="#2a2a90"/><circle cx="128.23" cy="273.79" r="0.57" fill="#2f55c8"/><circle cx="128.34" cy="273.38" r="0.41" fill="#4a3aa8"/><circle cx="127.53" cy="273.76" r="0.35" fill="#6a4ab0"/><circle cx="128.31" cy="275.61" r="0.44" fill="#2a2a90"/><circle cx="126.81" cy="275.34" r="0.37" fill="#6a4ab0"/><circle cx="127.05" cy="274.34" r="0.48" fill="#2f55c8"/><circle cx="125.43" cy="275.77" r="0.42" fill="#6a4ab0"/><circle cx="126.12" cy="275.26" r="0.39" fill="#2f55c8"/><circle cx="125.41" cy="275.90" r="0.45" fill="#2a2a90"/><circle cx="124.53" cy="275.09" r="0.47" fill="#4a3aa8"/><circle cx="124.17" cy="273.75" r="0.60" fill="#4a3aa8"/><circle cx="124.82" cy="275.34" r="0.37" fill="#4a3aa8"/><circle cx="123.22" cy="273.93" r="0.44" fill="#6a4ab0"/><circle cx="124.00" cy="274.32" r="0.38" fill="#2a2a90"/><circle cx="122.63" cy="273.30" r="0.54" fill="#6a4ab0"/><circle cx="123.48" cy="274.39" r="0.51" fill="#4a3aa8"/><circle cx="123.66" cy="273.87" r="0.49" fill="#6a4ab0"/><circle cx="122.20" cy="273.38" r="0.60" fill="#6a4ab0"/><circle cx="121.13" cy="272.91" r="0.48" fill="#2a2a90"/><circle cx="122.99" cy="271.85" r="0.42" fill="#2a2a90"/><circle cx="122.93" cy="271.37" r="0.55" fill="#6a4ab0"/><circle cx="122.96" cy="271.78" r="0.37" fill="#2a2a90"/><circle cx="121.13" cy="269.30" r="0.37" fill="#4a3aa8"/><circle cx="122.92" cy="270.77" r="0.43" fill="#2a2a90"/><circle cx="120.98" cy="267.58" r="0.46" fill="#2a2a90"/><circle cx="120.75" cy="267.97" r="0.36" fill="#6a4ab0"/><circle cx="122.10" cy="265.47" r="0.46" fill="#4a3aa8"/><circle cx="121.24" cy="265.92" r="0.39" fill="#6a4ab0"/><circle cx="122.84" cy="264.96" r="0.54" fill="#4a3aa8"/><circle cx="122.00" cy="264.37" r="0.45" fill="#2a2a90"/><circle cx="121.02" cy="263.14" r="0.52" fill="#4a3aa8"/><circle cx="122.09" cy="261.04" r="0.43" fill="#4a3aa8"/><circle cx="122.06" cy="259.57" r="0.35" fill="#6a4ab0"/><circle cx="122.45" cy="260.53" r="0.43" fill="#4a3aa8"/><circle cx="121.97" cy="257.33" r="0.40" fill="#2f55c8"/><circle cx="121.94" cy="257.95" r="0.44" fill="#6a4ab0"/><circle cx="120.84" cy="256.88" r="0.49" fill="#2a2a90"/><circle cx="122.05" cy="256.46" r="0.51" fill="#2f55c8"/><circle cx="121.89" cy="253.84" r="0.51" fill="#4a3aa8"/><circle cx="121.87" cy="252.89" r="0.54" fill="#4a3aa8"/><circle cx="121.48" cy="254.67" r="0.52" fill="#2f55c8"/><circle cx="122.30" cy="254.63" r="0.51" fill="#6a4ab0"/><circle cx="122.62" cy="254.30" r="0.56" fill="#2f55c8"/><circle cx="121.98" cy="254.23" r="0.53" fill="#4a3aa8"/><circle cx="123.07" cy="253.76" r="0.36" fill="#2f55c8"/><circle cx="121.54" cy="254.55" r="0.49" fill="#4a3aa8"/><circle cx="121.69" cy="253.48" r="0.44" fill="#4a3aa8"/><circle cx="123.01" cy="253.53" r="0.54" fill="#6a4ab0"/><circle cx="121.35" cy="254.92" r="0.58" fill="#2f55c8"/><circle cx="122.54" cy="254.43" r="0.58" fill="#2f55c8"/><circle cx="121.31" cy="255.08" r="0.59" fill="#2a2a90"/><circle cx="121.23" cy="253.35" r="0.54" fill="#6a4ab0"/><circle cx="121.33" cy="253.62" r="0.53" fill="#2f55c8"/><circle cx="121.38" cy="254.03" r="0.59" fill="#4a3aa8"/><circle cx="121.21" cy="253.08" r="0.44" fill="#2a2a90"/><circle cx="121.92" cy="253.83" r="0.37" fill="#6a4ab0"/></g>
<g filter="url(#bl05)"><path d="M121.6,285 C123,283.8 127.5,283.6 128.6,286 C129,289 127.6,291.2 125,291.3 C122.4,291.3 121.2,289 121.6,285 Z" fill="#3058cc"/><path d="M121.6,285 C123,283.8 127.5,283.6 128.6,286 C129,289 127.6,291.2 125,291.3 C122.4,291.3 121.2,289 121.6,285 Z" fill="#3aa0e8" transform="translate(125 287.5) scale(0.6) translate(-125 -287.5)"/></g>
<g><circle cx="121.60" cy="284.68" r="0.48" fill="#2a2a90"/><circle cx="121.22" cy="286.00" r="0.55" fill="#4a3aa8"/><circle cx="121.75" cy="284.43" r="0.38" fill="#2f55c8"/><circle cx="122.07" cy="283.88" r="0.58" fill="#4a3aa8"/><circle cx="120.93" cy="285.18" r="0.41" fill="#6a4ab0"/><circle cx="121.70" cy="284.69" r="0.52" fill="#4a3aa8"/><circle cx="122.73" cy="283.92" r="0.48" fill="#6a4ab0"/><circle cx="121.58" cy="285.08" r="0.36" fill="#2f55c8"/><circle cx="122.27" cy="284.42" r="0.48" fill="#4a3aa8"/><circle cx="123.72" cy="284.77" r="0.48" fill="#4a3aa8"/><circle cx="123.83" cy="283.46" r="0.40" fill="#2f55c8"/><circle cx="122.89" cy="285.39" r="0.43" fill="#6a4ab0"/><circle cx="122.60" cy="284.93" r="0.35" fill="#6a4ab0"/><circle cx="124.24" cy="283.55" r="0.49" fill="#2a2a90"/><circle cx="124.12" cy="284.11" r="0.59" fill="#4a3aa8"/><circle cx="123.91" cy="283.25" r="0.59" fill="#2a2a90"/><circle cx="123.30" cy="284.31" r="0.51" fill="#2f55c8"/><circle cx="124.49" cy="283.95" r="0.54" fill="#2a2a90"/><circle cx="123.94" cy="284.44" r="0.55" fill="#6a4ab0"/><circle cx="124.36" cy="284.89" r="0.43" fill="#2a2a90"/><circle cx="124.07" cy="283.36" r="0.40" fill="#2f55c8"/><circle cx="125.25" cy="283.95" r="0.59" fill="#2a2a90"/><circle cx="126.31" cy="283.15" r="0.53" fill="#2a2a90"/><circle cx="125.47" cy="282.99" r="0.58" fill="#6a4ab0"/><circle cx="126.66" cy="284.57" r="0.41" fill="#2a2a90"/><circle cx="125.39" cy="284.35" r="0.48" fill="#2f55c8"/><circle cx="125.12" cy="285.44" r="0.53" fill="#4a3aa8"/><circle cx="125.37" cy="283.12" r="0.51" fill="#2f55c8"/><circle cx="125.48" cy="284.13" r="0.59" fill="#2a2a90"/><circle cx="126.21" cy="284.81" r="0.48" fill="#2a2a90"/><circle cx="126.72" cy="284.65" r="0.56" fill="#2a2a90"/><circle cx="126.50" cy="283.57" r="0.54" fill="#4a3aa8"/><circle cx="126.22" cy="284.61" r="0.55" fill="#4a3aa8"/><circle cx="127.08" cy="285.62" r="0.42" fill="#2a2a90"/><circle cx="126.77" cy="284.65" r="0.51" fill="#2a2a90"/><circle cx="128.34" cy="284.78" r="0.48" fill="#4a3aa8"/><circle cx="126.83" cy="283.96" r="0.41" fill="#4a3aa8"/><circle cx="126.80" cy="284.74" r="0.36" fill="#6a4ab0"/><circle cx="127.94" cy="286.07" r="0.52" fill="#4a3aa8"/><circle cx="128.60" cy="284.68" r="0.53" fill="#4a3aa8"/><circle cx="127.36" cy="285.84" r="0.47" fill="#6a4ab0"/><circle cx="127.42" cy="285.03" r="0.56" fill="#2f55c8"/><circle cx="129.58" cy="284.77" r="0.40" fill="#2a2a90"/><circle cx="127.51" cy="286.28" r="0.43" fill="#4a3aa8"/><circle cx="129.61" cy="286.36" r="0.51" fill="#2a2a90"/><circle cx="128.59" cy="286.62" r="0.49" fill="#4a3aa8"/><circle cx="128.23" cy="286.71" r="0.37" fill="#4a3aa8"/><circle cx="128.79" cy="286.07" r="0.45" fill="#6a4ab0"/><circle cx="128.09" cy="286.31" r="0.50" fill="#6a4ab0"/><circle cx="127.51" cy="287.33" r="0.45" fill="#6a4ab0"/><circle cx="127.88" cy="286.27" r="0.36" fill="#2a2a90"/><circle cx="127.83" cy="286.10" r="0.53" fill="#6a4ab0"/><circle cx="129.06" cy="288.53" r="0.58" fill="#4a3aa8"/><circle cx="129.45" cy="286.93" r="0.41" fill="#6a4ab0"/><circle cx="128.47" cy="286.99" r="0.40" fill="#2f55c8"/><circle cx="127.68" cy="288.13" r="0.60" fill="#6a4ab0"/><circle cx="129.53" cy="289.37" r="0.46" fill="#4a3aa8"/><circle cx="127.50" cy="288.99" r="0.52" fill="#6a4ab0"/><circle cx="129.15" cy="289.63" r="0.54" fill="#4a3aa8"/><circle cx="127.49" cy="288.79" r="0.46" fill="#4a3aa8"/><circle cx="128.36" cy="289.42" r="0.60" fill="#4a3aa8"/><circle cx="128.21" cy="288.21" r="0.57" fill="#2a2a90"/><circle cx="128.08" cy="289.94" r="0.40" fill="#2f55c8"/><circle cx="129.35" cy="289.74" r="0.37" fill="#2a2a90"/><circle cx="127.15" cy="289.26" r="0.51" fill="#2f55c8"/><circle cx="128.91" cy="289.35" r="0.43" fill="#4a3aa8"/><circle cx="127.14" cy="289.27" r="0.50" fill="#2f55c8"/><circle cx="127.34" cy="289.94" r="0.42" fill="#4a3aa8"/><circle cx="127.25" cy="290.47" r="0.40" fill="#4a3aa8"/><circle cx="127.96" cy="289.85" r="0.57" fill="#2f55c8"/><circle cx="126.76" cy="290.98" r="0.43" fill="#6a4ab0"/><circle cx="128.70" cy="289.38" r="0.44" fill="#2a2a90"/><circle cx="127.15" cy="291.43" r="0.41" fill="#2f55c8"/><circle cx="127.77" cy="290.14" r="0.42" fill="#4a3aa8"/><circle cx="126.21" cy="291.60" r="0.60" fill="#6a4ab0"/><circle cx="127.13" cy="290.84" r="0.38" fill="#2f55c8"/><circle cx="128.01" cy="291.42" r="0.42" fill="#6a4ab0"/><circle cx="126.09" cy="291.88" r="0.37" fill="#2a2a90"/><circle cx="127.35" cy="291.04" r="0.43" fill="#4a3aa8"/><circle cx="127.75" cy="291.70" r="0.55" fill="#2a2a90"/><circle cx="126.77" cy="291.97" r="0.51" fill="#2a2a90"/><circle cx="126.47" cy="289.90" r="0.49" fill="#2a2a90"/><circle cx="126.77" cy="291.35" r="0.46" fill="#4a3aa8"/><circle cx="125.97" cy="291.25" r="0.55" fill="#6a4ab0"/><circle cx="124.59" cy="292.38" r="0.41" fill="#2a2a90"/><circle cx="125.43" cy="291.89" r="0.55" fill="#2f55c8"/><circle cx="125.85" cy="291.86" r="0.59" fill="#2f55c8"/><circle cx="124.82" cy="290.73" r="0.37" fill="#2a2a90"/><circle cx="124.00" cy="291.02" r="0.49" fill="#6a4ab0"/><circle cx="124.62" cy="290.75" r="0.51" fill="#2f55c8"/><circle cx="123.89" cy="292.18" r="0.38" fill="#4a3aa8"/><circle cx="123.53" cy="290.97" r="0.48" fill="#4a3aa8"/><circle cx="124.45" cy="291.79" r="0.57" fill="#6a4ab0"/><circle cx="123.52" cy="290.94" r="0.37" fill="#2f55c8"/><circle cx="124.82" cy="290.03" r="0.37" fill="#4a3aa8"/><circle cx="123.12" cy="290.68" r="0.56" fill="#2a2a90"/><circle cx="123.74" cy="290.25" r="0.57" fill="#4a3aa8"/><circle cx="123.82" cy="290.58" r="0.39" fill="#6a4ab0"/><circle cx="122.64" cy="290.72" r="0.38" fill="#6a4ab0"/><circle cx="122.57" cy="290.53" r="0.41" fill="#2f55c8"/><circle cx="123.91" cy="289.81" r="0.43" fill="#6a4ab0"/><circle cx="124.06" cy="291.81" r="0.54" fill="#2a2a90"/><circle cx="123.11" cy="290.88" r="0.39" fill="#2f55c8"/><circle cx="122.52" cy="290.40" r="0.48" fill="#2a2a90"/><circle cx="121.96" cy="291.47" r="0.46" fill="#2f55c8"/><circle cx="122.29" cy="289.57" r="0.54" fill="#2a2a90"/><circle cx="122.22" cy="289.81" r="0.39" fill="#6a4ab0"/><circle cx="122.43" cy="290.94" r="0.43" fill="#2f55c8"/><circle cx="122.84" cy="288.97" r="0.43" fill="#2a2a90"/><circle cx="121.99" cy="290.39" r="0.45" fill="#2f55c8"/><circle cx="122.80" cy="289.78" r="0.44" fill="#2f55c8"/><circle cx="121.31" cy="288.62" r="0.57" fill="#2a2a90"/><circle cx="122.49" cy="289.72" r="0.46" fill="#2a2a90"/><circle cx="122.77" cy="289.41" r="0.49" fill="#4a3aa8"/><circle cx="121.68" cy="289.15" r="0.37" fill="#4a3aa8"/><circle cx="120.95" cy="288.15" r="0.52" fill="#2a2a90"/><circle cx="122.82" cy="287.58" r="0.35" fill="#4a3aa8"/><circle cx="122.40" cy="289.69" r="0.44" fill="#4a3aa8"/><circle cx="120.87" cy="288.35" r="0.58" fill="#6a4ab0"/><circle cx="122.82" cy="289.02" r="0.35" fill="#4a3aa8"/><circle cx="122.06" cy="287.41" r="0.53" fill="#6a4ab0"/><circle cx="122.64" cy="286.76" r="0.46" fill="#4a3aa8"/><circle cx="122.02" cy="287.34" r="0.49" fill="#2f55c8"/><circle cx="122.68" cy="286.27" r="0.57" fill="#6a4ab0"/><circle cx="121.66" cy="287.13" r="0.35" fill="#6a4ab0"/><circle cx="122.05" cy="287.79" r="0.44" fill="#2a2a90"/><circle cx="121.88" cy="285.45" r="0.38" fill="#2a2a90"/><circle cx="120.54" cy="286.30" r="0.41" fill="#6a4ab0"/><circle cx="121.88" cy="285.92" r="0.48" fill="#6a4ab0"/><circle cx="121.72" cy="286.12" r="0.48" fill="#6a4ab0"/><circle cx="122.70" cy="286.63" r="0.53" fill="#6a4ab0"/><circle cx="120.54" cy="284.63" r="0.44" fill="#4a3aa8"/><circle cx="121.70" cy="286.01" r="0.52" fill="#4a3aa8"/><circle cx="122.70" cy="284.33" r="0.41" fill="#2a2a90"/><circle cx="121.36" cy="284.49" r="0.35" fill="#6a4ab0"/><circle cx="121.12" cy="285.42" r="0.49" fill="#2f55c8"/><circle cx="122.23" cy="285.18" r="0.51" fill="#4a3aa8"/><circle cx="121.53" cy="284.91" r="0.42" fill="#2a2a90"/><circle cx="120.63" cy="286.07" r="0.43" fill="#2a2a90"/><circle cx="122.45" cy="285.76" r="0.47" fill="#4a3aa8"/><circle cx="120.95" cy="284.69" r="0.50" fill="#2a2a90"/><circle cx="121.19" cy="285.20" r="0.58" fill="#6a4ab0"/><circle cx="121.83" cy="284.07" r="0.56" fill="#2f55c8"/><circle cx="121.19" cy="285.52" r="0.55" fill="#4a3aa8"/><circle cx="120.82" cy="286.12" r="0.50" fill="#2a2a90"/><circle cx="121.51" cy="286.16" r="0.43" fill="#4a3aa8"/><circle cx="122.65" cy="284.05" r="0.44" fill="#6a4ab0"/><circle cx="121.68" cy="286.10" r="0.41" fill="#2a2a90"/><circle cx="120.58" cy="285.08" r="0.52" fill="#2f55c8"/><circle cx="120.57" cy="285.13" r="0.53" fill="#6a4ab0"/><circle cx="122.50" cy="284.42" r="0.56" fill="#2a2a90"/><circle cx="121.23" cy="283.86" r="0.42" fill="#2a2a90"/><circle cx="121.28" cy="285.20" r="0.41" fill="#6a4ab0"/><circle cx="120.63" cy="286.01" r="0.37" fill="#2f55c8"/><circle cx="121.24" cy="284.14" r="0.37" fill="#6a4ab0"/><circle cx="121.48" cy="284.37" r="0.39" fill="#2f55c8"/><circle cx="122.65" cy="284.62" r="0.55" fill="#6a4ab0"/><circle cx="122.01" cy="285.82" r="0.45" fill="#4a3aa8"/><circle cx="120.60" cy="286.15" r="0.49" fill="#2a2a90"/><circle cx="120.75" cy="286.01" r="0.46" fill="#4a3aa8"/><circle cx="121.38" cy="285.83" r="0.42" fill="#4a3aa8"/><circle cx="120.41" cy="284.02" r="0.53" fill="#4a3aa8"/><circle cx="120.71" cy="284.86" r="0.50" fill="#4a3aa8"/><circle cx="122.11" cy="286.16" r="0.36" fill="#2f55c8"/><circle cx="121.17" cy="283.94" r="0.42" fill="#4a3aa8"/><circle cx="121.81" cy="286.15" r="0.40" fill="#2a2a90"/><circle cx="121.93" cy="284.35" r="0.41" fill="#2a2a90"/><circle cx="121.45" cy="286.17" r="0.43" fill="#2f55c8"/><circle cx="122.79" cy="286.04" r="0.55" fill="#6a4ab0"/><circle cx="122.08" cy="284.58" r="0.55" fill="#4a3aa8"/><circle cx="121.68" cy="285.43" r="0.37" fill="#6a4ab0"/><circle cx="120.65" cy="285.59" r="0.52" fill="#2f55c8"/><circle cx="122.45" cy="284.00" r="0.52" fill="#6a4ab0"/><circle cx="121.53" cy="284.93" r="0.52" fill="#6a4ab0"/><circle cx="121.59" cy="286.03" r="0.42" fill="#2a2a90"/><circle cx="122.55" cy="286.19" r="0.49" fill="#2f55c8"/></g>
<circle cx="123" cy="277" r="0.45" fill="#6878d4"/>
<circle cx="125" cy="278.5" r="0.45" fill="#6878d4"/>
<circle cx="124" cy="280.5" r="0.45" fill="#6878d4"/>
<circle cx="127" cy="279" r="0.45" fill="#6878d4"/>
<circle cx="126" cy="282" r="0.45" fill="#6878d4"/>
<circle cx="123.5" cy="282.5" r="0.45" fill="#6878d4"/>
<circle cx="128" cy="277.5" r="0.45" fill="#6878d4"/>
<circle cx="145" cy="258.5" r="0.45" fill="#6878d4"/>
<circle cx="148" cy="258" r="0.45" fill="#6878d4"/>
<circle cx="140" cy="260" r="0.45" fill="#6878d4"/>
<ellipse cx="151.4" cy="254.3" rx="9.3" ry="8.0" fill="none" stroke="#e04a5a" stroke-width="0.9" filter="url(#bl03)"/>
<line x1="168.50" y1="267.40" x2="163.20" y2="261.60" stroke="#e03a4a" stroke-width="1.0"/>
<path d="M161.8,260.2 L165.0,261.2 L163.0,263.4 Z" fill="#e03a4a" stroke="none" stroke-width="1"/>
<text x="77.00" y="320.20" font-size="7.8" textLength="7.50" lengthAdjust="spacingAndGlyphs" stroke="#161616" stroke-width="0.42">E2</text>
<text x="125.50" y="320.20" font-size="7.8" textLength="7.50" lengthAdjust="spacingAndGlyphs" stroke="#161616" stroke-width="0.42">E3</text>
<text x="44.50" y="330.80" font-size="7.8" textLength="10.50" lengthAdjust="spacingAndGlyphs" stroke="#161616" stroke-width="0.42">WT</text>
<text x="60.80" y="330.80" font-size="7.8" textLength="36.70" lengthAdjust="spacingAndGlyphs" stroke="#161616" stroke-width="0.42">42.01±9.36</text>
<text x="108.00" y="330.80" font-size="7.8" textLength="37.00" lengthAdjust="spacingAndGlyphs" stroke="#161616" stroke-width="0.42">27.10±4.65</text>
<text x="44.50" y="340.00" font-size="7.8" textLength="9.50" lengthAdjust="spacingAndGlyphs" stroke="#161616" stroke-width="0.42">TG</text>
<text x="60.80" y="340.00" font-size="7.8" textLength="33.00" lengthAdjust="spacingAndGlyphs" stroke="#161616" stroke-width="0.42">31.8±6.71</text>
<text x="94.40" y="338.60" font-size="7.2" fill="#e83030" stroke="#e83030" stroke-width="0.42">*</text>
<text x="108.00" y="340.00" font-size="7.8" textLength="35.70" lengthAdjust="spacingAndGlyphs" stroke="#161616" stroke-width="0.42">15.34±2.41</text>
<text x="144.00" y="338.60" font-size="7.2" textLength="8.80" lengthAdjust="spacingAndGlyphs" fill="#e83030" stroke="#e83030" stroke-width="0.42">***</text>
<text x="45.00" y="352.60" font-size="7.2" fill="#e83030" stroke="#e83030" stroke-width="0.42">*</text>
<text x="53.70" y="354.20" font-size="7.8" stroke="#161616" stroke-width="0.42" textLength="25.0" lengthAdjust="spacingAndGlyphs"><tspan font-style="italic">P</tspan> &lt; .05,</text>
<text x="82.00" y="352.60" font-size="7.2" textLength="9.00" lengthAdjust="spacingAndGlyphs" fill="#e83030" stroke="#e83030" stroke-width="0.42">***</text>
<text x="93.70" y="354.20" font-size="7.8" stroke="#161616" stroke-width="0.42" textLength="31.3" lengthAdjust="spacingAndGlyphs"><tspan font-style="italic">P</tspan> &lt; .0001</text>
<text x="-0.20" y="376.70" font-size="11.2" font-weight="bold" fill="#000" stroke="#000" stroke-width="0.42">E</text>
<line x1="21.70" y1="383.50" x2="21.70" y2="457.80" stroke="#161616" stroke-width="1.3"/>
<line x1="21.10" y1="457.80" x2="88.00" y2="457.80" stroke="#161616" stroke-width="1.3"/>
<line x1="18.40" y1="457.80" x2="21.70" y2="457.80" stroke="#161616" stroke-width="1.2"/>
<text x="18.30" y="460.60" font-size="8.0" text-anchor="end" stroke="#161616" stroke-width="0.42">0</text>
<line x1="18.40" y1="421.40" x2="21.70" y2="421.40" stroke="#161616" stroke-width="1.2"/>
<text x="18.30" y="424.20" font-size="8.0" text-anchor="end" stroke="#161616" stroke-width="0.42">20</text>
<line x1="18.40" y1="385.00" x2="21.70" y2="385.00" stroke="#161616" stroke-width="1.2"/>
<text x="18.30" y="387.80" font-size="8.0" text-anchor="end" stroke="#161616" stroke-width="0.42">40</text>
<text x="6.90" y="420.70" font-size="8.0" text-anchor="middle" textLength="70.00" lengthAdjust="spacingAndGlyphs" stroke="#161616" stroke-width="0.42" transform="rotate(-90 6.90 420.70)">Annexin V positive, %</text>
<line x1="30.00" y1="395.40" x2="30.00" y2="398.30" stroke="#161616" stroke-width="1.1"/>
<line x1="27.80" y1="395.40" x2="32.20" y2="395.40" stroke="#161616" stroke-width="1.1"/>
<rect x="26.60" y="398.30" width="6.80" height="59.50" fill="#161616" stroke="#161616" stroke-width="1.1"/>
<line x1="41.10" y1="407.20" x2="41.10" y2="409.60" stroke="#161616" stroke-width="1.1"/>
<line x1="38.90" y1="407.20" x2="43.30" y2="407.20" stroke="#161616" stroke-width="1.1"/>
<rect x="37.90" y="409.60" width="6.40" height="48.20" fill="#fff" stroke="#161616" stroke-width="1.1"/>
<line x1="64.55" y1="402.20" x2="64.55" y2="407.40" stroke="#161616" stroke-width="1.1"/>
<line x1="62.35" y1="402.20" x2="66.75" y2="402.20" stroke="#161616" stroke-width="1.1"/>
<rect x="61.30" y="407.40" width="6.50" height="50.40" fill="#161616" stroke="#161616" stroke-width="1.1"/>
<line x1="75.85" y1="399.00" x2="75.85" y2="406.10" stroke="#161616" stroke-width="1.1"/>
<line x1="73.65" y1="399.00" x2="78.05" y2="399.00" stroke="#161616" stroke-width="1.1"/>
<rect x="72.40" y="406.10" width="6.90" height="51.70" fill="#fff" stroke="#161616" stroke-width="1.1"/>
<text x="27.70" y="393.60" font-size="7" fill="#e02a2a" stroke="#e02a2a" stroke-width="0.42">*</text>
<line x1="42.80" y1="376.60" x2="37.40" y2="386.40" stroke="#e8502a" stroke-width="1.3"/>
<path d="M35.5,389.8 L35.6,384.9 L39.3,387.0 Z" fill="#e8502a" stroke="none" stroke-width="1"/>
<text x="35.70" y="396.80" font-size="5.9" textLength="20.60" lengthAdjust="spacingAndGlyphs" fill="#2a2f36" stroke="#2a2f36" stroke-width="0.42">P=0.002</text>
<rect x="47.90" y="377.60" width="9.20" height="3.40" fill="#161616"/>
<rect x="48.40" y="385.20" width="8.40" height="2.80" fill="#fff" stroke="#161616" stroke-width="1"/>
<text x="59.30" y="381.60" font-size="8.0" textLength="34.30" lengthAdjust="spacingAndGlyphs" stroke="#161616" stroke-width="0.42">DAPK2-TG</text>
<text x="59.30" y="389.40" font-size="8.0" textLength="10.00" lengthAdjust="spacingAndGlyphs" stroke="#161616" stroke-width="0.42">WT</text>
<text stroke="#161616" stroke-width="0.42" x="23.40" y="470.0" font-size="8.0">Kit<tspan dy="-4.6" font-size="6.2">neg</tspan></text>
<text stroke="#161616" stroke-width="0.42" x="18.80" y="479.8" font-size="8.0">CD71<tspan dy="-4.6" font-size="6.2">high</tspan></text>
<text stroke="#161616" stroke-width="0.42" x="17.20" y="488.8" font-size="8.0">Ter119<tspan dy="-4.6" font-size="6.2">neg</tspan></text>
<text stroke="#161616" stroke-width="0.42" x="59.60" y="470.0" font-size="8.0">Kit<tspan dy="-4.6" font-size="6.2">neg</tspan></text>
<text stroke="#161616" stroke-width="0.42" x="55.00" y="479.8" font-size="8.0">CD71<tspan dy="-4.6" font-size="6.2">high</tspan></text>
<text stroke="#161616" stroke-width="0.42" x="53.40" y="488.8" font-size="8.0">Ter119<tspan dy="-4.6" font-size="6.2">pos</tspan></text>
<line x1="130.20" y1="384.50" x2="130.20" y2="457.70" stroke="#161616" stroke-width="1.3"/>
<line x1="129.60" y1="457.70" x2="191.00" y2="457.70" stroke="#161616" stroke-width="1.3"/>
<line x1="126.80" y1="457.70" x2="130.20" y2="457.70" stroke="#161616" stroke-width="1.2"/>
<text x="126.50" y="460.50" font-size="8.0" text-anchor="end" stroke="#161616" stroke-width="0.42">0</text>
<line x1="126.80" y1="422.40" x2="130.20" y2="422.40" stroke="#161616" stroke-width="1.2"/>
<text x="126.50" y="425.20" font-size="8.0" text-anchor="end" stroke="#161616" stroke-width="0.42">50</text>
<line x1="126.80" y1="387.10" x2="130.20" y2="387.10" stroke="#161616" stroke-width="1.2"/>
<text x="126.50" y="389.90" font-size="8.0" text-anchor="end" stroke="#161616" stroke-width="0.42">100</text>
<line x1="136.60" y1="457.70" x2="136.60" y2="461.20" stroke="#161616" stroke-width="1.2"/>
<text x="136.60" y="469.40" font-size="7.6" text-anchor="middle" stroke="#161616" stroke-width="0.42">0</text>
<line x1="161.50" y1="457.70" x2="161.50" y2="461.20" stroke="#161616" stroke-width="1.2"/>
<text x="161.50" y="469.40" font-size="7.6" text-anchor="middle" stroke="#161616" stroke-width="0.42">0.06</text>
<line x1="186.30" y1="457.70" x2="186.30" y2="461.20" stroke="#161616" stroke-width="1.2"/>
<text x="186.30" y="469.40" font-size="7.6" text-anchor="middle" stroke="#161616" stroke-width="0.42">0.12</text>
<text x="160.50" y="478.00" font-size="7.8" text-anchor="middle" textLength="34.00" lengthAdjust="spacingAndGlyphs" stroke="#161616" stroke-width="0.42">EPO, U/mL</text>
<text x="113.20" y="425.70" font-size="8.0" text-anchor="middle" textLength="69.00" lengthAdjust="spacingAndGlyphs" stroke="#161616" stroke-width="0.42" transform="rotate(-90 113.20 425.70)">Annexin V positive, %</text>
<text stroke="#161616" stroke-width="0.42" y="383.4" font-size="8.0"><tspan x="119.6">Kit</tspan><tspan x="128.6" dy="-4.9" font-size="6.3">neg</tspan><tspan x="138.6" dy="4.9">CD71</tspan><tspan x="157.0" dy="-4.9" font-size="6.3">high</tspan><tspan x="168.5" dy="4.9" textLength="24" lengthAdjust="spacingAndGlyphs">Ter119</tspan><tspan x="193.2" dy="-4.9" font-size="6.3">neg</tspan></text>
<path d="M136.60,392.50 L161.50,432.70 L186.30,442.40" fill="none" stroke="#161616" stroke-width="1.2"/>
<circle cx="136.60" cy="392.50" r="2.3" fill="#fff" stroke="#161616" stroke-width="1.2"/>
<circle cx="161.50" cy="432.70" r="2.3" fill="#fff" stroke="#161616" stroke-width="1.2"/>
<circle cx="186.30" cy="442.40" r="2.3" fill="#fff" stroke="#161616" stroke-width="1.2"/>
<path d="M136.60,391.40 L161.50,423.30 L186.30,428.10" fill="none" stroke="#161616" stroke-width="1.2"/>
<circle cx="136.60" cy="391.40" r="2.5" fill="#161616" stroke="#161616" stroke-width="1.2"/>
<circle cx="161.50" cy="423.30" r="2.5" fill="#161616" stroke="#161616" stroke-width="1.2"/>
<circle cx="186.30" cy="428.10" r="2.5" fill="#161616" stroke="#161616" stroke-width="1.2"/>
<circle cx="136.6" cy="390.6" r="2.9" fill="#161616"/>
<line x1="170.00" y1="393.50" x2="181.50" y2="393.50" stroke="#161616" stroke-width="1.2"/>
<circle cx="176.20" cy="393.50" r="2.1" fill="#161616" stroke="#161616" stroke-width="1"/>
<text x="183.30" y="395.80" font-size="7.6" textLength="9.00" lengthAdjust="spacingAndGlyphs" stroke="#161616" stroke-width="0.42">TG</text>
<line x1="170.00" y1="402.60" x2="181.50" y2="402.60" stroke="#161616" stroke-width="1.2"/>
<circle cx="176.20" cy="402.60" r="1.8" fill="#fff" stroke="#161616" stroke-width="1.1"/>
<text x="183.30" y="404.80" font-size="7.6" textLength="11.30" lengthAdjust="spacingAndGlyphs" stroke="#161616" stroke-width="0.42">WT</text>
<line x1="161.50" y1="407.00" x2="161.50" y2="415.80" stroke="#e05050" stroke-width="1.3"/>
<path d="M159.50,414.80 L163.50,414.80 L161.50,418.80 Z" fill="#e05050" stroke="none" stroke-width="1"/>
<line x1="186.30" y1="411.00" x2="186.30" y2="419.60" stroke="#e05050" stroke-width="1.3"/>
<path d="M184.30,418.60 L188.30,418.60 L186.30,422.60 Z" fill="#e05050" stroke="none" stroke-width="1"/>
<text x="216.00" y="140.30" font-size="11.2" font-weight="bold" fill="#000" stroke="#000" stroke-width="0.42">F</text>
<text x="235.00" y="148.30" font-size="7.0" textLength="117.00" lengthAdjust="spacingAndGlyphs" stroke="#161616" stroke-width="0.42">sense: 5'-GAGATGGGCCCAAGGAATT-3'</text>
<text x="235.00" y="157.00" font-size="7.0" textLength="121.90" lengthAdjust="spacingAndGlyphs" stroke="#161616" stroke-width="0.42">antisense: 5'-AATTCCTTGGGCCCATCTC-3'</text>
<line x1="231.30" y1="171.60" x2="362.60" y2="171.60" stroke="#161616" stroke-width="1.3"/>
<rect x="236.90" y="166.20" width="16.80" height="10.60" fill="#fff" stroke="#161616" stroke-width="1.3"/>
<rect x="258.00" y="166.20" width="5.80" height="10.60" fill="#fff" stroke="#161616" stroke-width="1.3"/>
<rect x="268.30" y="166.20" width="6.20" height="10.60" fill="#fff" stroke="#161616" stroke-width="1.3"/>
<rect x="278.90" y="166.20" width="16.90" height="10.60" fill="#fff" stroke="#161616" stroke-width="1.3"/>
<rect x="299.60" y="166.20" width="17.10" height="10.60" fill="#fff" stroke="#161616" stroke-width="1.3"/>
<rect x="320.30" y="166.20" width="17.10" height="10.60" fill="#fff" stroke="#161616" stroke-width="1.3"/>
<rect x="341.60" y="166.20" width="16.80" height="10.60" fill="#fff" stroke="#161616" stroke-width="1.3"/>
<path d="M265.3,161.2 L271.3,164.8 L276.9,160.6" fill="none" stroke="#161616" stroke-width="1.3"/>
<text x="236.20" y="187.10" font-size="7.5" textLength="15.10" lengthAdjust="spacingAndGlyphs" stroke="#161616" stroke-width="0.42">5'LTR</text>
<text x="255.90" y="187.10" font-size="7.5" textLength="8.10" lengthAdjust="spacingAndGlyphs" stroke="#161616" stroke-width="0.42">U6</text>
<text x="278.70" y="187.10" font-size="7.5" textLength="14.80" lengthAdjust="spacingAndGlyphs" stroke="#161616" stroke-width="0.42">MND</text>
<text x="302.20" y="187.10" font-size="7.5" textLength="12.70" lengthAdjust="spacingAndGlyphs" stroke="#161616" stroke-width="0.42">IRES</text>
<text x="321.30" y="187.10" font-size="7.5" textLength="15.70" lengthAdjust="spacingAndGlyphs" stroke="#161616" stroke-width="0.42">EGFP</text>
<text x="341.40" y="187.10" font-size="7.5" textLength="15.50" lengthAdjust="spacingAndGlyphs" stroke="#161616" stroke-width="0.42">3'LTR</text>
<text x="260.60" y="201.90" font-size="8.8" textLength="73.10" lengthAdjust="spacingAndGlyphs" stroke="#161616" stroke-width="0.42">CGW-DAPK2-siRNA</text>
<text x="236.70" y="219.60" font-size="8.0" textLength="12.80" lengthAdjust="spacingAndGlyphs" stroke="#161616" stroke-width="0.42">48K</text>
<text x="236.70" y="232.20" font-size="8.0" textLength="12.80" lengthAdjust="spacingAndGlyphs" stroke="#161616" stroke-width="0.42">37K</text>
<text x="236.70" y="241.60" font-size="8.0" textLength="12.80" lengthAdjust="spacingAndGlyphs" stroke="#161616" stroke-width="0.42">37K</text>
<text x="236.70" y="254.60" font-size="8.0" textLength="12.80" lengthAdjust="spacingAndGlyphs" stroke="#161616" stroke-width="0.42">25K</text>
<line x1="254.00" y1="216.80" x2="260.70" y2="216.80" stroke="#161616" stroke-width="1.3"/>
<line x1="254.00" y1="229.80" x2="260.70" y2="229.80" stroke="#161616" stroke-width="1.3"/>
<line x1="254.00" y1="239.20" x2="260.70" y2="239.20" stroke="#161616" stroke-width="1.3"/>
<line x1="254.00" y1="252.10" x2="260.70" y2="252.10" stroke="#161616" stroke-width="1.3"/>
<rect x="266.5" y="224.4" width="22.6" height="1.7" rx="0.8" fill="#a8a8a8" filter="url(#bl05)"/>
<g filter="url(#bl05)" fill="#4a4a4a"><rect x="294.80" y="223.39" width="22.20" height="2.02" rx="1.01"/><rect x="296.46" y="223.00" width="18.87" height="2.80" rx="1.40"/></g>
<g filter="url(#bl05)" fill="#2e2e2e"><rect x="266.00" y="237.47" width="27.00" height="3.46" rx="1.73"/><rect x="267.35" y="236.80" width="24.30" height="4.80" rx="2.40"/></g>
<g filter="url(#bl05)" fill="#2e2e2e"><rect x="292.40" y="237.47" width="26.80" height="3.46" rx="1.73"/><rect x="293.74" y="236.80" width="24.12" height="4.80" rx="2.40"/></g>
<line x1="321.50" y1="224.30" x2="329.00" y2="224.30" stroke="#161616" stroke-width="1.3"/>
<line x1="321.50" y1="238.90" x2="329.00" y2="238.90" stroke="#161616" stroke-width="1.3"/>
<text x="331.80" y="226.60" font-size="8.0" textLength="22.80" lengthAdjust="spacingAndGlyphs" stroke="#161616" stroke-width="0.42">DAPK2</text>
<text x="331.80" y="241.40" font-size="8.0" textLength="25.20" lengthAdjust="spacingAndGlyphs" stroke="#161616" stroke-width="0.42">GAPDH</text>
<text x="267.00" y="256.00" font-size="8.0" textLength="23.60" lengthAdjust="spacingAndGlyphs" stroke="#161616" stroke-width="0.42">DAPK2</text>
<text x="268.20" y="264.30" font-size="8.0" textLength="19.70" lengthAdjust="spacingAndGlyphs" stroke="#161616" stroke-width="0.42">siRNA</text>
<text x="301.40" y="256.00" font-size="8.0" textLength="8.00" lengthAdjust="spacingAndGlyphs" stroke="#161616" stroke-width="0.42">luc</text>
<text x="296.80" y="264.30" font-size="8.0" textLength="19.40" lengthAdjust="spacingAndGlyphs" stroke="#161616" stroke-width="0.42">siRNA</text>
<line x1="392.90" y1="148.80" x2="392.90" y2="240.50" stroke="#161616" stroke-width="1.3"/>
<line x1="392.30" y1="240.50" x2="486.30" y2="240.50" stroke="#161616" stroke-width="1.3"/>
<line x1="389.60" y1="240.50" x2="392.90" y2="240.50" stroke="#161616" stroke-width="1.2"/>
<text x="389.40" y="243.30" font-size="7.9" text-anchor="end" stroke="#161616" stroke-width="0.42">0</text>
<line x1="389.60" y1="210.17" x2="392.90" y2="210.17" stroke="#161616" stroke-width="1.2"/>
<text x="389.40" y="212.97" font-size="7.9" text-anchor="end" stroke="#161616" stroke-width="0.42">25</text>
<line x1="389.60" y1="179.84" x2="392.90" y2="179.84" stroke="#161616" stroke-width="1.2"/>
<text x="389.40" y="182.64" font-size="7.9" text-anchor="end" stroke="#161616" stroke-width="0.42">50</text>
<line x1="389.60" y1="149.50" x2="392.90" y2="149.50" stroke="#161616" stroke-width="1.2"/>
<text x="389.40" y="152.30" font-size="7.9" text-anchor="end" stroke="#161616" stroke-width="0.42">75</text>
<line x1="398.75" y1="240.50" x2="398.75" y2="244.00" stroke="#161616" stroke-width="1.2"/>
<text x="398.75" y="251.50" font-size="7.9" text-anchor="middle" stroke="#161616" stroke-width="0.42">24</text>
<line x1="426.25" y1="240.50" x2="426.25" y2="244.00" stroke="#161616" stroke-width="1.2"/>
<text x="426.25" y="251.50" font-size="7.9" text-anchor="middle" stroke="#161616" stroke-width="0.42">48</text>
<line x1="453.75" y1="240.50" x2="453.75" y2="244.00" stroke="#161616" stroke-width="1.2"/>
<text x="453.75" y="251.50" font-size="7.9" text-anchor="middle" stroke="#161616" stroke-width="0.42">72</text>
<line x1="481.25" y1="240.50" x2="481.25" y2="244.00" stroke="#161616" stroke-width="1.2"/>
<text x="481.25" y="251.50" font-size="7.9" text-anchor="middle" stroke="#161616" stroke-width="0.42">96</text>
<text x="440.00" y="260.60" font-size="8.6" text-anchor="middle" textLength="62.50" lengthAdjust="spacingAndGlyphs" stroke="#161616" stroke-width="0.42">Hours of Culture</text>
<text x="380.60" y="195.40" font-size="8.5" text-anchor="middle" textLength="77.00" lengthAdjust="spacingAndGlyphs" stroke="#161616" stroke-width="0.42" transform="rotate(-90 380.60 195.40)">PI Positive Cells, % total</text>
<path d="M398.75,235.75 L426.25,232.00 L453.75,209.50 L481.25,165.50" fill="none" stroke="#161616" stroke-width="1.2"/>
<circle cx="398.75" cy="235.75" r="2.9" fill="#fff" stroke="#161616" stroke-width="1.2"/>
<circle cx="426.25" cy="232.00" r="2.9" fill="#fff" stroke="#161616" stroke-width="1.2"/>
<circle cx="453.75" cy="209.50" r="2.9" fill="#fff" stroke="#161616" stroke-width="1.2"/>
<circle cx="481.25" cy="165.50" r="2.9" fill="#fff" stroke="#161616" stroke-width="1.2"/>
<line x1="478.20" y1="162.30" x2="484.30" y2="162.30" stroke="#161616" stroke-width="1.2"/>
<line x1="478.20" y1="168.70" x2="484.30" y2="168.70" stroke="#161616" stroke-width="1.2"/>
<path d="M398.75,235.00 L426.25,234.25 L453.75,227.00 L481.25,204.25" fill="none" stroke="#161616" stroke-width="1.2"/>
<circle cx="398.75" cy="235.00" r="3.0" fill="#161616" stroke="#161616" stroke-width="1.2"/>
<circle cx="426.25" cy="234.25" r="3.0" fill="#161616" stroke="#161616" stroke-width="1.2"/>
<circle cx="453.75" cy="227.00" r="3.0" fill="#161616" stroke="#161616" stroke-width="1.2"/>
<circle cx="481.25" cy="204.25" r="3.0" fill="#161616" stroke="#161616" stroke-width="1.2"/>
<line x1="398.80" y1="155.00" x2="411.30" y2="155.00" stroke="#161616" stroke-width="1.2"/>
<circle cx="405.00" cy="155.00" r="2.9" fill="#161616" stroke="#161616" stroke-width="1"/>
<line x1="398.80" y1="172.50" x2="411.30" y2="172.50" stroke="#161616" stroke-width="1.2"/>
<circle cx="405.00" cy="172.50" r="2.9" fill="#fff" stroke="#161616" stroke-width="1.2"/>
<text x="417.50" y="153.80" font-size="8.2" textLength="50.00" lengthAdjust="spacingAndGlyphs" stroke="#161616" stroke-width="0.42">UT7epo-CGW-</text>
<text x="417.50" y="162.50" font-size="8.2" textLength="45.00" lengthAdjust="spacingAndGlyphs" stroke="#161616" stroke-width="0.42">DAPK2-siRNA</text>
<text x="417.50" y="171.30" font-size="8.2" textLength="47.50" lengthAdjust="spacingAndGlyphs" stroke="#161616" stroke-width="0.42">UT7epo-CGW</text>
<text x="417.50" y="179.50" font-size="8.2" textLength="32.50" lengthAdjust="spacingAndGlyphs" stroke="#161616" stroke-width="0.42">luc-siRNA</text>
<text x="217.70" y="299.70" font-size="11.2" font-weight="bold" fill="#000" stroke="#000" stroke-width="0.42">G</text>
<line x1="256.60" y1="309.60" x2="256.60" y2="368.60" stroke="#161616" stroke-width="1.3"/>
<line x1="256.00" y1="368.60" x2="327.50" y2="368.60" stroke="#161616" stroke-width="1.3"/>
<line x1="253.40" y1="368.60" x2="256.60" y2="368.60" stroke="#161616" stroke-width="1.2"/>
<text x="253.90" y="371.30" font-size="7.7" text-anchor="end" stroke="#161616" stroke-width="0.42">0</text>
<line x1="253.40" y1="349.23" x2="256.60" y2="349.23" stroke="#161616" stroke-width="1.2"/>
<text x="253.90" y="351.93" font-size="7.7" text-anchor="end" stroke="#161616" stroke-width="0.42">40</text>
<line x1="253.40" y1="329.86" x2="256.60" y2="329.86" stroke="#161616" stroke-width="1.2"/>
<text x="253.90" y="332.56" font-size="7.7" text-anchor="end" stroke="#161616" stroke-width="0.42">80</text>
<line x1="253.40" y1="310.50" x2="256.60" y2="310.50" stroke="#161616" stroke-width="1.2"/>
<text x="253.90" y="313.20" font-size="7.7" text-anchor="end" stroke="#161616" stroke-width="0.42">120</text>
<line x1="274.10" y1="341.30" x2="274.10" y2="342.90" stroke="#161616" stroke-width="1.1"/>
<line x1="271.10" y1="341.30" x2="277.10" y2="341.30" stroke="#161616" stroke-width="1.1"/>
<rect x="268.00" y="342.90" width="12.20" height="25.70" fill="#c6c6c6" stroke="#161616" stroke-width="1.1"/>
<line x1="295.95" y1="328.00" x2="295.95" y2="330.80" stroke="#161616" stroke-width="1.1"/>
<line x1="292.95" y1="328.00" x2="298.95" y2="328.00" stroke="#161616" stroke-width="1.1"/>
<rect x="290.20" y="330.80" width="11.50" height="37.80" fill="#c6c6c6" stroke="#161616" stroke-width="1.1"/>
<line x1="318.05" y1="317.60" x2="318.05" y2="319.70" stroke="#161616" stroke-width="1.1"/>
<line x1="315.05" y1="317.60" x2="321.05" y2="317.60" stroke="#161616" stroke-width="1.1"/>
<rect x="312.30" y="319.70" width="11.50" height="48.90" fill="#c6c6c6" stroke="#161616" stroke-width="1.1"/>
<text x="246.00" y="380.90" font-size="7.6" textLength="16.20" lengthAdjust="spacingAndGlyphs" stroke="#161616" stroke-width="0.42">EPO:</text>
<text x="274.10" y="380.90" font-size="7.6" text-anchor="middle" stroke="#161616" stroke-width="0.42">0</text>
<text x="296.00" y="380.90" font-size="7.6" text-anchor="middle" stroke="#161616" stroke-width="0.42">8</text>
<text x="305.90" y="380.90" font-size="7.6" textLength="21.90" lengthAdjust="spacingAndGlyphs" stroke="#161616" stroke-width="0.42">24min</text>
<text x="238.00" y="345.50" font-size="7.6" text-anchor="middle" textLength="78.60" lengthAdjust="spacingAndGlyphs" stroke="#161616" stroke-width="0.42" transform="rotate(-90 238.00 345.50)">P-MLC Signal Intensity, %</text>
<line x1="258.20" y1="406.50" x2="258.20" y2="464.60" stroke="#161616" stroke-width="1.3"/>
<line x1="257.60" y1="464.60" x2="329.00" y2="464.60" stroke="#161616" stroke-width="1.3"/>
<line x1="255.00" y1="464.60" x2="258.20" y2="464.60" stroke="#161616" stroke-width="1.2"/>
<text x="254.70" y="467.30" font-size="7.7" text-anchor="end" stroke="#161616" stroke-width="0.42">0</text>
<line x1="255.00" y1="450.23" x2="258.20" y2="450.23" stroke="#161616" stroke-width="1.2"/>
<text x="254.70" y="452.93" font-size="7.7" text-anchor="end" stroke="#161616" stroke-width="0.42">25</text>
<line x1="255.00" y1="435.85" x2="258.20" y2="435.85" stroke="#161616" stroke-width="1.2"/>
<text x="254.70" y="438.55" font-size="7.7" text-anchor="end" stroke="#161616" stroke-width="0.42">50</text>
<line x1="255.00" y1="421.48" x2="258.20" y2="421.48" stroke="#161616" stroke-width="1.2"/>
<text x="254.70" y="424.18" font-size="7.7" text-anchor="end" stroke="#161616" stroke-width="0.42">75</text>
<line x1="255.00" y1="407.10" x2="258.20" y2="407.10" stroke="#161616" stroke-width="1.2"/>
<text x="254.70" y="409.80" font-size="7.7" text-anchor="end" stroke="#161616" stroke-width="0.42">100</text>
<rect x="268.10" y="407.10" width="11.70" height="57.50" fill="#c6c6c6" stroke="#161616" stroke-width="1.1"/>
<rect x="290.20" y="448.50" width="11.50" height="16.10" fill="#c6c6c6" stroke="#161616" stroke-width="1.1"/>
<rect x="312.40" y="462.20" width="11.40" height="2.40" fill="#6a6a6a" stroke="#161616" stroke-width="1.1"/>
<text x="248.20" y="477.90" font-size="7.6" textLength="16.60" lengthAdjust="spacingAndGlyphs" stroke="#161616" stroke-width="0.42">EPO:</text>
<text x="275.50" y="477.90" font-size="7.6" text-anchor="middle" stroke="#161616" stroke-width="0.42">0</text>
<text x="296.50" y="477.90" font-size="7.6" text-anchor="middle" stroke="#161616" stroke-width="0.42">8</text>
<text x="306.80" y="477.90" font-size="7.6" textLength="21.70" lengthAdjust="spacingAndGlyphs" stroke="#161616" stroke-width="0.42">24min</text>
<text x="241.30" y="437.50" font-size="7.6" text-anchor="middle" textLength="91.80" lengthAdjust="spacingAndGlyphs" stroke="#161616" stroke-width="0.42" transform="rotate(-90 241.30 437.50)">P-DAPK2 Signal Intensity, %</text>
<text x="356.90" y="321.60" font-size="7.4" text-anchor="end" textLength="13.20" lengthAdjust="spacingAndGlyphs" stroke="#161616" stroke-width="0.42">25K</text>
<text x="356.90" y="335.60" font-size="7.4" text-anchor="end" textLength="13.20" lengthAdjust="spacingAndGlyphs" stroke="#161616" stroke-width="0.42">19K</text>
<text x="356.90" y="345.70" font-size="7.4" text-anchor="end" textLength="13.20" lengthAdjust="spacingAndGlyphs" stroke="#161616" stroke-width="0.42">48K</text>
<text x="356.90" y="359.90" font-size="7.4" text-anchor="end" textLength="13.20" lengthAdjust="spacingAndGlyphs" stroke="#161616" stroke-width="0.42">37K</text>
<line x1="357.90" y1="318.80" x2="364.30" y2="318.80" stroke="#161616" stroke-width="1.4"/>
<line x1="357.90" y1="333.20" x2="364.30" y2="333.20" stroke="#161616" stroke-width="1.4"/>
<line x1="357.90" y1="343.30" x2="364.30" y2="343.30" stroke="#161616" stroke-width="1.4"/>
<line x1="357.90" y1="357.50" x2="364.30" y2="357.50" stroke="#161616" stroke-width="1.4"/>
<rect x="367.5" y="320.0" width="102.3" height="12.0" fill="#eeeeee" filter="url(#bl1)"/>
<rect x="367.5" y="343.6" width="102.3" height="11.4" fill="#e9e9e9" filter="url(#bl1)"/>
<g filter="url(#bl05)">
<ellipse cx="376.35" cy="326.1" rx="8.35" ry="1.4" fill="#4a4a4a"/>
<ellipse cx="391.90" cy="326.1" rx="7.20" ry="1.5" fill="#353535"/>
<ellipse cx="407.60" cy="326.1" rx="8.10" ry="1.7" fill="#1c1c1c"/>
<ellipse cx="423.50" cy="326.1" rx="7.80" ry="1.7" fill="#232323"/>
<ellipse cx="439.45" cy="326.1" rx="7.65" ry="1.7" fill="#1c1c1c"/>
<ellipse cx="456.30" cy="326.1" rx="9.00" ry="1.8" fill="#1c1c1c"/>
<rect x="368.0" y="348.2" width="97.5" height="5.2" rx="2" fill="#6a6a6a"/>
<ellipse cx="376.20" cy="350.8" rx="8.00" ry="2.5" fill="#4e4e4e"/>
<ellipse cx="392.10" cy="350.8" rx="6.90" ry="2.5" fill="#4e4e4e"/>
<ellipse cx="407.60" cy="350.8" rx="7.60" ry="2.5" fill="#4e4e4e"/>
<ellipse cx="423.60" cy="350.8" rx="7.40" ry="2.5" fill="#4e4e4e"/>
<ellipse cx="439.45" cy="350.8" rx="7.15" ry="2.5" fill="#4e4e4e"/>
<ellipse cx="456.50" cy="350.8" rx="8.70" ry="2.5" fill="#4e4e4e"/>
</g>
<line x1="472.10" y1="327.00" x2="477.60" y2="327.00" stroke="#161616" stroke-width="1.3"/>
<line x1="472.10" y1="352.00" x2="477.60" y2="352.00" stroke="#161616" stroke-width="1.3"/>
<text x="481.30" y="329.40" font-size="7.8" textLength="21.30" lengthAdjust="spacingAndGlyphs" stroke="#161616" stroke-width="0.42">P-MLC</text>
<text x="481.30" y="355.30" font-size="7.8" textLength="39.50" lengthAdjust="spacingAndGlyphs" stroke="#161616" stroke-width="0.42">flag-DAPK2</text>
<path d="M373.4,362.8 L373.4,365.2 L395.3,365.2 L395.3,362.8" fill="none" stroke="#333" stroke-width="0.8"/>
<path d="M403.5,362.8 L403.5,365.2 L425.8,365.2 L425.8,362.8" fill="none" stroke="#333" stroke-width="0.8"/>
<path d="M437.8,362.8 L437.8,365.2 L459.7,365.2 L459.7,362.8" fill="none" stroke="#333" stroke-width="0.8"/>
<text x="353.30" y="376.80" font-size="7.6" textLength="15.50" lengthAdjust="spacingAndGlyphs" stroke="#161616" stroke-width="0.42">EPO:</text>
<text x="385.70" y="376.80" font-size="7.6" text-anchor="middle" stroke="#161616" stroke-width="0.42">0</text>
<text x="415.80" y="376.80" font-size="7.6" text-anchor="middle" stroke="#161616" stroke-width="0.42">8</text>
<text x="438.70" y="376.80" font-size="7.6" textLength="21.00" lengthAdjust="spacingAndGlyphs" stroke="#161616" stroke-width="0.42">24min</text>
<text x="369.70" y="421.20" font-size="7.4" text-anchor="end" textLength="13.00" lengthAdjust="spacingAndGlyphs" stroke="#161616" stroke-width="0.42">48K</text>
<text x="369.70" y="433.40" font-size="7.4" text-anchor="end" textLength="13.00" lengthAdjust="spacingAndGlyphs" stroke="#161616" stroke-width="0.42">37K</text>
<text x="369.40" y="444.80" font-size="7.4" text-anchor="end" textLength="13.00" lengthAdjust="spacingAndGlyphs" stroke="#161616" stroke-width="0.42">48K</text>
<text x="369.40" y="456.30" font-size="7.4" text-anchor="end" textLength="13.00" lengthAdjust="spacingAndGlyphs" stroke="#161616" stroke-width="0.42">37K</text>
<line x1="371.00" y1="418.80" x2="377.40" y2="418.80" stroke="#161616" stroke-width="1.4"/>
<line x1="371.00" y1="431.00" x2="377.40" y2="431.00" stroke="#161616" stroke-width="1.4"/>
<line x1="371.00" y1="442.40" x2="377.40" y2="442.40" stroke="#161616" stroke-width="1.4"/>
<line x1="371.00" y1="453.90" x2="377.40" y2="453.90" stroke="#161616" stroke-width="1.4"/>
<g filter="url(#bl05)">
<ellipse cx="388.4" cy="427.7" rx="7.4" ry="1.2" fill="#3a3a3a"/>
<ellipse cx="402.8" cy="427.7" rx="3.8" ry="0.9" fill="#9a9a9a"/>
<ellipse cx="417.8" cy="427.7" rx="1.4" ry="0.8" fill="#c8c8c8"/>
<rect x="380.1" y="448.3" width="53" height="3.4" rx="1.5" fill="url(#gD)"/>
</g>
<line x1="436.30" y1="427.00" x2="441.60" y2="427.00" stroke="#161616" stroke-width="1.3"/>
<line x1="436.30" y1="449.70" x2="441.60" y2="449.70" stroke="#161616" stroke-width="1.3"/>
<text x="443.60" y="430.10" font-size="7.8" textLength="54.80" lengthAdjust="spacingAndGlyphs" stroke="#161616" stroke-width="0.42">P-Ser318-DAPK2</text>
<text x="443.60" y="452.40" font-size="7.8" textLength="23.00" lengthAdjust="spacingAndGlyphs" stroke="#161616" stroke-width="0.42">DAPK2</text>
<text x="362.80" y="466.80" font-size="7.6" textLength="15.50" lengthAdjust="spacingAndGlyphs" stroke="#161616" stroke-width="0.42">EPO:</text>
<text x="388.30" y="466.80" font-size="7.6" text-anchor="middle" stroke="#161616" stroke-width="0.42">0</text>
<text x="407.30" y="466.80" font-size="7.6" text-anchor="middle" stroke="#161616" stroke-width="0.42">8</text>
<text x="414.90" y="466.80" font-size="7.6" textLength="21.00" lengthAdjust="spacingAndGlyphs" stroke="#161616" stroke-width="0.42">24min</text>
</g>
</svg>
</body></html>
